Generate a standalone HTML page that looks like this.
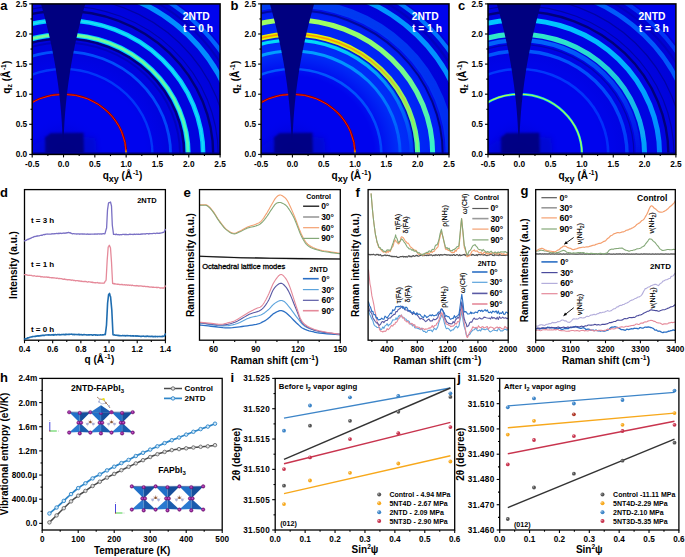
<!DOCTYPE html>
<html><head><meta charset="utf-8"><style>html,body{margin:0;padding:0;background:#fff;overflow:hidden}svg{display:block}</style></head><body>
<svg width="685" height="557" viewBox="0 0 685 557" font-family='"Liberation Sans", sans-serif'>
<defs>
<filter id="blur1" x="-20%" y="-20%" width="140%" height="140%"><feGaussianBlur stdDeviation="0.9"/></filter>
<filter id="blur2" x="-30%" y="-30%" width="160%" height="160%"><feGaussianBlur stdDeviation="2.0"/></filter>
<filter id="soft" x="-5%" y="-5%" width="110%" height="110%"><feGaussianBlur stdDeviation="0.45"/></filter>
<radialGradient id="bg0"><stop offset="0" stop-color="#000090" stop-opacity="0.6"/><stop offset="0.1" stop-color="#0000a0" stop-opacity="0.25"/><stop offset="0.22" stop-color="#0000ff" stop-opacity="0"/><stop offset="0.42" stop-color="#0000b8" stop-opacity="0"/><stop offset="0.55" stop-color="#0000b8" stop-opacity="0.3"/><stop offset="0.76" stop-color="#0000b8" stop-opacity="0.3"/><stop offset="0.8" stop-color="#0000c0" stop-opacity="0.35"/><stop offset="1" stop-color="#0000c0" stop-opacity="0.6"/></radialGradient>
<radialGradient id="bg1"><stop offset="0" stop-color="#000090" stop-opacity="0.6"/><stop offset="0.1" stop-color="#0000a0" stop-opacity="0.25"/><stop offset="0.22" stop-color="#0000ff" stop-opacity="0"/><stop offset="0.42" stop-color="#0050ff" stop-opacity="0"/><stop offset="0.55" stop-color="#0050ff" stop-opacity="0.55"/><stop offset="0.76" stop-color="#0050ff" stop-opacity="0.35"/><stop offset="0.8" stop-color="#0000c0" stop-opacity="0.35"/><stop offset="1" stop-color="#0000c0" stop-opacity="0.6"/></radialGradient>
<radialGradient id="bg2"><stop offset="0" stop-color="#000090" stop-opacity="0.6"/><stop offset="0.1" stop-color="#0000a0" stop-opacity="0.25"/><stop offset="0.22" stop-color="#0000ff" stop-opacity="0"/><stop offset="0.42" stop-color="#0000b8" stop-opacity="0"/><stop offset="0.55" stop-color="#0000b8" stop-opacity="0.2"/><stop offset="0.76" stop-color="#0000b8" stop-opacity="0.25"/><stop offset="0.8" stop-color="#0000c0" stop-opacity="0.35"/><stop offset="1" stop-color="#0000c0" stop-opacity="0.6"/></radialGradient>
</defs>
<rect width="685" height="557" fill="#fff"/>
<clipPath id="clip0"><rect x="32.2" y="3.9" width="187.9" height="150.5"/></clipPath>
<g clip-path="url(#clip0)">
<rect x="32.2" y="3.9" width="187.9" height="150.5" fill="#0004ee"/>
<ellipse cx="63.52" cy="154.4" rx="194.16" ry="186.4" fill="url(#bg0)"/>
<g filter="url(#soft)">
<linearGradient id="rg0_0" gradientUnits="userSpaceOnUse" x1="0" y1="94.27" x2="0" y2="154.4"><stop offset="0" stop-color="#8a0000" stop-opacity="1"/><stop offset="0.9" stop-color="#8a0000" stop-opacity="1"/><stop offset="1" stop-color="#b0ff40" stop-opacity="1"/></linearGradient>
<ellipse cx="63.52" cy="154.4" rx="62.63" ry="60.13" fill="none" stroke="url(#rg0_0)" stroke-width="2.1"/>
<linearGradient id="rg0_1" gradientUnits="userSpaceOnUse" x1="0" y1="94.27" x2="0" y2="154.4"><stop offset="0" stop-color="#ff2000" stop-opacity="1"/><stop offset="0.92" stop-color="#ff2000" stop-opacity="1"/><stop offset="1" stop-color="#ffe000" stop-opacity="1"/></linearGradient>
<ellipse cx="63.52" cy="154.4" rx="62.63" ry="60.13" fill="none" stroke="url(#rg0_1)" stroke-width="0.9"/>
<linearGradient id="rg0_2" gradientUnits="userSpaceOnUse" x1="0" y1="69.02" x2="0" y2="154.4"><stop offset="0" stop-color="#0048ff" stop-opacity="0.75"/><stop offset="0" stop-color="#0048ff" stop-opacity="0.75"/><stop offset="1" stop-color="#0048ff" stop-opacity="0.7"/></linearGradient>
<ellipse cx="63.52" cy="154.4" rx="88.94" ry="85.38" fill="none" stroke="url(#rg0_2)" stroke-width="2.4"/>
<linearGradient id="rg0_3" gradientUnits="userSpaceOnUse" x1="0" y1="51.58" x2="0" y2="154.4"><stop offset="0" stop-color="#0058ff" stop-opacity="0.9"/><stop offset="0" stop-color="#0058ff" stop-opacity="0.9"/><stop offset="1" stop-color="#0050ff" stop-opacity="0.85"/></linearGradient>
<ellipse cx="63.52" cy="154.4" rx="107.1" ry="102.82" fill="none" stroke="url(#rg0_3)" stroke-width="2.8"/>
<linearGradient id="rg0_4" gradientUnits="userSpaceOnUse" x1="0" y1="42.56" x2="0" y2="154.4"><stop offset="0" stop-color="#0000a8" stop-opacity="0.6"/><stop offset="0" stop-color="#0000a8" stop-opacity="0.6"/><stop offset="1" stop-color="#0000a8" stop-opacity="0.6"/></linearGradient>
<ellipse cx="63.52" cy="154.4" rx="116.5" ry="111.84" fill="none" stroke="url(#rg0_4)" stroke-width="2"/>
<linearGradient id="rg0_5" gradientUnits="userSpaceOnUse" x1="0" y1="38.65" x2="0" y2="154.4"><stop offset="0" stop-color="#000070" stop-opacity="0.9"/><stop offset="0" stop-color="#000070" stop-opacity="0.9"/><stop offset="1" stop-color="#000070" stop-opacity="0.85"/></linearGradient>
<ellipse cx="63.52" cy="154.4" rx="120.57" ry="115.75" fill="none" stroke="url(#rg0_5)" stroke-width="2.4"/>
<linearGradient id="rg0_6" gradientUnits="userSpaceOnUse" x1="0" y1="34.75" x2="0" y2="154.4"><stop offset="0" stop-color="#00d8ff" stop-opacity="1"/><stop offset="0" stop-color="#00d8ff" stop-opacity="1"/><stop offset="1" stop-color="#00e0ff" stop-opacity="1"/></linearGradient>
<ellipse cx="63.52" cy="154.4" rx="124.64" ry="119.65" fill="none" stroke="url(#rg0_6)" stroke-width="5"/>
<linearGradient id="rg0_7" gradientUnits="userSpaceOnUse" x1="0" y1="34.75" x2="0" y2="154.4"><stop offset="0" stop-color="#80ff90" stop-opacity="0.9"/><stop offset="0" stop-color="#80ff90" stop-opacity="0.9"/><stop offset="1" stop-color="#70ffa0" stop-opacity="0.7"/></linearGradient>
<ellipse cx="63.52" cy="154.4" rx="124.64" ry="119.65" fill="none" stroke="url(#rg0_7)" stroke-width="2.8"/>
<linearGradient id="rg0_8" gradientUnits="userSpaceOnUse" x1="0" y1="20.31" x2="0" y2="154.4"><stop offset="0" stop-color="#00d0ff" stop-opacity="1"/><stop offset="0" stop-color="#00d0ff" stop-opacity="1"/><stop offset="1" stop-color="#00c8ff" stop-opacity="1"/></linearGradient>
<ellipse cx="63.52" cy="154.4" rx="139.67" ry="134.09" fill="none" stroke="url(#rg0_8)" stroke-width="4.6"/>
<linearGradient id="rg0_9" gradientUnits="userSpaceOnUse" x1="0" y1="20.31" x2="0" y2="154.4"><stop offset="0" stop-color="#40f0e0" stop-opacity="0.5"/><stop offset="0" stop-color="#40f0e0" stop-opacity="0.5"/><stop offset="1" stop-color="#30e8f0" stop-opacity="0.5"/></linearGradient>
<ellipse cx="63.52" cy="154.4" rx="139.67" ry="134.09" fill="none" stroke="url(#rg0_9)" stroke-width="1.6"/>
<linearGradient id="rg0_10" gradientUnits="userSpaceOnUse" x1="0" y1="10.69" x2="0" y2="154.4"><stop offset="0" stop-color="#000070" stop-opacity="0.9"/><stop offset="0" stop-color="#000070" stop-opacity="0.9"/><stop offset="1" stop-color="#000070" stop-opacity="0.9"/></linearGradient>
<ellipse cx="63.52" cy="154.4" rx="149.69" ry="143.71" fill="none" stroke="url(#rg0_10)" stroke-width="2.4"/>
<linearGradient id="rg0_11" gradientUnits="userSpaceOnUse" x1="0" y1="5.88" x2="0" y2="154.4"><stop offset="0" stop-color="#000070" stop-opacity="0.5"/><stop offset="0" stop-color="#000070" stop-opacity="0.5"/><stop offset="1" stop-color="#000070" stop-opacity="0.5"/></linearGradient>
<ellipse cx="63.52" cy="154.4" rx="154.7" ry="148.52" fill="none" stroke="url(#rg0_11)" stroke-width="1.2"/>
<linearGradient id="rg0_12" gradientUnits="userSpaceOnUse" x1="0" y1="-3.14" x2="0" y2="154.4"><stop offset="0" stop-color="#000070" stop-opacity="0.5"/><stop offset="0" stop-color="#000070" stop-opacity="0.5"/><stop offset="1" stop-color="#000070" stop-opacity="0.5"/></linearGradient>
<ellipse cx="63.52" cy="154.4" rx="164.1" ry="157.54" fill="none" stroke="url(#rg0_12)" stroke-width="1.2"/>
<linearGradient id="rg0_13" gradientUnits="userSpaceOnUse" x1="0" y1="-14.56" x2="0" y2="154.4"><stop offset="0" stop-color="#0090ff" stop-opacity="1"/><stop offset="0" stop-color="#0090ff" stop-opacity="1"/><stop offset="1" stop-color="#0088ff" stop-opacity="1"/></linearGradient>
<ellipse cx="63.52" cy="154.4" rx="176" ry="168.96" fill="none" stroke="url(#rg0_13)" stroke-width="5.2"/>
<linearGradient id="rg0_14" gradientUnits="userSpaceOnUse" x1="0" y1="-21.78" x2="0" y2="154.4"><stop offset="0" stop-color="#0000b0" stop-opacity="0.7"/><stop offset="0" stop-color="#0000b0" stop-opacity="0.7"/><stop offset="1" stop-color="#0000b0" stop-opacity="0.7"/></linearGradient>
<ellipse cx="63.52" cy="154.4" rx="183.52" ry="176.18" fill="none" stroke="url(#rg0_14)" stroke-width="2"/>
<linearGradient id="rg0_15" gradientUnits="userSpaceOnUse" x1="0" y1="-28.39" x2="0" y2="154.4"><stop offset="0" stop-color="#0068ff" stop-opacity="0.95"/><stop offset="0" stop-color="#0068ff" stop-opacity="0.95"/><stop offset="1" stop-color="#0068ff" stop-opacity="0.95"/></linearGradient>
<ellipse cx="63.52" cy="154.4" rx="190.41" ry="182.79" fill="none" stroke="url(#rg0_15)" stroke-width="4.2"/>
</g>
<polygon points="78.52,156.4 78.52,136.4 95.52,137.4 97.52,156.4" fill="#0008c8" filter="url(#blur2)" opacity="0.6"/>
<polygon points="45.02,156.4 45.02,137.4 50.52,133.2 83.52,132.8 84.02,156.4" fill="#00007e" filter="url(#blur1)" opacity="0.92"/>
<polygon points="32.52,156.4 32.52,146.4 45.52,138.4 45.52,156.4" fill="#0010d0" filter="url(#blur2)" opacity="0.35"/>
<rect x="32.2" y="152.2" width="187.9" height="2.2" fill="#000090" opacity="0.8"/>
<polygon points="40.11,0.89 40.99,3.9 41.85,6.91 42.69,9.92 43.52,12.93 44.33,15.94 45.12,18.95 45.9,21.96 46.66,24.97 47.4,27.98 48.12,30.99 48.83,34 49.52,37.01 50.19,40.02 50.84,43.03 51.48,46.04 52.09,49.05 52.7,52.06 53.28,55.07 53.85,58.08 54.39,61.09 54.93,64.1 55.44,67.11 55.94,70.12 56.42,73.13 56.88,76.14 57.32,79.15 57.75,82.16 58.16,85.17 58.55,88.18 58.92,91.19 59.28,94.2 59.62,97.21 59.94,100.22 60.25,103.23 60.54,106.24 60.81,109.25 61.06,112.26 61.29,115.27 61.51,118.28 61.71,121.29 61.9,124.3 62.06,127.31 62.21,130.32 62.34,133.33 62.45,136.34 63.12,141.16 63.78,136.34 63.89,133.33 64.02,130.32 64.17,127.31 64.34,124.3 64.52,121.29 64.72,118.28 64.94,115.27 65.17,112.26 65.43,109.25 65.7,106.24 65.98,103.23 66.29,100.22 66.61,97.21 66.95,94.2 67.31,91.19 67.68,88.18 68.08,85.17 68.48,82.16 68.91,79.15 69.36,76.14 69.82,73.13 70.3,70.12 70.79,67.11 71.31,64.1 71.84,61.09 72.39,58.08 72.95,55.07 73.54,52.06 74.14,49.05 74.76,46.04 75.39,43.03 76.05,40.02 76.72,37.01 77.41,34 78.11,30.99 78.84,27.98 79.58,24.97 80.33,21.96 81.11,18.95 81.9,15.94 82.71,12.93 83.54,9.92 84.38,6.91 85.25,3.9 86.13,0.89" fill="#000080"/>
</g>
<rect x="32.2" y="3.9" width="187.9" height="150.5" fill="none" stroke="#000" stroke-width="1.5"/>
<line x1="32.2" y1="154.4" x2="32.2" y2="157.4" stroke="#000" stroke-width="1.1"/>
<line x1="63.52" y1="154.4" x2="63.52" y2="157.4" stroke="#000" stroke-width="1.1"/>
<line x1="94.83" y1="154.4" x2="94.83" y2="157.4" stroke="#000" stroke-width="1.1"/>
<line x1="126.15" y1="154.4" x2="126.15" y2="157.4" stroke="#000" stroke-width="1.1"/>
<line x1="157.47" y1="154.4" x2="157.47" y2="157.4" stroke="#000" stroke-width="1.1"/>
<line x1="188.78" y1="154.4" x2="188.78" y2="157.4" stroke="#000" stroke-width="1.1"/>
<line x1="220.1" y1="154.4" x2="220.1" y2="157.4" stroke="#000" stroke-width="1.1"/>
<line x1="47.86" y1="154.4" x2="47.86" y2="156.1" stroke="#000" stroke-width="1.1"/>
<line x1="79.18" y1="154.4" x2="79.18" y2="156.1" stroke="#000" stroke-width="1.1"/>
<line x1="110.49" y1="154.4" x2="110.49" y2="156.1" stroke="#000" stroke-width="1.1"/>
<line x1="141.81" y1="154.4" x2="141.81" y2="156.1" stroke="#000" stroke-width="1.1"/>
<line x1="173.12" y1="154.4" x2="173.12" y2="156.1" stroke="#000" stroke-width="1.1"/>
<line x1="204.44" y1="154.4" x2="204.44" y2="156.1" stroke="#000" stroke-width="1.1"/>
<text x="32.2" y="166.5" font-size="8.3" text-anchor="middle" font-weight="bold" fill="#000">-0.5</text>
<text x="63.52" y="166.5" font-size="8.3" text-anchor="middle" font-weight="bold" fill="#000">0.0</text>
<text x="94.83" y="166.5" font-size="8.3" text-anchor="middle" font-weight="bold" fill="#000">0.5</text>
<text x="126.15" y="166.5" font-size="8.3" text-anchor="middle" font-weight="bold" fill="#000">1.0</text>
<text x="157.47" y="166.5" font-size="8.3" text-anchor="middle" font-weight="bold" fill="#000">1.5</text>
<text x="188.78" y="166.5" font-size="8.3" text-anchor="middle" font-weight="bold" fill="#000">2.0</text>
<text x="220.1" y="166.5" font-size="8.3" text-anchor="middle" font-weight="bold" fill="#000">2.5</text>
<line x1="32.2" y1="154.4" x2="29.2" y2="154.4" stroke="#000" stroke-width="1.1"/>
<line x1="32.2" y1="124.3" x2="29.2" y2="124.3" stroke="#000" stroke-width="1.1"/>
<line x1="32.2" y1="94.2" x2="29.2" y2="94.2" stroke="#000" stroke-width="1.1"/>
<line x1="32.2" y1="64.1" x2="29.2" y2="64.1" stroke="#000" stroke-width="1.1"/>
<line x1="32.2" y1="34" x2="29.2" y2="34" stroke="#000" stroke-width="1.1"/>
<line x1="32.2" y1="3.9" x2="29.2" y2="3.9" stroke="#000" stroke-width="1.1"/>
<line x1="32.2" y1="139.35" x2="30.5" y2="139.35" stroke="#000" stroke-width="1.1"/>
<line x1="32.2" y1="109.25" x2="30.5" y2="109.25" stroke="#000" stroke-width="1.1"/>
<line x1="32.2" y1="79.15" x2="30.5" y2="79.15" stroke="#000" stroke-width="1.1"/>
<line x1="32.2" y1="49.05" x2="30.5" y2="49.05" stroke="#000" stroke-width="1.1"/>
<line x1="32.2" y1="18.95" x2="30.5" y2="18.95" stroke="#000" stroke-width="1.1"/>
<text x="27.2" y="157.4" font-size="8.3" text-anchor="end" font-weight="bold" fill="#000">0.0</text>
<text x="27.2" y="127.3" font-size="8.3" text-anchor="end" font-weight="bold" fill="#000">0.5</text>
<text x="27.2" y="97.2" font-size="8.3" text-anchor="end" font-weight="bold" fill="#000">1.0</text>
<text x="27.2" y="67.1" font-size="8.3" text-anchor="end" font-weight="bold" fill="#000">1.5</text>
<text x="27.2" y="37" font-size="8.3" text-anchor="end" font-weight="bold" fill="#000">2.0</text>
<text x="27.2" y="6.9" font-size="8.3" text-anchor="end" font-weight="bold" fill="#000">2.5</text>
<text x="182.8" y="19.5" font-size="10.3" text-anchor="start" font-weight="bold" fill="#fff">2NTD</text>
<text x="183" y="31.6" font-size="10.3" text-anchor="start" font-weight="bold" fill="#fff">t = 0 h</text>
<text x="10.2" y="77.15" font-size="10" text-anchor="middle" font-weight="bold" fill="#000" transform="rotate(-90 10.2 77.15)">q<tspan font-size="7" dy="2">z</tspan><tspan dy="-2"> (Å</tspan><tspan font-size="6.6" dy="-3.8" dx="0.7">-1</tspan><tspan dy="3.8" dx="0.3">)</tspan></text>
<text x="122.55" y="178.8" font-size="10" text-anchor="middle" font-weight="bold" fill="#000">q<tspan font-size="9" dy="2.8">xy</tspan><tspan dy="-2.8"> (Å</tspan><tspan font-size="6.6" dy="-3.8" dx="0.7">-1</tspan><tspan dy="3.8" dx="0.3">)</tspan></text>
<text x="0.2" y="9.5" font-size="13" text-anchor="start" font-weight="bold" fill="#000">a</text>
<clipPath id="clip1"><rect x="261.1" y="3.9" width="187.9" height="150.5"/></clipPath>
<g clip-path="url(#clip1)">
<rect x="261.1" y="3.9" width="187.9" height="150.5" fill="#0004ee"/>
<ellipse cx="292.42" cy="154.4" rx="194.16" ry="186.4" fill="url(#bg1)"/>
<g filter="url(#soft)">
<linearGradient id="rg1_0" gradientUnits="userSpaceOnUse" x1="0" y1="94.27" x2="0" y2="154.4"><stop offset="0" stop-color="#8a0000" stop-opacity="1"/><stop offset="0.9" stop-color="#8a0000" stop-opacity="1"/><stop offset="1" stop-color="#c0ff20" stop-opacity="1"/></linearGradient>
<ellipse cx="292.42" cy="154.4" rx="62.63" ry="60.13" fill="none" stroke="url(#rg1_0)" stroke-width="2.1"/>
<linearGradient id="rg1_1" gradientUnits="userSpaceOnUse" x1="0" y1="94.27" x2="0" y2="154.4"><stop offset="0" stop-color="#ff2000" stop-opacity="1"/><stop offset="0.92" stop-color="#ff2000" stop-opacity="1"/><stop offset="1" stop-color="#ffe000" stop-opacity="1"/></linearGradient>
<ellipse cx="292.42" cy="154.4" rx="62.63" ry="60.13" fill="none" stroke="url(#rg1_1)" stroke-width="0.9"/>
<linearGradient id="rg1_2" gradientUnits="userSpaceOnUse" x1="0" y1="69.02" x2="0" y2="154.4"><stop offset="0" stop-color="#0060ff" stop-opacity="0.9"/><stop offset="0" stop-color="#0060ff" stop-opacity="0.9"/><stop offset="1" stop-color="#0050ff" stop-opacity="0.8"/></linearGradient>
<ellipse cx="292.42" cy="154.4" rx="88.94" ry="85.38" fill="none" stroke="url(#rg1_2)" stroke-width="2.6"/>
<linearGradient id="rg1_3" gradientUnits="userSpaceOnUse" x1="0" y1="50.98" x2="0" y2="154.4"><stop offset="0" stop-color="#00a0ff" stop-opacity="1"/><stop offset="0" stop-color="#00a0ff" stop-opacity="1"/><stop offset="1" stop-color="#0058ff" stop-opacity="0.85"/></linearGradient>
<ellipse cx="292.42" cy="154.4" rx="107.73" ry="103.42" fill="none" stroke="url(#rg1_3)" stroke-width="3"/>
<linearGradient id="rg1_4" gradientUnits="userSpaceOnUse" x1="0" y1="40.16" x2="0" y2="154.4"><stop offset="0" stop-color="#00e0f8" stop-opacity="1"/><stop offset="0" stop-color="#00e0f8" stop-opacity="1"/><stop offset="1" stop-color="#0090ff" stop-opacity="0.15"/></linearGradient>
<ellipse cx="292.42" cy="154.4" rx="119" ry="114.24" fill="none" stroke="url(#rg1_4)" stroke-width="3.4"/>
<linearGradient id="rg1_5" gradientUnits="userSpaceOnUse" x1="0" y1="37.15" x2="0" y2="154.4"><stop offset="0" stop-color="#000070" stop-opacity="0.3"/><stop offset="0" stop-color="#000070" stop-opacity="0.3"/><stop offset="1" stop-color="#000070" stop-opacity="0.8"/></linearGradient>
<ellipse cx="292.42" cy="154.4" rx="122.13" ry="117.25" fill="none" stroke="url(#rg1_5)" stroke-width="1"/>
<linearGradient id="rg1_6" gradientUnits="userSpaceOnUse" x1="0" y1="34.14" x2="0" y2="154.4"><stop offset="0" stop-color="#e8f000" stop-opacity="1"/><stop offset="0" stop-color="#e8f000" stop-opacity="1"/><stop offset="1" stop-color="#40ffb0" stop-opacity="1"/></linearGradient>
<ellipse cx="292.42" cy="154.4" rx="125.27" ry="120.26" fill="none" stroke="url(#rg1_6)" stroke-width="5"/>
<linearGradient id="rg1_7" gradientUnits="userSpaceOnUse" x1="0" y1="34.14" x2="0" y2="154.4"><stop offset="0" stop-color="#ff8000" stop-opacity="0.8"/><stop offset="0" stop-color="#ff8000" stop-opacity="0.8"/><stop offset="1" stop-color="#a0ff60" stop-opacity="0.5"/></linearGradient>
<ellipse cx="292.42" cy="154.4" rx="125.27" ry="120.26" fill="none" stroke="url(#rg1_7)" stroke-width="1.8"/>
<linearGradient id="rg1_8" gradientUnits="userSpaceOnUse" x1="0" y1="19.71" x2="0" y2="154.4"><stop offset="0" stop-color="#a0ff60" stop-opacity="1"/><stop offset="0" stop-color="#a0ff60" stop-opacity="1"/><stop offset="1" stop-color="#30f0d0" stop-opacity="1"/></linearGradient>
<ellipse cx="292.42" cy="154.4" rx="140.3" ry="134.69" fill="none" stroke="url(#rg1_8)" stroke-width="5"/>
<linearGradient id="rg1_9" gradientUnits="userSpaceOnUse" x1="0" y1="10.09" x2="0" y2="154.4"><stop offset="0" stop-color="#000070" stop-opacity="0.6"/><stop offset="0" stop-color="#000070" stop-opacity="0.6"/><stop offset="1" stop-color="#000070" stop-opacity="0.9"/></linearGradient>
<ellipse cx="292.42" cy="154.4" rx="150.32" ry="144.31" fill="none" stroke="url(#rg1_9)" stroke-width="2"/>
<linearGradient id="rg1_10" gradientUnits="userSpaceOnUse" x1="0" y1="2.88" x2="0" y2="154.4"><stop offset="0" stop-color="#0060ff" stop-opacity="0.6"/><stop offset="0" stop-color="#0060ff" stop-opacity="0.6"/><stop offset="1" stop-color="#0050ff" stop-opacity="0.5"/></linearGradient>
<ellipse cx="292.42" cy="154.4" rx="157.84" ry="151.52" fill="none" stroke="url(#rg1_10)" stroke-width="9"/>
<linearGradient id="rg1_11" gradientUnits="userSpaceOnUse" x1="0" y1="-14.56" x2="0" y2="154.4"><stop offset="0" stop-color="#0098ff" stop-opacity="1"/><stop offset="0" stop-color="#0098ff" stop-opacity="1"/><stop offset="1" stop-color="#0088ff" stop-opacity="1"/></linearGradient>
<ellipse cx="292.42" cy="154.4" rx="176" ry="168.96" fill="none" stroke="url(#rg1_11)" stroke-width="5"/>
<linearGradient id="rg1_12" gradientUnits="userSpaceOnUse" x1="0" y1="-21.78" x2="0" y2="154.4"><stop offset="0" stop-color="#0000b0" stop-opacity="0.6"/><stop offset="0" stop-color="#0000b0" stop-opacity="0.6"/><stop offset="1" stop-color="#0000b0" stop-opacity="0.6"/></linearGradient>
<ellipse cx="292.42" cy="154.4" rx="183.52" ry="176.18" fill="none" stroke="url(#rg1_12)" stroke-width="2.4"/>
<linearGradient id="rg1_13" gradientUnits="userSpaceOnUse" x1="0" y1="-28.39" x2="0" y2="154.4"><stop offset="0" stop-color="#0080ff" stop-opacity="0.95"/><stop offset="0" stop-color="#0080ff" stop-opacity="0.95"/><stop offset="1" stop-color="#0070ff" stop-opacity="0.95"/></linearGradient>
<ellipse cx="292.42" cy="154.4" rx="190.41" ry="182.79" fill="none" stroke="url(#rg1_13)" stroke-width="4.2"/>
</g>
<polygon points="307.42,156.4 307.42,136.4 324.42,137.4 326.42,156.4" fill="#0008c8" filter="url(#blur2)" opacity="0.6"/>
<polygon points="273.92,156.4 273.92,137.4 279.42,133.2 312.42,132.8 312.92,156.4" fill="#00007e" filter="url(#blur1)" opacity="0.92"/>
<polygon points="261.42,156.4 261.42,146.4 274.42,138.4 274.42,156.4" fill="#0010d0" filter="url(#blur2)" opacity="0.35"/>
<rect x="261.1" y="152.2" width="187.9" height="2.2" fill="#000090" opacity="0.8"/>
<polygon points="269.01,0.89 269.89,3.9 270.75,6.91 271.59,9.92 272.42,12.93 273.23,15.94 274.02,18.95 274.8,21.96 275.56,24.97 276.3,27.98 277.02,30.99 277.73,34 278.42,37.01 279.09,40.02 279.74,43.03 280.38,46.04 280.99,49.05 281.6,52.06 282.18,55.07 282.75,58.08 283.29,61.09 283.83,64.1 284.34,67.11 284.84,70.12 285.32,73.13 285.78,76.14 286.22,79.15 286.65,82.16 287.06,85.17 287.45,88.18 287.82,91.19 288.18,94.2 288.52,97.21 288.84,100.22 289.15,103.23 289.44,106.24 289.71,109.25 289.96,112.26 290.19,115.27 290.41,118.28 290.61,121.29 290.8,124.3 290.96,127.31 291.11,130.32 291.24,133.33 291.35,136.34 292.02,141.16 292.68,136.34 292.79,133.33 292.92,130.32 293.07,127.31 293.24,124.3 293.42,121.29 293.62,118.28 293.84,115.27 294.07,112.26 294.33,109.25 294.6,106.24 294.88,103.23 295.19,100.22 295.51,97.21 295.85,94.2 296.21,91.19 296.58,88.18 296.98,85.17 297.38,82.16 297.81,79.15 298.26,76.14 298.72,73.13 299.2,70.12 299.69,67.11 300.21,64.1 300.74,61.09 301.29,58.08 301.85,55.07 302.44,52.06 303.04,49.05 303.66,46.04 304.29,43.03 304.95,40.02 305.62,37.01 306.31,34 307.01,30.99 307.74,27.98 308.48,24.97 309.23,21.96 310.01,18.95 310.8,15.94 311.61,12.93 312.44,9.92 313.28,6.91 314.15,3.9 315.03,0.89" fill="#000080"/>
</g>
<rect x="261.1" y="3.9" width="187.9" height="150.5" fill="none" stroke="#000" stroke-width="1.5"/>
<line x1="261.1" y1="154.4" x2="261.1" y2="157.4" stroke="#000" stroke-width="1.1"/>
<line x1="292.42" y1="154.4" x2="292.42" y2="157.4" stroke="#000" stroke-width="1.1"/>
<line x1="323.73" y1="154.4" x2="323.73" y2="157.4" stroke="#000" stroke-width="1.1"/>
<line x1="355.05" y1="154.4" x2="355.05" y2="157.4" stroke="#000" stroke-width="1.1"/>
<line x1="386.37" y1="154.4" x2="386.37" y2="157.4" stroke="#000" stroke-width="1.1"/>
<line x1="417.68" y1="154.4" x2="417.68" y2="157.4" stroke="#000" stroke-width="1.1"/>
<line x1="449" y1="154.4" x2="449" y2="157.4" stroke="#000" stroke-width="1.1"/>
<line x1="276.76" y1="154.4" x2="276.76" y2="156.1" stroke="#000" stroke-width="1.1"/>
<line x1="308.08" y1="154.4" x2="308.08" y2="156.1" stroke="#000" stroke-width="1.1"/>
<line x1="339.39" y1="154.4" x2="339.39" y2="156.1" stroke="#000" stroke-width="1.1"/>
<line x1="370.71" y1="154.4" x2="370.71" y2="156.1" stroke="#000" stroke-width="1.1"/>
<line x1="402.02" y1="154.4" x2="402.02" y2="156.1" stroke="#000" stroke-width="1.1"/>
<line x1="433.34" y1="154.4" x2="433.34" y2="156.1" stroke="#000" stroke-width="1.1"/>
<text x="261.1" y="166.5" font-size="8.3" text-anchor="middle" font-weight="bold" fill="#000">-0.5</text>
<text x="292.42" y="166.5" font-size="8.3" text-anchor="middle" font-weight="bold" fill="#000">0.0</text>
<text x="323.73" y="166.5" font-size="8.3" text-anchor="middle" font-weight="bold" fill="#000">0.5</text>
<text x="355.05" y="166.5" font-size="8.3" text-anchor="middle" font-weight="bold" fill="#000">1.0</text>
<text x="386.37" y="166.5" font-size="8.3" text-anchor="middle" font-weight="bold" fill="#000">1.5</text>
<text x="417.68" y="166.5" font-size="8.3" text-anchor="middle" font-weight="bold" fill="#000">2.0</text>
<text x="449" y="166.5" font-size="8.3" text-anchor="middle" font-weight="bold" fill="#000">2.5</text>
<line x1="261.1" y1="154.4" x2="258.1" y2="154.4" stroke="#000" stroke-width="1.1"/>
<line x1="261.1" y1="124.3" x2="258.1" y2="124.3" stroke="#000" stroke-width="1.1"/>
<line x1="261.1" y1="94.2" x2="258.1" y2="94.2" stroke="#000" stroke-width="1.1"/>
<line x1="261.1" y1="64.1" x2="258.1" y2="64.1" stroke="#000" stroke-width="1.1"/>
<line x1="261.1" y1="34" x2="258.1" y2="34" stroke="#000" stroke-width="1.1"/>
<line x1="261.1" y1="3.9" x2="258.1" y2="3.9" stroke="#000" stroke-width="1.1"/>
<line x1="261.1" y1="139.35" x2="259.4" y2="139.35" stroke="#000" stroke-width="1.1"/>
<line x1="261.1" y1="109.25" x2="259.4" y2="109.25" stroke="#000" stroke-width="1.1"/>
<line x1="261.1" y1="79.15" x2="259.4" y2="79.15" stroke="#000" stroke-width="1.1"/>
<line x1="261.1" y1="49.05" x2="259.4" y2="49.05" stroke="#000" stroke-width="1.1"/>
<line x1="261.1" y1="18.95" x2="259.4" y2="18.95" stroke="#000" stroke-width="1.1"/>
<text x="256.1" y="157.4" font-size="8.3" text-anchor="end" font-weight="bold" fill="#000">0.0</text>
<text x="256.1" y="127.3" font-size="8.3" text-anchor="end" font-weight="bold" fill="#000">0.5</text>
<text x="256.1" y="97.2" font-size="8.3" text-anchor="end" font-weight="bold" fill="#000">1.0</text>
<text x="256.1" y="67.1" font-size="8.3" text-anchor="end" font-weight="bold" fill="#000">1.5</text>
<text x="256.1" y="37" font-size="8.3" text-anchor="end" font-weight="bold" fill="#000">2.0</text>
<text x="256.1" y="6.9" font-size="8.3" text-anchor="end" font-weight="bold" fill="#000">2.5</text>
<text x="411.7" y="19.5" font-size="10.3" text-anchor="start" font-weight="bold" fill="#fff">2NTD</text>
<text x="411.9" y="31.6" font-size="10.3" text-anchor="start" font-weight="bold" fill="#fff">t = 1 h</text>
<text x="239.1" y="77.15" font-size="10" text-anchor="middle" font-weight="bold" fill="#000" transform="rotate(-90 239.1 77.15)">q<tspan font-size="7" dy="2">z</tspan><tspan dy="-2"> (Å</tspan><tspan font-size="6.6" dy="-3.8" dx="0.7">-1</tspan><tspan dy="3.8" dx="0.3">)</tspan></text>
<text x="351.45" y="178.8" font-size="10" text-anchor="middle" font-weight="bold" fill="#000">q<tspan font-size="9" dy="2.8">xy</tspan><tspan dy="-2.8"> (Å</tspan><tspan font-size="6.6" dy="-3.8" dx="0.7">-1</tspan><tspan dy="3.8" dx="0.3">)</tspan></text>
<text x="230.5" y="9.5" font-size="13" text-anchor="start" font-weight="bold" fill="#000">b</text>
<clipPath id="clip2"><rect x="488" y="3.9" width="187.9" height="150.5"/></clipPath>
<g clip-path="url(#clip2)">
<rect x="488" y="3.9" width="187.9" height="150.5" fill="#0004ee"/>
<ellipse cx="519.32" cy="154.4" rx="194.16" ry="186.4" fill="url(#bg2)"/>
<g filter="url(#soft)">
<linearGradient id="rg2_0" gradientUnits="userSpaceOnUse" x1="0" y1="94.27" x2="0" y2="154.4"><stop offset="0" stop-color="#00d8e8" stop-opacity="1"/><stop offset="0" stop-color="#00d8e8" stop-opacity="1"/><stop offset="1" stop-color="#20e8c0" stop-opacity="1"/></linearGradient>
<ellipse cx="519.32" cy="154.4" rx="62.63" ry="60.13" fill="none" stroke="url(#rg2_0)" stroke-width="2.3"/>
<linearGradient id="rg2_1" gradientUnits="userSpaceOnUse" x1="0" y1="94.27" x2="0" y2="154.4"><stop offset="0" stop-color="#d0ff30" stop-opacity="0.9"/><stop offset="0.5" stop-color="#d0ff30" stop-opacity="0.9"/><stop offset="1" stop-color="#b0ff50" stop-opacity="0.9"/></linearGradient>
<ellipse cx="519.32" cy="154.4" rx="62.63" ry="60.13" fill="none" stroke="url(#rg2_1)" stroke-width="1.1"/>
<linearGradient id="rg2_2" gradientUnits="userSpaceOnUse" x1="0" y1="69.02" x2="0" y2="154.4"><stop offset="0" stop-color="#0040ff" stop-opacity="0.85"/><stop offset="0" stop-color="#0040ff" stop-opacity="0.85"/><stop offset="1" stop-color="#0038ff" stop-opacity="0.75"/></linearGradient>
<ellipse cx="519.32" cy="154.4" rx="88.94" ry="85.38" fill="none" stroke="url(#rg2_2)" stroke-width="2.6"/>
<linearGradient id="rg2_3" gradientUnits="userSpaceOnUse" x1="0" y1="50.98" x2="0" y2="154.4"><stop offset="0" stop-color="#0060ff" stop-opacity="0.9"/><stop offset="0" stop-color="#0060ff" stop-opacity="0.9"/><stop offset="1" stop-color="#0048ff" stop-opacity="0.8"/></linearGradient>
<ellipse cx="519.32" cy="154.4" rx="107.73" ry="103.42" fill="none" stroke="url(#rg2_3)" stroke-width="3.4"/>
<linearGradient id="rg2_4" gradientUnits="userSpaceOnUse" x1="0" y1="44.37" x2="0" y2="154.4"><stop offset="0" stop-color="#000070" stop-opacity="0.4"/><stop offset="0" stop-color="#000070" stop-opacity="0.4"/><stop offset="1" stop-color="#000070" stop-opacity="0.5"/></linearGradient>
<ellipse cx="519.32" cy="154.4" rx="114.62" ry="110.03" fill="none" stroke="url(#rg2_4)" stroke-width="1.2"/>
<linearGradient id="rg2_5" gradientUnits="userSpaceOnUse" x1="0" y1="40.16" x2="0" y2="154.4"><stop offset="0" stop-color="#0070ff" stop-opacity="0.9"/><stop offset="0" stop-color="#0070ff" stop-opacity="0.9"/><stop offset="1" stop-color="#0050ff" stop-opacity="0.15"/></linearGradient>
<ellipse cx="519.32" cy="154.4" rx="119" ry="114.24" fill="none" stroke="url(#rg2_5)" stroke-width="4.4"/>
<linearGradient id="rg2_6" gradientUnits="userSpaceOnUse" x1="0" y1="34.14" x2="0" y2="154.4"><stop offset="0" stop-color="#30e8c8" stop-opacity="1"/><stop offset="0" stop-color="#30e8c8" stop-opacity="1"/><stop offset="1" stop-color="#0098ff" stop-opacity="1"/></linearGradient>
<ellipse cx="519.32" cy="154.4" rx="125.27" ry="120.26" fill="none" stroke="url(#rg2_6)" stroke-width="5"/>
<linearGradient id="rg2_7" gradientUnits="userSpaceOnUse" x1="0" y1="19.71" x2="0" y2="154.4"><stop offset="0" stop-color="#00c8ff" stop-opacity="1"/><stop offset="0" stop-color="#00c8ff" stop-opacity="1"/><stop offset="1" stop-color="#0080ff" stop-opacity="1"/></linearGradient>
<ellipse cx="519.32" cy="154.4" rx="140.3" ry="134.69" fill="none" stroke="url(#rg2_7)" stroke-width="5"/>
<linearGradient id="rg2_8" gradientUnits="userSpaceOnUse" x1="0" y1="11.3" x2="0" y2="154.4"><stop offset="0" stop-color="#000070" stop-opacity="0.9"/><stop offset="0" stop-color="#000070" stop-opacity="0.9"/><stop offset="1" stop-color="#000070" stop-opacity="0.9"/></linearGradient>
<ellipse cx="519.32" cy="154.4" rx="149.07" ry="143.1" fill="none" stroke="url(#rg2_8)" stroke-width="2.4"/>
<linearGradient id="rg2_9" gradientUnits="userSpaceOnUse" x1="0" y1="5.88" x2="0" y2="154.4"><stop offset="0" stop-color="#000070" stop-opacity="0.5"/><stop offset="0" stop-color="#000070" stop-opacity="0.5"/><stop offset="1" stop-color="#000070" stop-opacity="0.5"/></linearGradient>
<ellipse cx="519.32" cy="154.4" rx="154.7" ry="148.52" fill="none" stroke="url(#rg2_9)" stroke-width="1.2"/>
<linearGradient id="rg2_10" gradientUnits="userSpaceOnUse" x1="0" y1="-3.14" x2="0" y2="154.4"><stop offset="0" stop-color="#000070" stop-opacity="0.5"/><stop offset="0" stop-color="#000070" stop-opacity="0.5"/><stop offset="1" stop-color="#000070" stop-opacity="0.5"/></linearGradient>
<ellipse cx="519.32" cy="154.4" rx="164.1" ry="157.54" fill="none" stroke="url(#rg2_10)" stroke-width="1.2"/>
<linearGradient id="rg2_11" gradientUnits="userSpaceOnUse" x1="0" y1="-14.56" x2="0" y2="154.4"><stop offset="0" stop-color="#0068ff" stop-opacity="0.9"/><stop offset="0" stop-color="#0068ff" stop-opacity="0.9"/><stop offset="1" stop-color="#0058ff" stop-opacity="0.9"/></linearGradient>
<ellipse cx="519.32" cy="154.4" rx="176" ry="168.96" fill="none" stroke="url(#rg2_11)" stroke-width="4.6"/>
<linearGradient id="rg2_12" gradientUnits="userSpaceOnUse" x1="0" y1="-21.78" x2="0" y2="154.4"><stop offset="0" stop-color="#0000b0" stop-opacity="0.6"/><stop offset="0" stop-color="#0000b0" stop-opacity="0.6"/><stop offset="1" stop-color="#0000b0" stop-opacity="0.6"/></linearGradient>
<ellipse cx="519.32" cy="154.4" rx="183.52" ry="176.18" fill="none" stroke="url(#rg2_12)" stroke-width="2"/>
<linearGradient id="rg2_13" gradientUnits="userSpaceOnUse" x1="0" y1="-28.39" x2="0" y2="154.4"><stop offset="0" stop-color="#0040ff" stop-opacity="0.8"/><stop offset="0" stop-color="#0040ff" stop-opacity="0.8"/><stop offset="1" stop-color="#0040ff" stop-opacity="0.8"/></linearGradient>
<ellipse cx="519.32" cy="154.4" rx="190.41" ry="182.79" fill="none" stroke="url(#rg2_13)" stroke-width="4.2"/>
</g>
<polygon points="534.32,156.4 534.32,136.4 551.32,137.4 553.32,156.4" fill="#0008c8" filter="url(#blur2)" opacity="0.6"/>
<polygon points="500.82,156.4 500.82,137.4 506.32,133.2 539.32,132.8 539.82,156.4" fill="#00007e" filter="url(#blur1)" opacity="0.92"/>
<polygon points="488.32,156.4 488.32,146.4 501.32,138.4 501.32,156.4" fill="#0010d0" filter="url(#blur2)" opacity="0.35"/>
<rect x="488" y="152.2" width="187.9" height="2.2" fill="#000090" opacity="0.8"/>
<polygon points="495.91,0.89 496.79,3.9 497.65,6.91 498.49,9.92 499.32,12.93 500.13,15.94 500.92,18.95 501.7,21.96 502.46,24.97 503.2,27.98 503.92,30.99 504.63,34 505.32,37.01 505.99,40.02 506.64,43.03 507.28,46.04 507.89,49.05 508.5,52.06 509.08,55.07 509.65,58.08 510.19,61.09 510.73,64.1 511.24,67.11 511.74,70.12 512.22,73.13 512.68,76.14 513.12,79.15 513.55,82.16 513.96,85.17 514.35,88.18 514.72,91.19 515.08,94.2 515.42,97.21 515.74,100.22 516.05,103.23 516.34,106.24 516.61,109.25 516.86,112.26 517.09,115.27 517.31,118.28 517.51,121.29 517.7,124.3 517.86,127.31 518.01,130.32 518.14,133.33 518.25,136.34 518.92,141.16 519.58,136.34 519.69,133.33 519.82,130.32 519.97,127.31 520.14,124.3 520.32,121.29 520.52,118.28 520.74,115.27 520.97,112.26 521.23,109.25 521.5,106.24 521.78,103.23 522.09,100.22 522.41,97.21 522.75,94.2 523.11,91.19 523.48,88.18 523.88,85.17 524.28,82.16 524.71,79.15 525.16,76.14 525.62,73.13 526.1,70.12 526.59,67.11 527.11,64.1 527.64,61.09 528.19,58.08 528.75,55.07 529.34,52.06 529.94,49.05 530.56,46.04 531.19,43.03 531.85,40.02 532.52,37.01 533.21,34 533.91,30.99 534.64,27.98 535.38,24.97 536.13,21.96 536.91,18.95 537.7,15.94 538.51,12.93 539.34,9.92 540.18,6.91 541.05,3.9 541.93,0.89" fill="#000080"/>
</g>
<rect x="488" y="3.9" width="187.9" height="150.5" fill="none" stroke="#000" stroke-width="1.5"/>
<line x1="488" y1="154.4" x2="488" y2="157.4" stroke="#000" stroke-width="1.1"/>
<line x1="519.32" y1="154.4" x2="519.32" y2="157.4" stroke="#000" stroke-width="1.1"/>
<line x1="550.63" y1="154.4" x2="550.63" y2="157.4" stroke="#000" stroke-width="1.1"/>
<line x1="581.95" y1="154.4" x2="581.95" y2="157.4" stroke="#000" stroke-width="1.1"/>
<line x1="613.27" y1="154.4" x2="613.27" y2="157.4" stroke="#000" stroke-width="1.1"/>
<line x1="644.58" y1="154.4" x2="644.58" y2="157.4" stroke="#000" stroke-width="1.1"/>
<line x1="675.9" y1="154.4" x2="675.9" y2="157.4" stroke="#000" stroke-width="1.1"/>
<line x1="503.66" y1="154.4" x2="503.66" y2="156.1" stroke="#000" stroke-width="1.1"/>
<line x1="534.98" y1="154.4" x2="534.98" y2="156.1" stroke="#000" stroke-width="1.1"/>
<line x1="566.29" y1="154.4" x2="566.29" y2="156.1" stroke="#000" stroke-width="1.1"/>
<line x1="597.61" y1="154.4" x2="597.61" y2="156.1" stroke="#000" stroke-width="1.1"/>
<line x1="628.92" y1="154.4" x2="628.92" y2="156.1" stroke="#000" stroke-width="1.1"/>
<line x1="660.24" y1="154.4" x2="660.24" y2="156.1" stroke="#000" stroke-width="1.1"/>
<text x="488" y="166.5" font-size="8.3" text-anchor="middle" font-weight="bold" fill="#000">-0.5</text>
<text x="519.32" y="166.5" font-size="8.3" text-anchor="middle" font-weight="bold" fill="#000">0.0</text>
<text x="550.63" y="166.5" font-size="8.3" text-anchor="middle" font-weight="bold" fill="#000">0.5</text>
<text x="581.95" y="166.5" font-size="8.3" text-anchor="middle" font-weight="bold" fill="#000">1.0</text>
<text x="613.27" y="166.5" font-size="8.3" text-anchor="middle" font-weight="bold" fill="#000">1.5</text>
<text x="644.58" y="166.5" font-size="8.3" text-anchor="middle" font-weight="bold" fill="#000">2.0</text>
<text x="675.9" y="166.5" font-size="8.3" text-anchor="middle" font-weight="bold" fill="#000">2.5</text>
<line x1="488" y1="154.4" x2="485" y2="154.4" stroke="#000" stroke-width="1.1"/>
<line x1="488" y1="124.3" x2="485" y2="124.3" stroke="#000" stroke-width="1.1"/>
<line x1="488" y1="94.2" x2="485" y2="94.2" stroke="#000" stroke-width="1.1"/>
<line x1="488" y1="64.1" x2="485" y2="64.1" stroke="#000" stroke-width="1.1"/>
<line x1="488" y1="34" x2="485" y2="34" stroke="#000" stroke-width="1.1"/>
<line x1="488" y1="3.9" x2="485" y2="3.9" stroke="#000" stroke-width="1.1"/>
<line x1="488" y1="139.35" x2="486.3" y2="139.35" stroke="#000" stroke-width="1.1"/>
<line x1="488" y1="109.25" x2="486.3" y2="109.25" stroke="#000" stroke-width="1.1"/>
<line x1="488" y1="79.15" x2="486.3" y2="79.15" stroke="#000" stroke-width="1.1"/>
<line x1="488" y1="49.05" x2="486.3" y2="49.05" stroke="#000" stroke-width="1.1"/>
<line x1="488" y1="18.95" x2="486.3" y2="18.95" stroke="#000" stroke-width="1.1"/>
<text x="483" y="157.4" font-size="8.3" text-anchor="end" font-weight="bold" fill="#000">0.0</text>
<text x="483" y="127.3" font-size="8.3" text-anchor="end" font-weight="bold" fill="#000">0.5</text>
<text x="483" y="97.2" font-size="8.3" text-anchor="end" font-weight="bold" fill="#000">1.0</text>
<text x="483" y="67.1" font-size="8.3" text-anchor="end" font-weight="bold" fill="#000">1.5</text>
<text x="483" y="37" font-size="8.3" text-anchor="end" font-weight="bold" fill="#000">2.0</text>
<text x="483" y="6.9" font-size="8.3" text-anchor="end" font-weight="bold" fill="#000">2.5</text>
<text x="638.6" y="19.5" font-size="10.3" text-anchor="start" font-weight="bold" fill="#fff">2NTD</text>
<text x="638.8" y="31.6" font-size="10.3" text-anchor="start" font-weight="bold" fill="#fff">t = 3 h</text>
<text x="466" y="77.15" font-size="10" text-anchor="middle" font-weight="bold" fill="#000" transform="rotate(-90 466 77.15)">q<tspan font-size="7" dy="2">z</tspan><tspan dy="-2"> (Å</tspan><tspan font-size="6.6" dy="-3.8" dx="0.7">-1</tspan><tspan dy="3.8" dx="0.3">)</tspan></text>
<text x="578.35" y="178.8" font-size="10" text-anchor="middle" font-weight="bold" fill="#000">q<tspan font-size="9" dy="2.8">xy</tspan><tspan dy="-2.8"> (Å</tspan><tspan font-size="6.6" dy="-3.8" dx="0.7">-1</tspan><tspan dy="3.8" dx="0.3">)</tspan></text>
<text x="458" y="9.5" font-size="13" text-anchor="start" font-weight="bold" fill="#000">c</text>
<rect x="24.5" y="189.6" width="140.9" height="150.6" fill="none" stroke="#000" stroke-width="1.3"/>
<line x1="24.5" y1="340.2" x2="24.5" y2="343.2" stroke="#000" stroke-width="1.1"/>
<line x1="52.68" y1="340.2" x2="52.68" y2="343.2" stroke="#000" stroke-width="1.1"/>
<line x1="80.86" y1="340.2" x2="80.86" y2="343.2" stroke="#000" stroke-width="1.1"/>
<line x1="109.04" y1="340.2" x2="109.04" y2="343.2" stroke="#000" stroke-width="1.1"/>
<line x1="137.22" y1="340.2" x2="137.22" y2="343.2" stroke="#000" stroke-width="1.1"/>
<line x1="165.4" y1="340.2" x2="165.4" y2="343.2" stroke="#000" stroke-width="1.1"/>
<line x1="38.59" y1="340.2" x2="38.59" y2="341.9" stroke="#000" stroke-width="1.1"/>
<line x1="66.77" y1="340.2" x2="66.77" y2="341.9" stroke="#000" stroke-width="1.1"/>
<line x1="94.95" y1="340.2" x2="94.95" y2="341.9" stroke="#000" stroke-width="1.1"/>
<line x1="123.13" y1="340.2" x2="123.13" y2="341.9" stroke="#000" stroke-width="1.1"/>
<line x1="151.31" y1="340.2" x2="151.31" y2="341.9" stroke="#000" stroke-width="1.1"/>
<text x="24.5" y="352" font-size="8.2" text-anchor="middle" font-weight="bold" fill="#000">0.4</text>
<text x="52.68" y="352" font-size="8.2" text-anchor="middle" font-weight="bold" fill="#000">0.6</text>
<text x="80.86" y="352" font-size="8.2" text-anchor="middle" font-weight="bold" fill="#000">0.8</text>
<text x="109.04" y="352" font-size="8.2" text-anchor="middle" font-weight="bold" fill="#000">1.0</text>
<text x="137.22" y="352" font-size="8.2" text-anchor="middle" font-weight="bold" fill="#000">1.2</text>
<text x="165.4" y="352" font-size="8.2" text-anchor="middle" font-weight="bold" fill="#000">1.4</text>
<text x="17" y="265" font-size="10" text-anchor="middle" font-weight="bold" fill="#000" transform="rotate(-90 17 265)">Intensity (a.u.)</text>
<text x="99.4" y="363" font-size="10" text-anchor="middle" font-weight="bold" fill="#000">q (Å<tspan font-size="6.6" dy="-3.8" dx="0.7">-1</tspan><tspan dy="3.8" dx="0.3">)</tspan></text>
<text x="0" y="196.5" font-size="13" text-anchor="start" font-weight="bold" fill="#000">d</text>
<polyline points="24.6,240.9 25.1,240.7 25.6,240.39 26.1,240.29 26.6,240.07 27.1,239.57 27.6,239.32 28.1,239.51 28.6,239 29.1,238.77 29.6,238.93 30,238.5 30.6,238.4 31.1,237.99 31.6,237.85 32.1,237.38 32.6,237.4 33.1,237.29 33.6,236.89 34,236.7 34.6,236.67 35.1,236.26 35.6,236.51 36.1,236.33 36.6,236.08 37.1,235.85 37.6,236.16 38.1,235.87 38.6,235.89 39.1,235.87 39.6,235.69 40,235.5 40.6,235.32 41.1,235.41 41.6,235.13 42.1,235.26 42.6,235.13 43.1,234.63 43.6,234.54 44.1,234.47 44.6,234.74 45.1,234.36 45.6,234.35 46,234.2 46.6,234.16 47.1,234.07 47.6,234.02 48.1,234.1 48.6,234.07 49.1,234.2 49.6,234.05 50.1,234.14 50.6,234.07 51.1,234.11 51.6,233.91 52.1,233.62 52.6,233.94 53.1,233.96 53.6,233.9 54.1,233.69 54.6,233.73 55,233.6 55.6,233.74 56.1,233.59 56.6,233.42 57.1,233.29 57.6,233.67 58.1,233.71 58.6,233.24 59.1,233.57 59.6,233.36 60.1,233.21 60.6,233.26 61.1,233.47 61.6,233.5 62,233.3 62.6,233.3 63.1,232.97 63.6,233.25 64.1,233.01 64.6,233.24 65.1,233.24 65.6,232.95 66.1,233.15 66.6,232.76 67.1,232.59 67.6,232.81 68.1,232.47 68.6,232.51 69.2,232.6 69.6,232.8 70.1,232.75 70.6,232.87 71.1,233.46 71.6,233.36 72,233.6 72.6,233.83 73.1,233.59 73.6,233.66 74.1,233.72 74.6,233.8 75.1,233.8 75.6,233.81 76.1,233.87 76.6,234.05 77.1,233.86 77.6,233.85 78.1,234.02 78.6,233.8 79.1,233.86 79.6,234.22 80,234 80.6,234.04 81.1,233.78 81.6,233.99 82.1,234.08 82.6,233.81 83.1,234.12 83.6,234.14 84.1,233.86 84.6,234.16 85.1,234.09 85.6,234.2 86.1,234.05 86.6,234.24 87.1,234.26 87.6,233.91 88.1,233.94 88.6,234.26 89.1,234.41 89.6,234.07 90,234.2 90.6,234.23 91.1,234.09 91.6,234.1 92.1,234.06 92.6,234.08 93.1,234.19 93.6,234.03 94.1,234.06 94.6,234.24 95.1,233.86 95.6,234.12 96.1,234.2 96.6,233.97 97.1,233.92 97.6,234.2 98.1,233.91 98.6,233.87 99.1,233.99 99.6,234.11 100,234 100.6,233.86 101.1,233.83 101.6,234.04 102.1,233.8 102.6,233.97 103.1,233.59 103.6,233.63 104.1,233.75 104.6,233.82 105,233.6 105.6,231.36 106.1,229.56 106.6,228 107.1,217.85 107.5,210 108.1,205.97 108.5,203 109.1,202.59 109.6,202.6 110.1,202.27 110.5,202 111.1,204.32 111.5,206 112.3,225 112.6,227.47 113.1,231.09 113.5,234.3 114.1,234.29 114.6,234.31 115.1,234.33 115.6,234.61 116.1,234.25 116.6,234.2 117.1,234.69 117.6,234.68 118.1,234.76 118.6,234.5 119.1,234.78 119.6,234.8 120,234.6 120.6,234.71 121.1,234.75 121.6,234.65 122.1,234.57 122.6,234.44 123.1,234.46 123.6,234.39 124.1,234.3 124.6,234.55 125.1,234.39 125.6,234.64 126.1,234.25 126.6,234.67 127.1,234.55 127.6,234.66 128.1,234.64 128.6,234.63 129.1,234.46 129.6,234.16 130.1,234.52 130.6,234.22 131.1,234.28 131.6,234.45 132.1,234.37 132.6,234.3 133.1,234.56 133.6,234.38 134.1,234.24 134.6,234.18 135.1,234.48 135.6,234.28 136.1,234.42 136.6,234.19 137.1,234.11 137.6,234.27 138.1,234.4 138.6,234.06 139.1,234.36 139.6,234.42 140,234.2 140.6,234.33 141.1,233.9 141.6,234.18 142.1,234.28 142.6,233.84 143.1,233.93 143.6,233.9 144.1,234.01 144.6,233.93 145.1,233.93 145.6,234.06 146.1,233.65 146.6,233.65 147.1,233.66 147.6,233.63 148.1,233.58 148.6,234.01 149.1,233.92 149.6,233.51 150.1,233.7 150.6,233.58 151.1,233.55 151.6,233.55 152.1,233.67 152.6,233.61 153.1,233.48 153.6,233.37 154.1,233.41 154.6,233.28 155.1,233.47 155.6,233.53 156.1,233.34 156.6,233.16 157.1,233.18 157.6,233.26 158.1,233.35 158.6,233.41 159.1,233.19 159.6,233.37 160,233.2 160.6,233.02 161.1,232.86 161.6,232.8 162.1,232.78 162.6,232.51 163.1,232.52 163.6,232.28 164,232.2 164.6,230.97 165.3,229.5" stroke="#7a70c4" stroke-width="1.3" fill="none" stroke-linejoin="round" stroke-linecap="round"/>
<polyline points="24.6,274.7 25.1,274.56 25.6,274.77 26.1,274.71 26.6,274.73 27.1,274.96 27.6,275.28 28.1,275.29 28.6,275.33 29.1,275.12 29.6,275.34 30.1,275.28 30.6,275.29 31.1,275.32 31.6,275.43 32.1,275.85 32.6,275.86 33.1,275.92 33.6,275.98 34.1,275.73 34.6,275.85 35,276 35.6,276.18 36.1,276.29 36.6,276.35 37.1,276 37.6,276.31 38.1,276.4 38.6,276.36 39.1,276.25 39.6,276.45 40.1,276.3 40.6,276.78 41.1,276.79 41.6,276.68 42.1,276.61 42.6,276.96 43.1,276.85 43.6,277.05 44.1,277.08 44.6,276.96 45,277 45.6,277.11 46.1,277.08 46.6,277 47.1,277.13 47.6,277.43 48.1,277.1 48.6,277.16 49.1,277.5 49.6,277.38 50.1,277.56 50.6,277.58 51.1,277.57 51.6,277.95 52.1,277.61 52.6,277.77 53.1,277.72 53.6,277.98 54.1,277.86 54.6,277.95 55.1,278.2 55.6,278.04 56.1,278.21 56.6,278.44 57.1,278.09 57.6,278.12 58.1,278.26 58.6,278.58 59.1,278.56 59.6,278.43 60,278.6 60.6,278.52 61.1,278.73 61.6,278.58 62.1,278.98 62.6,279.14 63.1,279.24 63.6,279.2 64.1,279.38 64.6,278.97 65.1,279.17 65.6,279.58 66.1,279.55 66.6,279.44 67.1,279.77 67.6,279.67 68.1,279.84 68.6,279.64 69.1,279.66 69.6,279.85 70.1,279.76 70.6,279.95 71.1,280.31 71.6,280.06 72.1,279.97 72.6,280.05 73.1,280.18 73.6,280.56 74.1,280.41 74.6,280.44 75,280.6 75.6,280.9 76.1,280.67 76.6,280.61 77.1,280.59 77.6,280.64 78.1,280.74 78.6,281.05 79.1,280.83 79.6,280.83 80.1,281.11 80.6,281.03 81.1,281.46 81.6,281.07 82.1,281.32 82.6,281.5 83.1,281.36 83.6,281.7 84.1,281.5 84.6,281.43 85.1,281.57 85.6,281.43 86.1,281.67 86.6,281.63 87.1,282 87.6,282.03 88.1,281.91 88.6,281.73 89.1,281.89 89.6,281.93 90.1,281.96 90.6,282.03 91.1,282.39 91.6,282.08 92.1,282.09 92.6,282.57 93.1,282.44 93.6,282.71 94,282.5 94.6,282.74 95.1,282.65 95.6,282.76 96.1,282.77 96.6,282.68 97.1,282.51 97.6,282.61 98.1,282.97 98.6,283.02 99.1,283.07 99.6,282.81 100.1,283.01 100.6,283.11 101.1,283.07 101.6,283.19 102.1,283.08 102.6,283.18 103.1,283.23 103.6,283.06 104,283.2 104.6,282.51 105.1,281.31 105.6,281 106.1,280 106.6,270.99 107.2,260 107.6,255 108.2,247 108.6,246.62 109.3,245.3 109.6,245.76 110.1,246.93 110.5,248 111.1,256.43 111.5,262 112.1,273.94 112.6,283.5 113.1,283.32 113.6,283.85 114.1,283.46 114.6,283.96 115.1,283.65 115.6,284.06 116.1,284.11 116.6,284.23 117.1,284.13 117.6,284.37 118.1,284.09 118.6,284.4 119.1,284.29 119.6,284.64 120,284.5 120.6,284.53 121.1,284.6 121.6,284.38 122.1,284.42 122.6,284.74 123.1,284.73 123.6,284.95 124.1,284.86 124.6,284.66 125.1,284.81 125.6,285.05 126.1,284.97 126.6,284.75 127.1,285.2 127.6,285.23 128.1,284.9 128.6,285.17 129.1,285.12 129.6,285.36 130.1,285.16 130.6,285.16 131.1,285.33 131.6,285.6 132.1,285.21 132.6,285.25 133.1,285.54 133.6,285.71 134.1,285.56 134.6,285.56 135.1,285.81 135.6,285.81 136.1,285.49 136.6,285.94 137.1,285.63 137.6,285.72 138.1,286.03 138.6,285.86 139.1,286.08 139.6,285.8 140,286 140.6,285.89 141.1,285.92 141.6,286.14 142.1,286.11 142.6,286.25 143.1,286.48 143.6,286.43 144.1,286.12 144.6,286.32 145.1,286.48 145.6,286.5 146.1,286.66 146.6,286.59 147.1,286.43 147.6,286.56 148.1,286.9 148.6,286.7 149.1,286.95 149.6,287.11 150.1,286.97 150.6,287.04 151.1,287.05 151.6,286.95 152.1,287.3 152.6,287.12 153.1,287.38 153.6,287.13 154.1,287.45 154.6,287.46 155.1,287.42 155.6,287.38 156.1,287.27 156.6,287.63 157.1,287.47 157.6,287.67 158.1,287.45 158.6,287.47 159.1,287.54 159.6,287.92 160,287.8 160.6,288.06 161.1,287.85 161.6,288 162.1,287.94 162.6,288.12 163.1,287.91 163.6,288.11 164,288.2 164.6,287.02 165.3,286" stroke="#e58a9a" stroke-width="1.3" fill="none" stroke-linejoin="round" stroke-linecap="round"/>
<polyline points="24.6,339 25.1,338.95 25.6,338.81 26.1,338.72 26.6,338.45 27.1,338.38 27.6,337.76 28.1,337.82 28.6,337.89 29.1,337.57 29.6,337.53 30,337.2 30.6,337.08 31.1,336.88 31.6,336.94 32.1,336.87 32.6,336.5 33.1,336.52 33.6,336.46 34,336.5 34.6,336.55 35.1,336.19 35.6,336.44 36.1,336.05 36.6,336.22 37.1,335.91 37.6,335.78 38.1,336.15 38.6,335.76 39.1,335.69 39.6,336.01 40.1,335.89 40.6,335.54 41.1,335.81 41.6,335.53 42.1,335.54 42.6,335.23 43.1,335.54 43.6,335.35 44,335.2 44.6,335.38 45.1,335.06 45.6,335.07 46.1,334.96 46.6,334.93 47.1,334.87 47.6,334.97 48.1,335.1 48.6,334.78 49.1,335.1 49.6,334.92 50.1,334.88 50.6,335.12 51.1,334.93 51.6,334.83 52.1,334.9 52.6,334.99 53.1,334.65 53.6,335.09 54.1,334.59 54.6,334.94 55,334.8 55.6,334.54 56.1,334.91 56.6,334.68 57.1,334.77 57.6,334.47 58.1,334.47 58.6,334.52 59.1,334.89 59.6,334.49 60.1,334.76 60.6,334.83 61.1,334.82 61.6,334.5 62.1,334.49 62.6,334.56 63.1,334.67 63.6,334.32 64.1,334.62 64.6,334.63 65.1,334.64 65.6,334.21 66.1,334.65 66.6,334.21 67.1,334.32 67.6,334.44 68.1,334.57 68.6,334.27 69.1,334.54 69.6,334.34 70,334.3 70.6,334.23 71.1,334.18 71.6,334.14 72.1,334.19 72.6,334.48 73.1,334.65 73.6,334.25 74.1,334.21 74.6,334.7 75.1,334.49 75.6,334.44 76.1,334.37 76.6,334.57 77.1,334.7 77.6,334.53 78.1,334.53 78.6,334.36 79.1,334.81 79.6,334.39 80.1,334.63 80.6,334.82 81.1,334.49 81.6,334.8 82.1,334.93 82.6,334.79 83.1,334.88 83.6,334.56 84.1,334.74 84.6,334.61 85,334.8 85.6,334.71 86.1,334.79 86.6,335.07 87.1,335 87.6,335.07 88.1,334.82 88.6,334.84 89.1,334.97 89.6,334.85 90.1,334.76 90.6,334.83 91.1,334.7 91.6,334.83 92.1,335.14 92.6,335.13 93.1,334.97 93.6,334.91 94.1,334.84 94.6,334.72 95.1,334.82 95.6,335.08 96.1,335.13 96.6,334.89 97.1,335.1 97.6,335.11 98.1,335.07 98.6,335.06 99.1,335.12 99.6,334.93 100,335 100.6,334.85 101.1,334.91 101.6,335.01 102.1,334.94 102.6,334.7 103.1,334.99 103.6,334.8 104.1,334.73 104.6,334.41 105.3,334.6 105.6,332.08 106.1,328.29 106.5,325 107.1,313.16 107.6,303 108.1,298.9 108.6,294.5 109.1,293.96 109.5,293.4 110.1,295.53 110.6,297 111.1,302.59 111.8,310 112.1,316.29 112.6,326.77 113,334.8 113.6,334.88 114.1,334.94 114.6,334.82 115.1,335.21 115.6,335.32 116.1,335.14 116.6,335.31 117.1,335.38 117.6,335.44 118.1,335.22 118.6,335.58 119.1,335.54 119.6,335.64 120,335.6 120.6,335.68 121.1,335.77 121.6,335.72 122.1,335.77 122.6,335.44 123.1,335.52 123.6,335.68 124.1,335.8 124.6,335.6 125.1,335.85 125.6,335.83 126.1,335.55 126.6,335.78 127.1,335.68 127.6,335.61 128.1,335.66 128.6,335.77 129.1,335.71 129.6,335.73 130.1,335.67 130.6,335.9 131.1,335.87 131.6,336 132.1,336.01 132.6,335.85 133.1,336.19 133.6,335.76 134.1,335.98 134.6,335.93 135.1,336.01 135.6,335.88 136.1,336.25 136.6,336.03 137.1,335.88 137.6,336.18 138.1,335.94 138.6,336.18 139.1,336.09 139.6,336.23 140,336.2 140.6,336.37 141.1,336.18 141.6,336.39 142.1,336.31 142.6,336.19 143.1,336.08 143.6,336.32 144.1,336.31 144.6,336.52 145.1,336.54 145.6,336.37 146.1,336.25 146.6,336.53 147.1,336.09 147.6,336.16 148.1,336.39 148.6,336.43 149.1,336.2 149.6,336.46 150.1,336.6 150.6,336.35 151.1,336.39 151.6,336.3 152.1,336.34 152.6,336.69 153.1,336.4 153.6,336.7 154.1,336.69 154.6,336.54 155.1,336.38 155.6,336.75 156.1,336.52 156.6,336.49 157.1,336.45 157.6,336.79 158.1,336.56 158.6,336.47 159.1,336.57 159.6,336.4 160,336.6 160.6,336.53 161.1,336.41 161.6,336.62 162.1,336.61 162.6,336.16 163.1,336.38 163.6,336.22 164,336.3 164.6,335.38 165.3,334" stroke="#1f6db0" stroke-width="1.6" fill="none" stroke-linejoin="round" stroke-linecap="round"/>
<text x="30.9" y="223" font-size="8" text-anchor="start" font-weight="bold" fill="#000">t = 3 h</text>
<text x="30.9" y="266.9" font-size="8" text-anchor="start" font-weight="bold" fill="#000">t = 1 h</text>
<text x="30.9" y="331.5" font-size="8" text-anchor="start" font-weight="bold" fill="#000">t = 0 h</text>
<text x="147" y="202.6" font-size="7.5" text-anchor="middle" font-weight="bold" fill="#000">2NTD</text>
<clipPath id="clipE"><rect x="199.5" y="189.6" width="140.8" height="150.6"/></clipPath>
<g clip-path="url(#clipE)">
<polyline points="199.5,256.3 220,257 241,257.7 270,258.2 300,258.6 341,259" stroke="#9a9a9a" stroke-width="1.6" fill="none" stroke-linejoin="round" stroke-linecap="round"/>
<polyline points="199.5,256.3 220,257 241,257.7 270,258.2 300,258.6 341,259" stroke="#111" stroke-width="1.1" fill="none" stroke-linejoin="round" stroke-linecap="round"/>
<polyline points="199.5,204.8 199.87,204.81 200.39,204.82 200.99,204.83 201.66,204.85 202.34,204.87 203,204.9 203.63,204.88 204.27,204.8 204.93,204.73 205.61,204.72 206.33,204.86 207.1,205.2 207.91,205.74 208.76,206.42 209.64,207.24 210.56,208.19 211.51,209.28 212.5,210.5 213.54,211.93 214.64,213.58 215.77,215.37 216.92,217.2 218.07,218.97 219.2,220.6 220.31,222.12 221.41,223.61 222.51,225.06 223.61,226.42 224.74,227.68 225.9,228.8 227.11,229.83 228.36,230.78 229.64,231.63 230.9,232.34 232.13,232.88 233.3,233.2 234.37,233.28 235.36,233.12 236.31,232.79 237.27,232.34 238.28,231.83 239.4,231.3 240.63,230.7 241.95,229.99 243.32,229.2 244.73,228.4 246.13,227.65 247.5,227 248.88,226.46 250.3,225.99 251.72,225.57 253.1,225.16 254.41,224.75 255.6,224.3 256.66,223.87 257.6,223.49 258.48,223.09 259.31,222.64 260.14,222.06 261,221.3 261.89,220.34 262.77,219.23 263.65,218 264.53,216.68 265.41,215.3 266.3,213.9 267.21,212.42 268.14,210.81 269.08,209.16 269.99,207.51 270.87,205.93 271.7,204.5 272.46,203.18 273.18,201.92 273.86,200.73 274.51,199.64 275.15,198.65 275.8,197.8 276.44,197.07 277.07,196.46 277.69,195.96 278.3,195.57 278.9,195.28 279.5,195.1 280.08,195.02 280.64,195.04 281.19,195.17 281.76,195.41 282.36,195.75 283,196.2 283.68,196.68 284.37,197.19 285.1,197.79 285.87,198.59 286.7,199.67 287.6,201.1 288.59,202.96 289.67,205.2 290.81,207.71 291.98,210.4 293.15,213.16 294.3,215.9 295.43,218.74 296.56,221.78 297.7,224.9 298.84,227.96 299.97,230.84 301.1,233.4 302.18,235.65 303.19,237.7 304.2,239.56 305.27,241.25 306.45,242.79 307.8,244.2 309.36,245.45 311.1,246.53 312.95,247.45 314.86,248.25 316.76,248.96 318.6,249.6 320.38,250.13 322.14,250.53 323.89,250.82 325.66,251.07 327.46,251.32 329.3,251.6 331.33,251.93 333.56,252.28 335.82,252.63 337.93,252.94 339.72,253.21 341,253.4" stroke="#f4a070" stroke-width="1.1" fill="none" stroke-linejoin="round" stroke-linecap="round"/>
<polyline points="199.5,205.2 199.87,205.21 200.39,205.21 200.99,205.22 201.66,205.23 202.34,205.26 203,205.3 203.63,205.3 204.27,205.26 204.93,205.22 205.61,205.26 206.33,205.43 207.1,205.8 207.91,206.36 208.76,207.06 209.64,207.9 210.56,208.87 211.51,209.97 212.5,211.2 213.54,212.63 214.64,214.29 215.77,216.08 216.92,217.91 218.07,219.68 219.2,221.3 220.31,222.81 221.41,224.29 222.51,225.71 223.61,227.05 224.74,228.29 225.9,229.4 227.11,230.42 228.36,231.37 229.64,232.21 230.9,232.92 232.13,233.46 233.3,233.8 234.37,233.9 235.36,233.77 236.31,233.48 237.27,233.06 238.28,232.59 239.4,232.1 240.63,231.54 241.95,230.87 243.32,230.12 244.73,229.38 246.13,228.68 247.5,228.1 248.88,227.65 250.3,227.28 251.72,226.97 253.1,226.67 254.41,226.36 255.6,226 256.66,225.62 257.6,225.27 258.48,224.89 259.31,224.47 260.14,223.95 261,223.3 261.89,222.52 262.77,221.62 263.65,220.64 264.53,219.58 265.41,218.46 266.3,217.3 267.21,216.04 268.14,214.66 269.08,213.21 269.99,211.78 270.87,210.42 271.7,209.2 272.46,208.1 273.18,207.05 273.86,206.07 274.51,205.2 275.15,204.43 275.8,203.8 276.44,203.32 277.07,202.98 277.69,202.75 278.3,202.61 278.9,202.54 279.5,202.5 280.08,202.5 280.64,202.56 281.19,202.69 281.76,202.88 282.36,203.15 283,203.5 283.68,203.87 284.37,204.25 285.1,204.7 285.87,205.3 286.7,206.11 287.6,207.2 288.59,208.59 289.67,210.23 290.81,212.07 291.98,214.11 293.15,216.29 294.3,218.6 295.43,221.18 296.56,224.08 297.7,227.13 298.84,230.17 299.97,233.01 301.1,235.5 302.18,237.64 303.19,239.57 304.2,241.31 305.27,242.89 306.45,244.31 307.8,245.6 309.37,246.73 311.11,247.67 312.97,248.46 314.88,249.13 316.78,249.74 318.6,250.3 320.34,250.8 322.04,251.19 323.73,251.5 325.43,251.77 327.18,252.03 329,252.3 331.05,252.6 333.33,252.89 335.65,253.18 337.83,253.43 339.68,253.64 341,253.8" stroke="#84a878" stroke-width="1.1" fill="none" stroke-linejoin="round" stroke-linecap="round"/>
<polyline points="199.5,325 201.01,325.16 203.09,325.39 205.56,325.66 208.22,325.95 210.9,326.24 213.4,326.5 215.76,326.77 218.13,327.08 220.52,327.38 222.91,327.64 225.31,327.83 227.7,327.9 230.1,327.84 232.5,327.67 234.9,327.42 237.3,327.13 239.7,326.81 242.1,326.5 244.59,326.18 247.19,325.82 249.79,325.44 252.27,325.06 254.51,324.67 256.4,324.3 257.86,323.96 258.96,323.65 259.83,323.34 260.58,323.01 261.33,322.64 262.2,322.2 263.17,321.7 264.14,321.16 265.11,320.58 266.07,319.96 267.04,319.3 268,318.6 268.95,317.82 269.89,316.96 270.82,316.06 271.76,315.16 272.72,314.33 273.7,313.6 274.74,312.95 275.82,312.33 276.92,311.77 278.01,311.29 279.05,310.93 280,310.7 280.85,310.62 281.62,310.67 282.34,310.83 283.04,311.08 283.75,311.41 284.5,311.8 285.24,312.23 285.94,312.72 286.64,313.28 287.41,313.95 288.28,314.75 289.3,315.7 290.53,316.9 291.94,318.35 293.45,319.93 295,321.52 296.5,323.01 297.9,324.3 299.1,325.37 300.14,326.31 301.14,327.16 302.22,327.94 303.5,328.68 305.1,329.4 307,330.11 309.1,330.78 311.41,331.41 313.91,331.99 316.61,332.52 319.5,333 322.92,333.43 326.94,333.8 331.15,334.12 335.16,334.4 338.58,334.62 341,334.8" stroke="#2b6fc4" stroke-width="1.3" fill="none" stroke-linejoin="round" stroke-linecap="round"/>
<polyline points="199.5,322.9 201.86,323.27 205.19,323.81 209.1,324.44 213.21,325.05 217.14,325.54 220.5,325.8 223.28,325.86 225.79,325.81 228.11,325.63 230.34,325.33 232.58,324.88 234.9,324.3 237.33,323.48 239.81,322.4 242.28,321.19 244.71,319.96 247.07,318.82 249.3,317.9 251.43,317.24 253.51,316.75 255.5,316.36 257.39,315.99 259.17,315.56 260.8,315 262.27,314.3 263.57,313.52 264.76,312.68 265.87,311.8 266.94,310.9 268,310 269.03,309.05 269.99,308.04 270.91,307.01 271.81,306 272.73,305.05 273.7,304.2 274.74,303.42 275.82,302.66 276.92,301.96 278.01,301.36 279.05,300.9 280,300.6 280.85,300.47 281.62,300.49 282.34,300.64 283.04,300.92 283.75,301.31 284.5,301.8 285.24,302.37 285.94,303.03 286.64,303.81 287.41,304.72 288.28,305.81 289.3,307.1 290.53,308.7 291.94,310.61 293.45,312.69 295,314.8 296.5,316.82 297.9,318.6 299.1,320.16 300.14,321.61 301.14,322.96 302.22,324.21 303.5,325.39 305.1,326.5 307,327.53 309.1,328.46 311.41,329.31 313.91,330.1 316.61,330.82 319.5,331.5 322.92,332.14 326.94,332.73 331.15,333.26 335.16,333.73 338.58,334.11 341,334.4" stroke="#5ba3dc" stroke-width="1.1" fill="none" stroke-linejoin="round" stroke-linecap="round"/>
<polyline points="199.5,322.6 201.86,322.92 205.19,323.41 209.1,323.98 213.21,324.5 217.14,324.87 220.5,325 223.28,324.89 225.79,324.64 228.11,324.24 230.34,323.7 232.58,323.02 234.9,322.2 237.33,321.14 239.81,319.81 242.28,318.34 244.71,316.86 247.07,315.47 249.3,314.3 251.43,313.43 253.51,312.76 255.5,312.2 257.39,311.63 259.17,310.93 260.8,310 262.27,308.85 263.57,307.56 264.76,306.14 265.87,304.62 266.94,303 268,301.3 269.03,299.39 269.99,297.25 270.91,295.01 271.81,292.81 272.73,290.8 273.7,289.1 274.74,287.68 275.82,286.43 276.92,285.36 278.01,284.48 279.05,283.82 280,283.4 280.85,283.24 281.62,283.33 282.34,283.64 283.04,284.13 283.75,284.76 284.5,285.5 285.25,286.29 285.99,287.15 286.73,288.15 287.51,289.36 288.36,290.86 289.3,292.7 290.38,295.05 291.58,297.88 292.84,300.99 294.12,304.19 295.36,307.25 296.5,310 297.49,312.48 298.35,314.86 299.17,317.12 300.03,319.24 301.01,321.17 302.2,322.9 303.59,324.39 305.11,325.66 306.75,326.76 308.5,327.71 310.36,328.58 312.3,329.4 314.36,330.14 316.55,330.76 318.84,331.29 321.2,331.76 323.6,332.19 326,332.6 328.6,333 331.46,333.37 334.36,333.7 337.06,333.99 339.35,334.22 341,334.4" stroke="#5a5aa4" stroke-width="1.1" fill="none" stroke-linejoin="round" stroke-linecap="round"/>
<polyline points="199.5,322.2 201.09,322.36 203.36,322.59 206.01,322.86 208.76,323.13 211.32,323.39 213.4,323.6 214.98,323.78 216.27,323.96 217.37,324.12 218.38,324.25 219.39,324.31 220.5,324.3 221.69,324.2 222.89,324.02 224.09,323.78 225.3,323.5 226.5,323.2 227.7,322.9 228.9,322.6 230.1,322.3 231.3,321.98 232.5,321.62 233.7,321.2 234.9,320.7 236.1,320.1 237.3,319.42 238.5,318.68 239.7,317.91 240.9,317.14 242.1,316.4 243.3,315.68 244.5,314.94 245.71,314.21 246.91,313.48 248.11,312.78 249.3,312.1 250.51,311.45 251.73,310.82 252.95,310.21 254.15,309.61 255.3,309.05 256.4,308.5 257.42,308.07 258.36,307.78 259.27,307.51 260.16,307.14 261.06,306.58 262,305.7 262.98,304.47 263.98,302.98 264.99,301.28 266.01,299.44 267.01,297.53 268,295.6 268.96,293.55 269.9,291.32 270.83,289.01 271.77,286.73 272.72,284.59 273.7,282.7 274.74,280.98 275.82,279.32 276.92,277.81 278.01,276.5 279.05,275.47 280,274.8 280.85,274.51 281.62,274.55 282.34,274.88 283.04,275.43 283.75,276.15 284.5,277 285.25,277.9 285.99,278.88 286.73,280.04 287.51,281.46 288.36,283.25 289.3,285.5 290.38,288.43 291.58,292 292.84,295.93 294.12,299.95 295.36,303.77 296.5,307.1 297.49,310 298.35,312.7 299.17,315.21 300.03,317.51 301.01,319.61 302.2,321.5 303.58,323.15 305.09,324.54 306.71,325.73 308.46,326.76 310.32,327.7 312.3,328.6 314.44,329.42 316.75,330.11 319.18,330.71 321.67,331.23 324.16,331.72 326.6,332.2 329.16,332.67 331.93,333.12 334.69,333.52 337.26,333.88 339.43,334.18 341,334.4" stroke="#e58a9a" stroke-width="1.1" fill="none" stroke-linejoin="round" stroke-linecap="round"/>
</g>
<rect x="199.5" y="189.6" width="140.8" height="150.6" fill="none" stroke="#000" stroke-width="1.3"/>
<line x1="213.58" y1="340.2" x2="213.58" y2="343.2" stroke="#000" stroke-width="1.1"/>
<line x1="255.82" y1="340.2" x2="255.82" y2="343.2" stroke="#000" stroke-width="1.1"/>
<line x1="298.06" y1="340.2" x2="298.06" y2="343.2" stroke="#000" stroke-width="1.1"/>
<line x1="340.3" y1="340.2" x2="340.3" y2="343.2" stroke="#000" stroke-width="1.1"/>
<line x1="234.7" y1="340.2" x2="234.7" y2="341.9" stroke="#000" stroke-width="1.1"/>
<line x1="276.94" y1="340.2" x2="276.94" y2="341.9" stroke="#000" stroke-width="1.1"/>
<line x1="319.18" y1="340.2" x2="319.18" y2="341.9" stroke="#000" stroke-width="1.1"/>
<text x="213.58" y="351.5" font-size="8.2" text-anchor="middle" font-weight="bold" fill="#000">60</text>
<text x="255.82" y="351.5" font-size="8.2" text-anchor="middle" font-weight="bold" fill="#000">90</text>
<text x="298.06" y="351.5" font-size="8.2" text-anchor="middle" font-weight="bold" fill="#000">120</text>
<text x="340.3" y="351.5" font-size="8.2" text-anchor="middle" font-weight="bold" fill="#000">150</text>
<text x="193.5" y="265" font-size="10" text-anchor="middle" font-weight="bold" fill="#000" transform="rotate(-90 193.5 265)">Raman intensity (a.u.)</text>
<text x="274.6" y="364" font-size="10" text-anchor="middle" font-weight="bold" fill="#000">Raman shift (cm<tspan font-size="6.6" dy="-3.8" dx="0.7">-1</tspan><tspan dy="3.8" dx="0.3">)</tspan></text>
<text x="183.5" y="197.2" font-size="13.2" text-anchor="start" font-weight="bold" fill="#000">e</text>
<text x="318.6" y="199.1" font-size="7" text-anchor="middle" font-weight="bold" fill="#000">Control</text>
<line x1="303.1" y1="206.2" x2="319.2" y2="206.2" stroke="#111" stroke-width="1.3"/>
<text x="321.3" y="209.1" font-size="8.5" text-anchor="start" font-weight="bold" fill="#000" letter-spacing="-0.15">0°</text>
<line x1="303.1" y1="217" x2="319.2" y2="217" stroke="#9a9a9a" stroke-width="1.6"/>
<text x="321.3" y="219.9" font-size="8.5" text-anchor="start" font-weight="bold" fill="#000" letter-spacing="-0.15">30°</text>
<line x1="303.1" y1="227.7" x2="319.2" y2="227.7" stroke="#f4a070" stroke-width="1.2"/>
<text x="321.3" y="230.6" font-size="8.5" text-anchor="start" font-weight="bold" fill="#000" letter-spacing="-0.15">60°</text>
<line x1="303.1" y1="238.4" x2="319.2" y2="238.4" stroke="#84a878" stroke-width="1.2"/>
<text x="321.3" y="241.3" font-size="8.5" text-anchor="start" font-weight="bold" fill="#000" letter-spacing="-0.15">90°</text>
<text x="202.2" y="269" font-size="7.5" text-anchor="start" font-weight="normal" fill="#000" stroke="#000" stroke-width="0.3">Octahedral lattice modes</text>
<text x="318.7" y="271.9" font-size="7" text-anchor="middle" font-weight="bold" fill="#000">2NTD</text>
<line x1="302.9" y1="278.7" x2="318.7" y2="278.7" stroke="#2b6fc4" stroke-width="1.6"/>
<text x="321.6" y="281.6" font-size="8.5" text-anchor="start" font-weight="bold" fill="#000" letter-spacing="-0.15">0°</text>
<line x1="302.9" y1="289.6" x2="318.7" y2="289.6" stroke="#5ba3dc" stroke-width="1.2"/>
<text x="321.6" y="292.5" font-size="8.5" text-anchor="start" font-weight="bold" fill="#000" letter-spacing="-0.15">30°</text>
<line x1="302.9" y1="300.3" x2="318.7" y2="300.3" stroke="#5a5aa4" stroke-width="1.2"/>
<text x="321.6" y="303.2" font-size="8.5" text-anchor="start" font-weight="bold" fill="#000" letter-spacing="-0.15">60°</text>
<line x1="302.9" y1="310.7" x2="318.7" y2="310.7" stroke="#e58a9a" stroke-width="1.6"/>
<text x="321.6" y="313.6" font-size="8.5" text-anchor="start" font-weight="bold" fill="#000" letter-spacing="-0.15">90°</text>
<clipPath id="clipF"><rect x="368.1" y="189.6" width="140.1" height="150.6"/></clipPath>
<g clip-path="url(#clipF)">
<polyline points="368.5,254.3 369.3,254.42 370.1,254.91 370.9,254.41 371.7,254.51 372.5,254.66 373.3,254.23 374.1,254.67 374.9,254.86 375.7,255.11 376.5,254.32 377.3,254.62 378.1,254.42 378.9,255.33 379.5,255 380.5,254.55 381.3,255.76 382.1,255.82 382.9,255.52 383.7,255.56 384.5,255.09 385.3,255 386.1,255.69 386.9,255.21 387.7,255.44 388.5,255.59 389.3,255.41 390.1,256.01 390.9,256.06 391.7,256.62 392.5,256.32 393.3,256.54 394.1,256.45 394.9,256.73 395.7,256.56 396.5,256.43 397.3,257.37 398.1,257.45 398.9,257.34 399.6,257 400.5,256.72 401.3,256.56 402.1,256.57 402.9,256.26 403.7,257.04 404.5,256.54 405.3,257.02 406.1,256.41 406.9,257.04 407.7,256.86 408.5,255.78 409.3,255.98 410.1,256.76 410.9,256.18 411.7,256.74 412.5,255.98 413.3,255.54 414.1,256.15 414.9,256.27 415.7,255.61 416.5,255.33 417.3,255.57 418.1,256.27 418.9,255.97 419.8,255.6 420.5,255.27 421.3,255.07 422.1,255 422.9,255.85 423.7,255.08 424.5,255.52 425.3,255.36 426.1,255.02 426.9,255.64 427.7,254.9 428.5,255.49 429.3,254.83 430.1,255.17 430.9,254.89 431.7,254.93 432.5,255.75 433.3,255.52 434.1,254.89 434.9,255.56 435.7,254.73 436.5,254.92 437.3,255.45 438,255 438.9,254.52 439.7,255.59 440.5,254.66 441.3,254.71 442.1,255.33 442.9,254.79 443.7,254.76 444.5,254.49 445.3,254.51 446.1,255.1 446.9,254.69 447.7,255.12 448.5,254.85 449.3,254.94 450.1,255.55 450.9,254.98 451.7,255.09 452.5,255.44 453.3,254.62 454.1,254.58 454.9,255.49 455.7,255.38 456.5,254.7 457.3,254.63 458.1,255.29 458.9,255.53 459.7,254.64 460.5,255.54 461.3,255.46 462.1,255.12 462.9,254.91 463.7,254.52 464.5,254.45 465.3,255.56 466.1,254.69 466.9,255.25 467.7,254.71 468.5,255.39 469.3,255.12 470,255 470.9,254.61 471.7,255.26 472.5,254.48 473.3,254.67 474.1,255.07 474.9,255.42 475.7,255.14 476.5,254.74 477.3,255.5 478.1,254.64 478.9,254.42 479.7,254.72 480.5,254.93 481.3,254.47 482.1,254.61 482.9,254.84 483.7,255.09 484.5,254.56 485.3,254.83 486.1,255.47 486.9,255.58 487.7,255.19 488.5,255.23 489.3,255.1 490.1,254.57 490.9,254.44 491.7,254.42 492.5,255.49 493.3,255.24 494.1,255.56 494.9,254.43 495.7,255.16 496.5,254.98 497.3,255.28 498.1,254.78 498.9,255.6 499.7,254.49 500.5,255.06 501.3,255.28 502.1,255.48 502.9,255.28 503.7,255.24 504.5,255.35 505.3,255.5 506.1,254.82 506.9,255.22 508,255" stroke="#555" stroke-width="1.25" fill="none" stroke-linejoin="round" stroke-linecap="round"/>
<polyline points="371.1,193.7 372.5,210 373.1,216 374,224 375.5,235 376.1,237.5 377,242 378.1,245.77 379,247.5 380.1,248.92 381.1,249.88 382.1,251.19 383.5,252.3 384.1,252.09 385.1,251.32 386.1,253 387.1,250.87 388.1,252.58 389.1,250.69 390.2,251.6 391.1,249.28 392.1,247.29 393.1,246.19 394.1,242.07 395.1,240.02 395.6,240 396.1,241.74 397.1,242.24 398.3,244 399.1,243.48 400.1,241.26 401.1,237.14 401.7,236.8 403.1,237.47 404.1,239.01 405.1,240.85 406.4,242 407.1,243.33 408.1,243.01 409.1,244.52 410.4,246.9 411.1,247.23 412.1,248.08 413.1,249.31 414.1,249.83 415.1,250.41 416.1,250.37 417.1,252.3 418.1,253.92 419.1,254.44 420.1,254.19 421.1,253.96 422.5,255 423.1,255.3 424.1,255 425.1,253.4 426.1,253.43 427.1,253.48 427.9,253.6 429.1,253.86 430.1,252.71 431.1,251.18 432.1,252.68 433.1,251.34 434.1,251.15 434.6,250.9 435.1,249.63 436.1,248.92 437.1,247.62 438,246.8 439.1,240.54 440.1,236.79 441.4,230.4 442.1,234.11 443.1,237.15 444.1,242.35 445.4,248.9 446.1,249.64 447.1,248.82 448.1,250.39 449.1,250.38 450.1,251.14 451.1,252.2 452.2,252.9 453.1,252.26 454.1,252.75 455.1,250.2 456.1,251.36 457.1,249.36 458.1,248.28 458.9,248.5 460.1,236.2 461.1,222.95 461.6,218.6 462.1,223.4 463.1,235.31 464.3,247.5 465.1,249.66 466.1,252.59 467,256.9 468.1,256.15 469.1,256.07 470.1,255.16 471.1,253.03 472.1,250.93 473.1,250.7 474.4,249.9 475.1,251.1 476.1,251.21 477.1,250.8 478.1,252.09 479.1,252.6 480.1,252.97 481.1,252.16 482.1,253.87 483.1,253.81 484.1,252.12 485.1,252.49 486.1,253.95 487.1,252.59 488.1,254.25 489.1,253.29 489.8,253.3 491.1,253.81 492.1,252.65 493.1,252.84 494.1,252.79 495.1,253.83 496.1,253.87 497.1,252.54 498.1,254.37 499.1,253.27 500.1,252.86 501.1,253.34 502.1,254.66 503.1,253.67 504.1,253.84 505.1,254.57 506.1,254.69 507.3,253.6" stroke="#f4a070" stroke-width="1.1" fill="none" stroke-linejoin="round" stroke-linecap="round"/>
<polyline points="371.1,193.7 372.5,210 373.1,216.04 374,224 375.5,235 376.1,237.15 377,242 378.1,244.37 379,247.5 380.1,247.54 381.1,249.35 382.1,249.43 383.5,251.3 384.1,251.07 385.1,251.94 386.1,251.29 387.1,249.76 388.1,250.28 389.1,249.87 390.2,250.6 391.1,248.71 392.1,245.78 393.1,242.9 394.1,239.78 395.1,237.34 395.6,234.8 396.1,236.99 397.1,238.66 398.3,242.8 399.1,241.83 400.1,241.29 401.1,239.66 401.7,238.8 403.1,240.47 404.1,242.05 405.1,243.2 406.4,245.5 407.1,246.86 408.1,247.66 409.1,248.96 410.4,248.9 411.1,249.39 412.1,250.36 413.1,249.39 414.1,251.2 415.1,251.15 416.1,251.02 417.1,252.3 418.1,252.85 419.1,252.71 420.1,253.7 421.1,254.55 422.5,255 423.1,253.85 424.1,254.27 425.1,253.21 426.1,252.77 427.1,252.22 427.9,252.6 429.1,250.73 430.1,251.42 431.1,251.44 432.1,249.39 433.1,249.48 434.1,249.29 434.6,247.9 435.1,246.05 436.1,244.79 437.1,244.88 438,242.8 439.1,238.8 440.1,233.71 441.4,229.4 442.1,233.35 443.1,237.76 444.1,241.94 445.4,246.9 446.1,248.16 447.1,247.6 448.1,249.01 449.1,248.21 450.1,250.8 451.1,250.5 452.2,250.9 453.1,249.48 454.1,249.65 455.1,248.76 456.1,247.98 457.1,246.61 458.1,246.69 458.9,245.5 460.1,233.05 461.1,222.78 461.6,218.6 462.1,224.02 463.1,232.61 464.3,245.5 465.1,247.25 466.1,252.11 467,254.9 468.1,253.52 469.1,250.96 470.1,250.57 471.1,248.98 472.1,247.03 473.1,245.46 474.4,244.9 475.1,244.69 476.1,246.12 477.1,247.05 478.1,248.83 479.1,249.6 480.1,249.78 481.1,249.78 482.1,251.16 483.1,249.42 484.1,250.47 485.1,251.11 486.1,252.49 487.1,251.66 488.1,251.81 489.1,252.53 489.8,252.3 491.1,251.2 492.1,252.34 493.1,253.34 494.1,252.95 495.1,251.81 496.1,252.85 497.1,253.26 498.1,251.86 499.1,252.67 500.1,252.13 501.1,251.88 502.1,252 503.1,251.82 504.1,252.19 505.1,251.45 506.1,252.33 507.3,252.6" stroke="#84a878" stroke-width="1.1" fill="none" stroke-linejoin="round" stroke-linecap="round"/>
<polyline points="368.5,310.6 369.6,314.18 370.5,316 371.8,318.97 372.9,320.69 373.5,323 374,324.58 375.1,326.04 376.2,326.51 377,327.5 378.4,327.49 379.5,327.4 380.7,329.7 381.7,329.28 382.8,326.86 383.9,328.41 385,325.85 386.1,325.09 387.2,323.71 388.3,326 389.4,324.41 390.5,324.08 391.6,322.49 392.7,319.86 393.8,320.04 394.9,319.81 395.5,319.4 396,317.79 397.1,319.63 398.2,316.93 399.3,315.41 400.4,316.7 401.3,315 402.6,317.67 403.7,317.25 404.8,318.67 405.9,319.1 407,320.65 408.1,320.8 409.2,321.42 410.2,323.9 411.4,323.65 412.5,325.94 413.6,324.66 414.7,327.63 415.8,327.94 416.9,328.04 418,328.61 419.1,328.58 420.2,329.6 421.3,328.2 422.4,329.88 423.5,331.55 424.9,331.2 425.7,332.45 426.8,332.18 427.9,330.51 429,330.21 430.1,330.34 431.2,329.98 432.3,331.78 433.4,329.69 434.5,328.39 436,329.7 436.7,328.61 437.8,326.67 438.9,322.27 440,319.44 441.1,316.81 441.9,314.6 443.3,318.29 444.4,323.12 445.5,326.55 446,328 446.6,328.8 447.7,328.14 448.8,328.85 449.9,330.17 450.7,331.2 452.1,329.83 453.2,329.94 454.3,328.33 455.4,326.99 456.5,326.18 457.6,327.88 459,326 459.8,321.2 460.9,316.14 461.8,310.6 463.1,320.98 464,326 465.3,330.01 466.4,335.51 466.9,335.6 467.5,336.6 468.6,334.53 469.7,334.59 470.8,332.46 471.9,331.22 473,329.93 474.3,329.7 475.2,328.65 476.3,328.4 477.4,330.8 478.5,330.74 479.6,329.85 480.7,331.03 481.8,328.56 482.9,329.26 484,329.4 485.1,329.86 486.2,329.11 487.3,328.83 488.4,329.73 489.5,331.57 490.6,331.88 491.7,331.16 492.8,330.35 493.9,329.67 494.9,330.5 496.1,330.45 497.2,330.97 498.3,328.61 499.4,329.07 500.5,330.95 501.6,330.69 502.7,330.84 503.8,329.82 504.9,329.14 506,329.51 507.1,330.24 508.2,329" stroke="#5ba3dc" stroke-width="1.1" fill="none" stroke-linejoin="round" stroke-linecap="round"/>
<polyline points="368.5,270.1 370,284 370.7,287.05 371.9,295.9 372.9,300.08 374,305.48 374.8,310.6 376.2,316.37 377.3,322.77 377.8,323.9 378.4,324.66 379.5,329.47 380.7,331.2 381.7,331.28 382.8,331.98 383.9,331.07 385,331.52 386.1,330.69 387.2,328.62 388.1,329.7 389.4,328.67 390.5,326.8 391.6,325.38 392.7,326.14 393.8,324.31 394.9,324.22 395.5,322.4 396,322.53 397.1,321.65 398.2,319.14 399.3,318.11 400.4,316.46 401.3,315 402.6,317.98 403.7,317.62 404.8,320.38 405.8,320.9 407,322.05 408.1,321.28 409.2,323.86 410.3,324.08 411.4,323.39 412.5,323.68 413.1,325.3 413.6,325.58 414.7,324.59 415.8,327.5 416.9,326.73 418,327.18 419.1,327.28 420.2,328.4 421.3,329.52 422.4,328.23 423.5,328.82 424.9,329.7 425.7,328.82 426.8,329.21 427.9,328.63 429,327.89 430.1,328.12 431.2,327.28 432.3,325.61 433.4,327.72 434.5,325.49 436,325.3 436.7,323.52 437.8,322.63 438.9,320.32 440,316.72 441.1,314.04 441.9,312.6 443.3,317.6 444.4,318.63 445.5,322.74 446,324 446.6,323.94 447.7,324.53 448.8,325.27 449.9,325.46 450.7,326.8 452.1,326.09 453.2,326.18 454.3,325.13 455.4,323.25 456.5,323.99 457.6,321.56 459,322 459.8,318.4 460.9,312.46 461.8,306.2 463.1,316.51 464,322 465.3,328.84 466.4,334.73 466.9,337.1 467.5,337.43 468.6,334.81 469.7,332.14 470.8,330.93 471.9,328.77 472.8,326.8 474.1,327.68 475.2,327.86 476.3,327.34 477.4,328.35 478.5,325.84 479.6,327.26 480.7,327.71 481.8,326.96 482.9,326.57 484,328.1 485.1,327.45 486.2,327.06 487.3,326.5 488.4,329.17 489.5,327.52 490.6,326.94 491.7,327.29 492.8,327.47 493.9,329.26 494.9,328.3 496.1,327.6 497.2,327.03 498.3,328.01 499.4,327.21 500.5,327.53 501.6,328.55 502.7,329.02 503.8,328.7 504.9,326.41 506,327.29 507.1,328.54 508.2,327.5" stroke="#e58a9a" stroke-width="1.1" fill="none" stroke-linejoin="round" stroke-linecap="round"/>
<polyline points="368.5,306.2 369.6,310.83 370.5,312 371.8,313.7 372.9,317.89 373.5,319 374,319.42 375.1,321.23 376.5,323 377.3,322.67 378.4,324.38 379.3,325.3 380.6,324.23 381.7,322.08 382.8,321.49 383.9,322.71 385,321.01 386.1,320.52 387.2,320.45 388.3,318.47 389.6,318 390.5,318.05 391.6,316.39 392.7,315.56 393.8,314.4 394.9,314.48 396,311.49 397.1,311.72 398.2,309.42 399.3,309.03 400.4,308.27 401.3,306.9 402.6,306.33 403.7,308.22 404.8,309.64 405.9,309.88 407,310.06 408.1,311.33 409.2,310.5 410.2,312.1 411.4,312.25 412.5,314.49 413.6,313.16 414.7,313.56 415.8,314.17 416.9,314.64 418,316.05 419.1,317.66 420.2,319.11 421.3,318.2 422.4,318.99 423.5,319.39 424.9,320.9 425.7,321.68 426.8,320.8 427.9,319.72 429,319.09 430.1,321.11 431.2,320.71 432.3,320.95 433.4,318.91 434.5,319.75 436,319.4 436.7,318.47 437.8,317.68 438.9,313.27 440,313.94 441.1,309.08 441.9,309.1 443.3,311.3 444.4,316.74 445.5,319.27 446,320 446.6,322.01 447.7,322.39 448.8,323.76 449.9,323.36 450.7,323.9 452.1,323.7 453.2,321.63 454.3,322.86 455.4,320.17 456.5,318.8 457.6,317.64 459,318 459.8,312.4 460.9,308.39 461.8,301.8 463.1,310.46 464,318 465.3,322.04 466.4,324.23 466.9,326.8 467.5,326.23 468.6,325.78 469.7,322.68 470.8,321.91 471.9,322.14 473,319.37 474.3,318 475.2,319.26 476.3,319 477.4,319.26 478.5,318.6 479.6,317.72 480.7,318.62 481.8,319.06 482.9,318.45 484,317.16 485.1,317.34 486.2,317.71 487.5,318 488.4,318.18 489.5,318.16 490.6,319.04 491.7,316.75 492.8,318.42 493.9,317.46 495,318.19 496.1,319.07 497.2,317.19 498.3,319.44 499.4,316.65 500.5,318.2 501.6,318.13 502.7,317.15 503.8,318.19 504.9,317.91 506,317.84 507.1,318.7 508.2,318" stroke="#5a5aa4" stroke-width="1.1" fill="none" stroke-linejoin="round" stroke-linecap="round"/>
<polyline points="368.5,301.8 369.6,305.75 370.5,307 371.8,311.51 372.9,311.4 373.4,313.5 374,314.85 375.1,314.47 376.2,318.08 377.3,317.61 377.8,319.4 378.4,319.89 379.5,319.64 380.6,319.46 381.7,318.11 382.8,319.16 383.9,319.24 385,316.14 386.1,317.12 387.2,318.22 388.1,316.5 389.4,314.78 390.5,313.02 391.6,313.79 392.7,309.7 393.8,310.56 394.9,309.51 395.5,307.7 396,306.48 397.1,306.73 398.2,306.38 399.3,306.85 400.4,306.01 401.3,306.2 402.6,308.2 403.7,306.8 404.8,309.19 405.9,307.1 407,307.73 408.1,310.09 409.2,311.06 410.2,310.6 411.4,312.78 412.5,312.91 413.6,311.57 414.7,313.65 415.8,314.78 416.9,312.68 418,314.52 419.1,313.98 420.2,314.5 421.3,316.13 421.9,316.5 422.4,316.99 423.5,317.85 424.6,315.03 425.7,316.11 426.8,317.57 427.9,316.71 429,315.85 430.1,314.8 431.2,315.93 432.3,314.63 433.4,315.74 434.5,315.64 436,315 436.7,315.24 437.8,312.89 438.9,312 440,312.06 441.1,309.1 441.9,309.1 443.3,311.69 444.4,313.1 445.5,316.36 446,316 446.6,315.63 447.7,316.82 448.8,316.61 449.9,318.66 450.7,319.4 452.1,318.33 453.2,318.62 454.3,315.58 455.4,317.91 456.5,316.3 457.6,315.91 459,314 459.8,308.64 460.9,300.41 461.8,294.4 463.1,303.91 464,312 465.3,311.63 466.4,312 467.5,314.07 468.6,313.96 469.7,313.7 470.8,311.95 471.3,313.6 471.9,312.64 473,313.17 474.1,313.27 475.2,312.03 476.3,312.34 477.4,312.84 478.5,310.43 479.6,310.42 480.2,310.6 480.7,311.48 481.8,310.18 482.9,311.58 484,310.66 485.1,309.56 486.2,311.09 487.3,309.94 488.4,312.35 489.5,312.65 490.6,311.76 491.7,313.05 492.8,310.97 493.9,311.82 494.9,312.1 496.1,310.79 497.2,313.4 498.3,311.05 499.4,314 500.5,312.91 501.6,313.5 502.7,311.54 503.8,314.41 504.9,314.17 506,312.08 507.1,312.46 508.2,313.6" stroke="#2b6fc4" stroke-width="1.1" fill="none" stroke-linejoin="round" stroke-linecap="round"/>
</g>
<rect x="368.1" y="189.6" width="140.1" height="150.6" fill="none" stroke="#000" stroke-width="1.3"/>
<line x1="387.03" y1="340.2" x2="387.03" y2="343.2" stroke="#000" stroke-width="1.1"/>
<line x1="417.32" y1="340.2" x2="417.32" y2="343.2" stroke="#000" stroke-width="1.1"/>
<line x1="447.62" y1="340.2" x2="447.62" y2="343.2" stroke="#000" stroke-width="1.1"/>
<line x1="477.91" y1="340.2" x2="477.91" y2="343.2" stroke="#000" stroke-width="1.1"/>
<line x1="508.2" y1="340.2" x2="508.2" y2="343.2" stroke="#000" stroke-width="1.1"/>
<line x1="371.89" y1="340.2" x2="371.89" y2="341.9" stroke="#000" stroke-width="1.1"/>
<line x1="402.18" y1="340.2" x2="402.18" y2="341.9" stroke="#000" stroke-width="1.1"/>
<line x1="432.47" y1="340.2" x2="432.47" y2="341.9" stroke="#000" stroke-width="1.1"/>
<line x1="462.76" y1="340.2" x2="462.76" y2="341.9" stroke="#000" stroke-width="1.1"/>
<line x1="493.05" y1="340.2" x2="493.05" y2="341.9" stroke="#000" stroke-width="1.1"/>
<text x="387.03" y="351.5" font-size="8.2" text-anchor="middle" font-weight="bold" fill="#000">400</text>
<text x="417.32" y="351.5" font-size="8.2" text-anchor="middle" font-weight="bold" fill="#000">800</text>
<text x="447.62" y="351.5" font-size="8.2" text-anchor="middle" font-weight="bold" fill="#000">1200</text>
<text x="477.91" y="351.5" font-size="8.2" text-anchor="middle" font-weight="bold" fill="#000">1600</text>
<text x="508.2" y="351.5" font-size="8.2" text-anchor="middle" font-weight="bold" fill="#000">2000</text>
<text x="358.8" y="265" font-size="10" text-anchor="middle" font-weight="bold" fill="#000" transform="rotate(-90 358.8 265)">Raman intensity (a.u.)</text>
<text x="437.3" y="364" font-size="10" text-anchor="middle" font-weight="bold" fill="#000">Raman shift (cm<tspan font-size="6.6" dy="-3.8" dx="0.7">-1</tspan><tspan dy="3.8" dx="0.3">)</tspan></text>
<text x="355.5" y="197" font-size="13.2" text-anchor="start" font-weight="bold" fill="#000">f</text>
<text x="400.3" y="230" font-size="7" text-anchor="start" font-weight="normal" fill="#000" transform="rotate(-90 400.3 230)" stroke="#000" stroke-width="0.15">τ(FA)</text>
<text x="407.7" y="233.4" font-size="7" text-anchor="start" font-weight="normal" fill="#000" transform="rotate(-90 407.7 233.4)" stroke="#000" stroke-width="0.15">δ(FA)</text>
<text x="446.8" y="226.7" font-size="7" text-anchor="start" font-weight="normal" fill="#000" transform="rotate(-90 446.8 226.7)" stroke="#000" stroke-width="0.15">ρ(NH<tspan font-size="5" dy="1.5">2</tspan><tspan dy="-1.5">)</tspan></text>
<text x="467" y="213.9" font-size="7" text-anchor="start" font-weight="normal" fill="#000" transform="rotate(-90 467 213.9)" stroke="#000" stroke-width="0.15">ω(CH)</text>
<text x="401.3" y="303.2" font-size="7" text-anchor="start" font-weight="normal" fill="#000" transform="rotate(-90 401.3 303.2)" stroke="#000" stroke-width="0.15">τ(FA)</text>
<text x="409.8" y="302.5" font-size="7" text-anchor="start" font-weight="normal" fill="#000" transform="rotate(-90 409.8 302.5)" stroke="#000" stroke-width="0.15">δ(FA)</text>
<text x="446.4" y="307.7" font-size="7" text-anchor="start" font-weight="normal" fill="#000" transform="rotate(-90 446.4 307.7)" stroke="#000" stroke-width="0.15">ρ(NH<tspan font-size="5" dy="1.5">2</tspan><tspan dy="-1.5">)</tspan></text>
<text x="465.2" y="292.9" font-size="7" text-anchor="start" font-weight="normal" fill="#000" transform="rotate(-90 465.2 292.9)" stroke="#000" stroke-width="0.15">ω(CH)</text>
<text x="486.5" y="199.5" font-size="7" text-anchor="middle" font-weight="bold" fill="#000">Control</text>
<line x1="472.3" y1="208.5" x2="488.5" y2="208.5" stroke="#5a5a5a" stroke-width="1.2"/>
<text x="490.5" y="211.4" font-size="8.5" text-anchor="start" font-weight="bold" fill="#000" letter-spacing="-0.15">0°</text>
<line x1="472.3" y1="218.6" x2="488.5" y2="218.6" stroke="#9a9a9a" stroke-width="1.6"/>
<text x="490.5" y="221.5" font-size="8.5" text-anchor="start" font-weight="bold" fill="#000" letter-spacing="-0.15">30°</text>
<line x1="472.3" y1="229.1" x2="488.5" y2="229.1" stroke="#f4a070" stroke-width="1.2"/>
<text x="490.5" y="232" font-size="8.5" text-anchor="start" font-weight="bold" fill="#000" letter-spacing="-0.15">60°</text>
<line x1="472.3" y1="239.9" x2="488.5" y2="239.9" stroke="#84a878" stroke-width="1.2"/>
<text x="490.5" y="242.8" font-size="8.5" text-anchor="start" font-weight="bold" fill="#000" letter-spacing="-0.15">90°</text>
<text x="486.8" y="265.5" font-size="7" text-anchor="middle" font-weight="bold" fill="#000">2NTD</text>
<line x1="472.1" y1="272" x2="487.5" y2="272" stroke="#2b6fc4" stroke-width="1.6"/>
<text x="489.8" y="274.9" font-size="8.5" text-anchor="start" font-weight="bold" fill="#000" letter-spacing="-0.15">0°</text>
<line x1="472.1" y1="282.3" x2="487.5" y2="282.3" stroke="#5ba3dc" stroke-width="1.2"/>
<text x="489.8" y="285.2" font-size="8.5" text-anchor="start" font-weight="bold" fill="#000" letter-spacing="-0.15">30°</text>
<line x1="472.1" y1="293.4" x2="487.5" y2="293.4" stroke="#5a5aa4" stroke-width="1.6"/>
<text x="489.8" y="296.3" font-size="8.5" text-anchor="start" font-weight="bold" fill="#000" letter-spacing="-0.15">60°</text>
<line x1="472.1" y1="304" x2="487.5" y2="304" stroke="#e58a9a" stroke-width="1.6"/>
<text x="489.8" y="306.9" font-size="8.5" text-anchor="start" font-weight="bold" fill="#000" letter-spacing="-0.15">90°</text>
<clipPath id="clipG"><rect x="535.7" y="189.6" width="139.6" height="150.6"/></clipPath>
<g clip-path="url(#clipG)">
<polyline points="536,254.2 676,254.2" stroke="#9a9a9a" stroke-width="1.5" fill="none" stroke-linejoin="round" stroke-linecap="round"/>
<polyline points="536,253.8 536.8,253.57 537.6,253.74 538.4,253.92 539.2,253.59 540,253.58 540.8,253.65 541.6,253.97 542.4,253.61 543.2,253.97 544,253.92 544.8,253.61 545.6,253.85 546.4,253.8 547.2,253.78 548,254.14 548.8,253.6 549.6,253.55 550.4,254.11 551.2,253.79 552,253.67 552.8,253.75 553.6,253.77 554.4,254.13 555.2,253.69 556,253.69 556.8,253.92 557.6,253.9 558.4,254.14 559.2,254.08 560,253.79 560.8,253.7 561.6,254.08 562.4,254.18 563.2,253.6 564,254.03 564.8,254.11 565.6,253.98 566.4,253.73 567.2,254.08 568,254.04 568.8,253.72 569.6,253.99 570.4,253.74 571.2,253.63 572,253.81 572.8,253.82 573.6,253.86 574.4,254.01 575.2,254.12 576,254.2 576.8,254.21 577.6,254.23 578.4,254.11 579.2,253.82 580,253.74 580.8,254.01 581.6,253.97 582.4,254.05 583.2,253.7 584,253.77 584.8,254.21 585.6,254.02 586.4,254.07 587.2,253.72 588,253.9 588.8,254.21 589.6,254.06 590.4,254.26 591.2,253.79 592,253.95 592.8,254.16 593.6,253.95 594.4,254.16 595.2,254.02 596,253.76 596.8,253.75 597.6,254.28 598.4,253.77 599.2,253.81 600,254 600.8,254.13 601.6,254.21 602.4,253.99 603.2,254 604,254.17 604.8,253.87 605.6,253.92 606.4,254.07 607.2,254.08 608,253.72 608.8,253.77 609.6,253.78 610.4,254.14 611.2,254.12 612,254.28 612.8,254.16 613.6,253.85 614.4,254.16 615.2,254.29 616,253.91 616.8,253.71 617.6,253.93 618.4,253.87 619.2,253.81 620,253.73 620.8,253.77 621.6,254.22 622.4,253.73 623.2,254.07 624,253.82 624.8,253.82 625.6,254.19 626.4,253.88 627.2,253.81 628,253.97 628.8,254.12 629.6,254.01 630.4,254.22 631.2,253.94 632,254.01 632.8,254.13 633.6,253.98 634.4,254.13 635.2,253.98 636,253.78 636.8,253.77 637.6,254.17 638.4,254.15 639.2,254.27 640,254.11 640.8,254.05 641.6,253.8 642.4,254.21 643.2,253.77 644,253.95 644.8,253.78 645.6,253.93 646.4,253.88 647.2,253.96 648,254.13 648.8,254.02 649.6,253.85 650.4,254.17 651.2,254.14 652,254.2 652.8,253.72 653.6,254.07 654.4,254.24 655.2,253.86 656,253.82 656.8,254.19 657.6,253.92 658.4,253.94 659.2,254.19 660,253.93 660.8,253.82 661.6,253.83 662.4,253.91 663.2,254.12 664,253.92 664.8,254.16 665.6,253.74 666.4,253.85 667.2,254.07 668,253.99 668.8,254 669.6,254.26 670.4,253.87 671.2,253.81 672,253.72 672.8,253.99 673.6,253.88 674.4,253.98 675.2,253.7 676,254" stroke="#5a5a5a" stroke-width="1" fill="none" stroke-linejoin="round" stroke-linecap="round"/>
<polyline points="536,251.18 536.8,251.05 537.6,251.01 538.4,250.97 539.2,250.75 540,250.42 540.8,250.14 541.6,250.22 542.4,250.44 543.2,250.57 544,250.85 544.8,251.02 545.6,250.9 546.4,251.03 547.2,251.41 548,251.5 548.8,251.69 549.6,252.24 550.4,252.64 551.2,252.83 552,252.82 552.8,252.56 553.6,252.43 554.4,252.72 555.2,253.01 556,252.84 556.8,252.61 557.6,252.51 558.4,252.35 559.2,252.16 560,251.86 560.8,251.35 561.6,250.98 562.4,250.67 563.2,250.35 564,250.47 564.8,250.85 565.6,251.28 566.4,251.88 567.2,252.43 568,252.66 568.8,252.67 569.6,252.74 570.4,252.83 571.2,253.07 572,253.27 572.8,253.03 573.6,252.8 574.4,252.97 575.2,253.12 576,253.05 576.8,252.91 577.6,252.65 578.4,252.62 579.2,252.75 580,252.66 580.8,252.66 581.6,252.74 582.4,252.65 583.2,252.54 584,252.76 584.8,253.2 585.6,253.41 586.4,253.41 587.2,253.4 588,253.54 588.8,253.6 589.6,253.47 590.4,253.41 591.2,253.35 592,253.28 592.8,253.42 593.6,253.54 594.4,253.56 595.2,253.71 596,253.76 596.8,253.81 597.6,253.92 598.4,253.78 599.2,253.53 600,253.4 600.8,253.3 601.6,253.48 602.4,253.83 603.2,253.93 604,253.9 604.8,253.66 605.6,253.36 606.4,253.25 607.2,252.8 608,251.76 608.8,250.68 609.6,249.95 610.4,249.52 611.2,249.22 612,249.07 612.8,249.19 613.6,249.12 614.4,248.8 615.2,248.71 616,248.61 616.8,248.52 617.6,248.48 618.4,248.37 619.2,248.22 620,248.14 620.8,248.22 621.6,248.07 622.4,248.15 623.2,248.78 624,249.29 624.8,249.72 625.6,250.14 626.4,250.32 627.2,250.43 628,250.77 628.8,251.18 629.6,251.13 630.4,250.72 631.2,250.52 632,250.53 632.8,250.36 633.6,250.03 634.4,249.86 635.2,249.62 636,249.28 636.8,248.88 637.6,248.69 638.4,248.71 639.2,248.55 640,248.35 640.8,248.05 641.6,247.41 642.4,246.74 643.2,246.43 644,246.04 644.8,245.05 645.6,243.79 646.4,242.79 647.2,241.98 648,240.82 648.8,239.53 649.6,238.92 650.4,238.93 651.2,239.09 652,239.62 652.8,240.59 653.6,241.38 654.4,241.93 655.2,242.65 656,243.74 656.8,244.79 657.6,245.55 658.4,246.53 659.2,247.84 660,248.85 660.8,249.4 661.6,249.94 662.4,250.4 663.2,250.47 664,250.3 664.8,250.15 665.6,249.97 666.4,249.71 667.2,249.53 668,249.46 668.8,249.53 669.6,249.63 670.4,249.68 671.2,249.82 672,249.77 672.8,249.44 673.6,249.36 674.4,249.53 675.2,249.61 676,249.64" stroke="#84a878" stroke-width="1.1" fill="none" stroke-linejoin="round" stroke-linecap="round"/>
<polyline points="536,250.97 536.8,250.58 537.6,250.06 538.4,249.44 539.2,249.12 540,248.96 540.8,248.58 541.6,248.25 542.4,248.42 543.2,248.81 544,249.3 544.8,249.85 545.6,250.1 546.4,250.37 547.2,250.76 548,250.87 548.8,250.84 549.6,251 550.4,251.16 551.2,251.26 552,251.55 552.8,251.71 553.6,251.66 554.4,251.73 555.2,251.63 556,251.27 556.8,250.82 557.6,250.21 558.4,249.84 559.2,249.56 560,248.76 560.8,247.99 561.6,247.57 562.4,246.93 563.2,246.23 564,245.99 564.8,246.08 565.6,246.26 566.4,246.63 567.2,247.19 568,247.64 568.8,247.93 569.6,248.13 570.4,248.31 571.2,248.76 572,249.39 572.8,249.68 573.6,249.56 574.4,249.31 575.2,249.1 576,248.94 576.8,248.7 577.6,248.38 578.4,248.09 579.2,247.8 580,247.62 580.8,247.58 581.6,247.44 582.4,247.27 583.2,247.19 584,247.27 584.8,247.28 585.6,247.01 586.4,246.81 587.2,246.84 588,246.85 588.8,246.68 589.6,246.43 590.4,246.2 591.2,245.85 592,245.62 592.8,245.41 593.6,245.21 594.4,245.16 595.2,244.84 596,244.37 596.8,244.2 597.6,243.97 598.4,243.49 599.2,243.25 600,243.29 600.8,243.12 601.6,242.68 602.4,242.24 603.2,241.8 604,241.4 604.8,241.16 605.6,240.69 606.4,239.77 607.2,238.86 608,238.32 608.8,237.78 609.6,236.89 610.4,236.03 611.2,235.53 612,235.2 612.8,234.64 613.6,234 614.4,233.62 615.2,233.4 616,233.15 616.8,232.8 617.6,232.56 618.4,232.65 619.2,232.78 620,232.7 620.8,232.48 621.6,232.17 622.4,231.96 623.2,231.81 624,231.56 624.8,231.17 625.6,230.65 626.4,230.22 627.2,230.06 628,229.96 628.8,229.62 629.6,229.09 630.4,228.81 631.2,228.57 632,228.09 632.8,227.77 633.6,227.32 634.4,226.71 635.2,226.18 636,225.33 636.8,224.52 637.6,224.08 638.4,223.6 639.2,223.14 640,222.49 640.8,221.55 641.6,220.74 642.4,220.26 643.2,219.93 644,219.15 644.8,217.81 645.6,216.38 646.4,215.01 647.2,213.48 648,211.72 648.8,209.84 649.6,207.92 650.4,206.46 651.2,205.88 652,205.87 652.8,206.48 653.6,207.51 654.4,208.25 655.2,208.73 656,209.34 656.8,210.09 657.6,210.84 658.4,211.5 659.2,211.93 660,212.12 660.8,212.21 661.6,212.22 662.4,212.04 663.2,211.76 664,211.39 664.8,210.95 665.6,210.55 666.4,209.96 667.2,209.3 668,208.66 668.8,207.81 669.6,206.94 670.4,206.27 671.2,205.68 672,204.96 672.8,204.13 673.6,203.43 674.4,202.56 675.2,201.17 676,199.75" stroke="#f4a070" stroke-width="1.2" fill="none" stroke-linejoin="round" stroke-linecap="round"/>
<polyline points="536.5,329 537.3,328.41 538.1,328.54 538.9,328.99 539.7,328.99 540.5,328.76 541.3,328.5 542.1,328.34 542.9,328.42 543.7,328.45 544.5,328.42 545.3,328.39 546.1,328.21 546.9,327.66 547.7,327.07 548.7,327.5 549.3,327.45 550.1,327.5 550.9,327.77 551.7,327.78 552.5,327.65 553.3,327.8 554.1,327.91 554.9,328.43 555.7,328.59 556.5,328.29 557.3,328.57 558.1,328.61 558.9,328.36 559.7,328.41 560.5,328.61 561.3,329.1 562.1,329.49 562.9,329.28 563.5,329 564.5,328.47 565.3,328.74 566.1,328.52 566.9,328.29 567.7,328.61 568.5,328.5 569.3,327.71 570.1,327.39 570.9,327.55 571.7,327.53 572.5,327.42 573.3,327.18 574.1,326.66 575.2,326.8 575.7,326.31 576.5,326.97 577.3,327.42 578.1,327.58 578.9,327.82 579.7,328.11 580.5,328.41 581.3,328.36 582.1,327.99 582.9,327.78 583.7,327.77 584.5,328.29 585.5,329 586.1,329.75 586.9,329.41 587.7,329.08 588.5,329.14 589.3,329.35 590.1,329.83 590.9,330.12 591.7,330.12 592.5,330.03 593.3,330.07 594.1,330.56 594.9,330.62 595.7,330.15 596.5,330.23 597.3,330.7 598.1,330.75 598.9,330.57 599.7,330.83 600.5,331.11 601.3,330.74 602.1,330.67 602.9,331 604,331.2 604.5,331.14 605.3,330.88 606.1,330.58 606.9,330.25 607.7,330.07 608.5,329.84 609.3,329.15 610.1,328.26 610.9,327.54 611.7,327.11 612.5,327.1 613.3,327.02 614.3,326.8 614.9,326.59 615.7,327.02 616.5,327.13 617.3,327.31 618.1,327.78 618.9,328.17 619.7,328.53 620.5,329.2 621.3,329.56 622.1,329.66 623.1,329.7 623.7,329.87 624.5,330.22 625.3,330.26 626.1,329.67 626.9,329.04 627.7,329.29 628.5,329.69 629.3,329.41 630.1,329.12 630.9,328.87 631.7,328.66 632.5,328.92 633.3,328.81 634.1,328.26 634.9,328.3 635.7,328.4 636.4,328.3 637.3,328.5 638.1,328.8 638.9,328.5 639.7,327.72 640.5,327.51 641.3,327.91 642.1,328.03 642.9,328.04 643.7,327.8 644.5,327.28 645.3,327.05 646.1,327.06 646.9,327.26 647.7,327.11 648.2,326.8 649.3,327.16 650.1,327.52 650.9,327.51 651.7,327.74 652.5,328.13 653.3,328.4 654.1,329.17 654.9,330.09 655.7,330.13 656.5,330.01 657.3,330.66 658.1,331.26 658.9,331.17 659.7,331.18 660.5,331.61 661.3,332.03 662.1,332.44 662.9,332.7 663.7,332.13 664.5,332.12 665.3,332.22 666.1,332.06 666.9,332.02 667.7,331.63 668.5,331.15 669.3,331.23 670.1,330.92 670.9,330.57 671.7,330.66 672.5,330.2 673.3,329.86 674.1,330.28 674.9,330.26 676,329.7" stroke="#2b6fc4" stroke-width="1.3" fill="none" stroke-linejoin="round" stroke-linecap="round"/>
<polyline points="536.5,330.5 537.3,330.05 538.1,329.95 538.9,330.19 539.7,330.52 540.5,330.73 541.3,330.52 542.1,330.07 542.9,329.82 543.7,329.69 544.5,329.76 545.3,329.84 546.1,329.61 546.9,329.71 547.7,330.06 548.5,329.99 549.3,329.81 550.1,330.03 550.9,330 551.7,329.73 552.5,329.97 553.3,330.03 554.1,329.6 554.9,329.59 555.7,329.89 556.1,329.7 556.5,329.65 557.3,329.28 558.1,329.58 558.9,330.18 559.7,330.45 560.5,330.58 561.3,330.61 562.1,330.69 562.9,330.82 563.7,330.68 564.5,330.78 565.3,331.08 566.1,331.21 566.9,331.29 567.7,331.31 568.5,331.12 569.3,331.2 570.1,330.68 570.9,330.69 571.7,330.57 572.5,330.52 573.3,330.51 574.1,330.71 574.9,330.92 575.7,330.82 576.5,330.61 577.3,330.48 578.1,330.69 578.9,331.1 579.7,331.09 580.5,330.73 581.3,330.55 582.1,330.56 582.9,330.39 583.7,330.54 584.5,330.94 585.5,330.5 586.1,330.68 586.9,330.81 587.7,330.96 588.5,330.75 589.3,330.21 590.1,329.94 590.9,330.07 591.7,330.12 592.5,330.35 593.3,330.89 594.1,330.9 594.9,330.56 595.7,330.51 596.5,330.64 597.3,330.77 598.1,330.54 598.9,330.19 599.7,330.23 600.5,330.35 601.3,330.37 602.1,330.63 602.9,330.81 604,330.5 604.5,330.32 605.3,330.52 606.1,330.11 606.9,329.4 607.7,329.06 608.5,329.14 609.3,329.48 610.1,329.51 610.9,328.97 611.7,328.5 612.5,328.69 613.3,328.96 614.1,328.85 614.9,328.81 615.7,328.39 616.5,327.79 617.3,327.84 618.1,327.87 618.7,327.5 619.7,327.24 620.5,327.1 621.3,326.83 622.1,326.77 622.9,326.99 623.7,327.25 624.5,327.03 625.3,326.48 626.1,326.18 626.9,326.19 627.7,326.51 628.5,326.42 629.3,325.97 630.1,325.88 630.9,325.69 631.7,325.44 632.5,325.54 633.5,325.3 634.1,325.4 634.9,324.89 635.7,324.29 636.5,324.02 637.3,324.07 638.1,324.45 638.9,324.56 639.7,324.09 640.5,323.35 641.3,323.07 642.3,323.1 642.9,323.24 643.7,322.48 644.5,322.03 645.3,321.87 646.1,321.99 646.9,321.75 647.7,321.12 648.5,320.91 649.3,320.73 650.1,320.51 651.1,320.2 651.7,320.43 652.5,320.48 653.3,321.03 654.1,321.4 654.9,321.39 655.7,321.84 656.5,322.59 657.3,322.81 658.1,322.83 658.9,322.95 659.7,323 660.5,323.27 661.3,323.8 662.1,324.2 662.9,324.6 663.7,323.91 664.5,323.83 665.3,323.88 666.1,323.86 666.9,324.04 667.7,323.78 668.5,323.01 669.3,322.82 670.1,322.87 670.9,322.46 671.7,322.35 672.5,322.63 673.3,322.44 674.1,322.16 674.9,322.19 676,321.6" stroke="#e58a9a" stroke-width="1.1" fill="none" stroke-linejoin="round" stroke-linecap="round"/>
<polyline points="536.5,328.3 537.3,328.12 538.1,328.04 538.9,328.11 539.7,328.38 540.5,328.39 541.3,328.17 542.1,327.89 542.9,327.68 543.7,327.75 544.5,327.98 545.3,328.16 546.1,328.15 546.9,328.05 547.7,327.77 548.5,327.68 549.3,328.02 550.1,328.05 550.9,327.6 551.7,327.36 552.5,327.51 553.3,327.71 554.1,327.8 554.9,327.71 555.7,327.58 556.1,327.5 556.5,327.5 557.3,327.24 558.1,326.92 558.9,327.1 559.7,327.66 560.5,327.68 561.3,327.45 562.1,327.52 562.9,327.3 563.7,327.11 564.5,327.37 565.3,327.54 566.1,327.58 566.9,327.29 567.7,326.95 568.5,327.15 569.3,327.47 570.1,327.38 570.9,327.06 571.7,327.04 572.5,327.01 573.3,326.91 574.1,327.16 574.9,327.07 575.7,326.69 576.5,326.71 577.3,326.66 578.2,326.8 578.9,326.84 579.7,326.99 580.5,326.57 581.3,326.15 582.1,326.26 582.9,326.56 583.7,326.59 584.5,326.15 585.3,325.82 586.1,326 586.9,325.78 587.7,325.21 588.5,324.94 589.3,325.03 590,325.3 590.9,325.14 591.7,325.11 592.5,324.93 593.3,324.88 594.1,324.75 594.9,324.35 595.7,324.43 596.5,325.01 597.3,325 598.1,324.58 598.9,324.73 599.7,325.02 600.5,324.97 601.3,324.67 602.1,324.34 602.9,324.27 603.7,324.33 604.5,324.41 605.3,324.37 606,323.9 606.9,323.97 607.7,323.52 608.5,323.14 609.3,322.63 610.1,322.51 610.9,322.64 611.7,322.39 612.5,322.13 613.3,321.81 614.1,321.43 614.9,321.43 615.7,321.33 616.5,320.81 617.3,320.33 618.1,319.99 618.7,320.2 619.7,320.19 620.5,320.26 621.3,320.13 622.1,319.95 622.9,319.63 623.7,319.04 624.5,318.61 625.3,318.51 626.1,318.69 626.9,318.74 627.7,318.34 628.5,317.93 629.3,317.56 630.1,317.42 630.9,317.63 631.7,317.66 632.5,317.6 633.5,317.2 634.1,317.57 634.9,317.25 635.7,316.67 636.5,316.03 637.3,315.81 638.1,315.75 638.9,315.25 639.7,314.93 640.8,315 641.3,314.59 642.1,314.21 642.9,313.77 643.7,313.24 644.5,312.76 645.3,312.46 646.1,312.13 646.9,311.62 647.7,311.27 648.5,311.18 649.3,310.85 650.1,310.09 651.1,309.9 651.7,309.8 652.5,310.14 653.3,310.28 654.1,310.34 654.9,310.44 655.7,310.64 656.5,310.65 657.3,310.83 658.1,311.23 658.5,311.3 658.9,311.23 659.7,310.92 660.5,310.6 661.3,310.35 662.1,310.03 662.9,309.75 663.7,309.68 664.5,309.68 665.3,309.4 666.1,309.04 666.9,308.82 667.3,308.4 667.7,308.5 668.5,308.09 669.3,307.67 670.1,307.17 670.9,306.85 671.7,306.78 672.5,306.55 673.3,306.16 674.1,305.53 674.9,304.74 676,304.7" stroke="#4a4a9c" stroke-width="1.1" fill="none" stroke-linejoin="round" stroke-linecap="round"/>
<polyline points="536.5,326.1 537.3,326.16 538.1,326.1 538.9,325.54 539.7,325.09 540.5,324.87 541.3,324.71 542.1,324.62 542.8,325.3 543.7,325.16 544.5,325.43 545.3,325.05 546.1,324.45 546.9,324.27 547.7,324.19 548.7,323.9 549.3,323.47 550.1,323.78 550.9,323.54 551.7,322.8 552.5,322.39 553.3,322.62 554.1,322.86 554.9,322.55 555.7,322.62 556.1,322.4 556.5,322.54 557.3,321.78 558.1,321.48 558.9,321.68 559.7,321.55 560.5,320.89 561.3,320.38 562.1,320.08 562.9,319.97 563.5,320.2 564.5,320.91 565.3,320.76 566.1,320.84 566.9,321.58 567.7,322.17 568.5,322.26 569.3,322.4 570.1,322.02 570.9,321.39 571.7,320.58 572.5,319.73 573.3,318.93 573.8,318.7 574.9,319.03 575.7,318.93 576.5,318.79 577.3,319.07 578.2,318.7 578.9,318.14 579.7,317.75 580.5,317.61 581.3,317.62 582.1,317.97 582.9,318 583.7,317.9 584.5,317.81 585.5,317.2 586.1,316.51 586.9,316.23 587.7,316.38 588.5,316.59 589.3,316.12 590.1,315.45 590.9,315.13 591.7,314.98 592.5,314.86 592.9,315 593.3,314.47 594.1,314.3 594.9,314.63 595.7,314.71 596.5,314.25 597.3,313.81 598.1,313.61 598.8,313.5 599.7,312.58 600.5,312.64 601.3,312.86 602.1,312.55 602.9,312.18 603.7,312.32 604.5,312.11 605.3,311.68 606,311.3 606.9,310.98 607.7,310.59 608.5,310.96 609.3,311.25 610.1,311.04 610.9,310.71 611.4,310.6 612.5,309.65 613.3,309.13 614.1,308.82 614.9,308.69 615.7,308.24 616.5,307.23 617.3,306.83 618.1,306.93 618.7,306.2 619.7,305.46 620.5,305.29 621.3,305.44 622.1,305.07 622.9,304.49 623.7,304.47 624.5,304.17 625.3,303.46 626.1,303.2 626.9,303 627.7,302.43 628.5,302.13 629.3,301.6 630.1,300.79 630.9,300.43 631.7,300.13 632.5,299.92 633.5,299.6 634.1,299.15 634.9,298.58 635.7,298.46 636.5,298.07 637.3,297.45 638.1,297.03 638.9,296.97 639.7,296.63 640.8,295.9 641.3,295.35 642.1,294.38 642.9,292.87 643.7,291.32 644.5,289.95 645.2,288.5 646.1,288.64 646.9,288.05 647.7,287.37 648.5,286.94 649.3,286.95 650.1,286.54 650.9,285.71 651.7,285.42 652.5,285.28 653.3,284.72 654.1,284.8 654.9,284.28 655.7,284.34 656.5,284.63 657.3,285.11 658.1,285.42 658.5,285.6 658.9,285.11 659.7,284.09 660.5,283.32 661.3,283.01 662.1,282.31 662.9,281.1 663.7,280.96 664.5,280.44 665.3,280.08 666.1,279.79 666.9,279.73 667.7,279.36 668.5,278.75 669.3,278.47 670.3,278.2 670.9,276.75 671.7,276.18 672.5,275.95 673.3,275.64 674.1,274.66 674.9,273.29 676,272.3" stroke="#b4aedc" stroke-width="1.1" fill="none" stroke-linejoin="round" stroke-linecap="round"/>
</g>
<rect x="535.7" y="189.6" width="139.6" height="150.6" fill="none" stroke="#000" stroke-width="1.3"/>
<line x1="535.7" y1="340.2" x2="535.7" y2="343.2" stroke="#000" stroke-width="1.1"/>
<line x1="570.6" y1="340.2" x2="570.6" y2="343.2" stroke="#000" stroke-width="1.1"/>
<line x1="605.5" y1="340.2" x2="605.5" y2="343.2" stroke="#000" stroke-width="1.1"/>
<line x1="640.4" y1="340.2" x2="640.4" y2="343.2" stroke="#000" stroke-width="1.1"/>
<line x1="675.3" y1="340.2" x2="675.3" y2="343.2" stroke="#000" stroke-width="1.1"/>
<line x1="553.15" y1="340.2" x2="553.15" y2="341.9" stroke="#000" stroke-width="1.1"/>
<line x1="588.05" y1="340.2" x2="588.05" y2="341.9" stroke="#000" stroke-width="1.1"/>
<line x1="622.95" y1="340.2" x2="622.95" y2="341.9" stroke="#000" stroke-width="1.1"/>
<line x1="657.85" y1="340.2" x2="657.85" y2="341.9" stroke="#000" stroke-width="1.1"/>
<text x="535.7" y="351.5" font-size="8.2" text-anchor="middle" font-weight="bold" fill="#000">3000</text>
<text x="570.6" y="351.5" font-size="8.2" text-anchor="middle" font-weight="bold" fill="#000">3100</text>
<text x="605.5" y="351.5" font-size="8.2" text-anchor="middle" font-weight="bold" fill="#000">3200</text>
<text x="640.4" y="351.5" font-size="8.2" text-anchor="middle" font-weight="bold" fill="#000">3300</text>
<text x="675.3" y="351.5" font-size="8.2" text-anchor="middle" font-weight="bold" fill="#000">3400</text>
<text x="527.7" y="270.3" font-size="10" text-anchor="middle" font-weight="bold" fill="#000" transform="rotate(-90 527.7 270.3)">Raman intensity (a.u.)</text>
<text x="606" y="364" font-size="10" text-anchor="middle" font-weight="bold" fill="#000">Raman shift (cm<tspan font-size="6.6" dy="-3.8" dx="0.7">-1</tspan><tspan dy="3.8" dx="0.3">)</tspan></text>
<text x="520.4" y="195.2" font-size="13" text-anchor="start" font-weight="bold" fill="#000">g</text>
<text x="667.3" y="200.8" font-size="8.5" text-anchor="end" font-weight="bold" fill="#000">Control</text>
<text x="671" y="268.6" font-size="8" text-anchor="end" font-weight="bold" fill="#000">2NTD</text>
<text x="582.5" y="244.2" font-size="7" text-anchor="start" font-weight="normal" fill="#000" transform="rotate(-90 582.5 244.2)" stroke="#000" stroke-width="0.15">ν(NH<tspan font-size="5" dy="1.5">2</tspan><tspan dy="-1.5">)</tspan></text>
<text x="654.5" y="233.4" font-size="7" text-anchor="start" font-weight="normal" fill="#000" transform="rotate(-90 654.5 233.4)" stroke="#000" stroke-width="0.15">ν(NH<tspan font-size="5" dy="1.5">2</tspan><tspan dy="-1.5">)</tspan></text>
<text x="581.6" y="315" font-size="7" text-anchor="start" font-weight="normal" fill="#000" transform="rotate(-90 581.6 315)" stroke="#000" stroke-width="0.15">ν(NH<tspan font-size="5" dy="1.5">2</tspan><tspan dy="-1.5">)</tspan></text>
<text x="655.5" y="308.4" font-size="7" text-anchor="start" font-weight="normal" fill="#000" transform="rotate(-90 655.5 308.4)" stroke="#000" stroke-width="0.15">ν(NH<tspan font-size="5" dy="1.5">2</tspan><tspan dy="-1.5">)</tspan></text>
<line x1="573.7" y1="237.5" x2="564.3" y2="244.2" stroke="#000" stroke-width="0.9"/>
<polygon points="564.3,244.2 565.98,241.04 567.83,243.65" fill="#000"/>
<line x1="573.8" y1="307.7" x2="563.5" y2="315.8" stroke="#000" stroke-width="0.9"/>
<polygon points="563.5,315.8 565.03,312.56 567,315.08" fill="#000"/>
<line x1="541.4" y1="197.7" x2="556.9" y2="197.7" stroke="#5a5a5a" stroke-width="1.2"/>
<text x="559.6" y="200.6" font-size="8.8" text-anchor="start" font-weight="bold" fill="#000" letter-spacing="-0.15">0°</text>
<line x1="541.4" y1="207.8" x2="556.9" y2="207.8" stroke="#9a9a9a" stroke-width="1.6"/>
<text x="559.6" y="210.7" font-size="8.8" text-anchor="start" font-weight="bold" fill="#000" letter-spacing="-0.15">30°</text>
<line x1="541.4" y1="217.9" x2="556.9" y2="217.9" stroke="#f4a070" stroke-width="1.2"/>
<text x="559.6" y="220.8" font-size="8.8" text-anchor="start" font-weight="bold" fill="#000" letter-spacing="-0.15">60°</text>
<line x1="541.4" y1="229" x2="556.9" y2="229" stroke="#84a878" stroke-width="1.2"/>
<text x="559.6" y="231.9" font-size="8.8" text-anchor="start" font-weight="bold" fill="#000" letter-spacing="-0.15">90°</text>
<line x1="541.4" y1="261.9" x2="557.6" y2="261.9" stroke="#2b6fc4" stroke-width="1.6"/>
<text x="560.2" y="264.8" font-size="8.8" text-anchor="start" font-weight="bold" fill="#000" letter-spacing="-0.15">0°</text>
<line x1="541.4" y1="272.6" x2="557.6" y2="272.6" stroke="#4a4a9c" stroke-width="1.2"/>
<text x="560.2" y="275.5" font-size="8.8" text-anchor="start" font-weight="bold" fill="#000" letter-spacing="-0.15">30°</text>
<line x1="541.4" y1="283.4" x2="557.6" y2="283.4" stroke="#b4aedc" stroke-width="1.2"/>
<text x="560.2" y="286.3" font-size="8.8" text-anchor="start" font-weight="bold" fill="#000" letter-spacing="-0.15">60°</text>
<line x1="541.4" y1="293.7" x2="557.6" y2="293.7" stroke="#e58a9a" stroke-width="1.2"/>
<text x="560.2" y="296.6" font-size="8.8" text-anchor="start" font-weight="bold" fill="#000" letter-spacing="-0.15">90°</text>
<rect x="42.2" y="378.4" width="180" height="151.6" fill="none" stroke="#000" stroke-width="1.3"/>
<line x1="42.2" y1="530" x2="42.2" y2="533" stroke="#000" stroke-width="1.1"/>
<line x1="78.2" y1="530" x2="78.2" y2="533" stroke="#000" stroke-width="1.1"/>
<line x1="114.2" y1="530" x2="114.2" y2="533" stroke="#000" stroke-width="1.1"/>
<line x1="150.2" y1="530" x2="150.2" y2="533" stroke="#000" stroke-width="1.1"/>
<line x1="186.2" y1="530" x2="186.2" y2="533" stroke="#000" stroke-width="1.1"/>
<line x1="222.2" y1="530" x2="222.2" y2="533" stroke="#000" stroke-width="1.1"/>
<line x1="60.2" y1="530" x2="60.2" y2="531.7" stroke="#000" stroke-width="1.1"/>
<line x1="96.2" y1="530" x2="96.2" y2="531.7" stroke="#000" stroke-width="1.1"/>
<line x1="132.2" y1="530" x2="132.2" y2="531.7" stroke="#000" stroke-width="1.1"/>
<line x1="168.2" y1="530" x2="168.2" y2="531.7" stroke="#000" stroke-width="1.1"/>
<line x1="204.2" y1="530" x2="204.2" y2="531.7" stroke="#000" stroke-width="1.1"/>
<text x="42.2" y="541.5" font-size="8.2" text-anchor="middle" font-weight="bold" fill="#000">0</text>
<text x="78.2" y="541.5" font-size="8.2" text-anchor="middle" font-weight="bold" fill="#000">100</text>
<text x="114.2" y="541.5" font-size="8.2" text-anchor="middle" font-weight="bold" fill="#000">200</text>
<text x="150.2" y="541.5" font-size="8.2" text-anchor="middle" font-weight="bold" fill="#000">300</text>
<text x="186.2" y="541.5" font-size="8.2" text-anchor="middle" font-weight="bold" fill="#000">400</text>
<text x="222.2" y="541.5" font-size="8.2" text-anchor="middle" font-weight="bold" fill="#000">500</text>
<line x1="42.2" y1="523.36" x2="39.2" y2="523.36" stroke="#000" stroke-width="1.1"/>
<line x1="42.2" y1="499.2" x2="39.2" y2="499.2" stroke="#000" stroke-width="1.1"/>
<line x1="42.2" y1="475.04" x2="39.2" y2="475.04" stroke="#000" stroke-width="1.1"/>
<line x1="42.2" y1="450.88" x2="39.2" y2="450.88" stroke="#000" stroke-width="1.1"/>
<line x1="42.2" y1="426.72" x2="39.2" y2="426.72" stroke="#000" stroke-width="1.1"/>
<line x1="42.2" y1="402.56" x2="39.2" y2="402.56" stroke="#000" stroke-width="1.1"/>
<line x1="42.2" y1="378.4" x2="39.2" y2="378.4" stroke="#000" stroke-width="1.1"/>
<line x1="42.2" y1="511.28" x2="40.5" y2="511.28" stroke="#000" stroke-width="1.1"/>
<line x1="42.2" y1="487.12" x2="40.5" y2="487.12" stroke="#000" stroke-width="1.1"/>
<line x1="42.2" y1="462.96" x2="40.5" y2="462.96" stroke="#000" stroke-width="1.1"/>
<line x1="42.2" y1="438.8" x2="40.5" y2="438.8" stroke="#000" stroke-width="1.1"/>
<line x1="42.2" y1="414.64" x2="40.5" y2="414.64" stroke="#000" stroke-width="1.1"/>
<line x1="42.2" y1="390.48" x2="40.5" y2="390.48" stroke="#000" stroke-width="1.1"/>
<text x="37.2" y="526.36" font-size="8.2" text-anchor="end" font-weight="bold" fill="#000">0.0</text>
<text x="37.2" y="502.2" font-size="8.2" text-anchor="end" font-weight="bold" fill="#000">400.0μ</text>
<text x="37.2" y="478.04" font-size="8.2" text-anchor="end" font-weight="bold" fill="#000">800.0μ</text>
<text x="37.2" y="453.88" font-size="8.2" text-anchor="end" font-weight="bold" fill="#000">1.2m</text>
<text x="37.2" y="429.72" font-size="8.2" text-anchor="end" font-weight="bold" fill="#000">1.6m</text>
<text x="37.2" y="405.56" font-size="8.2" text-anchor="end" font-weight="bold" fill="#000">2.0m</text>
<text x="37.2" y="381.4" font-size="8.2" text-anchor="end" font-weight="bold" fill="#000">2.4m</text>
<text x="8.3" y="454" font-size="10" text-anchor="middle" font-weight="bold" fill="#000" transform="rotate(-90 8.3 454)">Vibrational entropy (eV/K)</text>
<text x="132.2" y="554" font-size="10" text-anchor="middle" font-weight="bold" fill="#000">Temperature (K)</text>
<text x="0" y="382" font-size="13" text-anchor="start" font-weight="bold" fill="#000">h</text>
<polygon points="69.2,412.2 79.78,412.8 79.78,422.8" fill="#2070c8"/>
<polygon points="79.78,412.8 90.37,412.2 79.78,422.8" fill="#164f9c"/>
<polygon points="69.2,432.6 79.78,432 79.78,422.8" fill="#2a7ad0"/>
<polygon points="79.78,432 90.37,432.6 79.78,422.8" fill="#1a5cae"/>
<line x1="69.2" y1="412.2" x2="90.37" y2="412.2" stroke="#1a4890" stroke-width="0.7"/>
<line x1="79.78" y1="412.8" x2="79.78" y2="432" stroke="#7aa0c8" stroke-width="0.3"/>
<polygon points="90.37,412.2 100.95,412.8 100.95,422.8" fill="#2070c8"/>
<polygon points="100.95,412.8 111.53,412.2 100.95,422.8" fill="#164f9c"/>
<polygon points="90.37,432.6 100.95,432 100.95,422.8" fill="#2a7ad0"/>
<polygon points="100.95,432 111.53,432.6 100.95,422.8" fill="#1a5cae"/>
<line x1="90.37" y1="412.2" x2="111.53" y2="412.2" stroke="#1a4890" stroke-width="0.7"/>
<line x1="100.95" y1="412.8" x2="100.95" y2="432" stroke="#7aa0c8" stroke-width="0.3"/>
<polygon points="111.53,412.2 122.12,412.8 122.12,422.8" fill="#2070c8"/>
<polygon points="122.12,412.8 132.7,412.2 122.12,422.8" fill="#164f9c"/>
<polygon points="111.53,432.6 122.12,432 122.12,422.8" fill="#2a7ad0"/>
<polygon points="122.12,432 132.7,432.6 122.12,422.8" fill="#1a5cae"/>
<line x1="111.53" y1="412.2" x2="132.7" y2="412.2" stroke="#1a4890" stroke-width="0.7"/>
<line x1="122.12" y1="412.8" x2="122.12" y2="432" stroke="#7aa0c8" stroke-width="0.3"/>
<line x1="87.37" y1="424" x2="90.37" y2="422" stroke="#b09080" stroke-width="0.7"/>
<line x1="93.37" y1="424" x2="90.37" y2="422" stroke="#b09080" stroke-width="0.7"/>
<line x1="90.37" y1="422" x2="90.37" y2="419.3" stroke="#c0a0a0" stroke-width="0.5"/>
<line x1="87.37" y1="424" x2="85.37" y2="422.8" stroke="#d8b8b8" stroke-width="0.5"/>
<line x1="93.37" y1="424" x2="95.37" y2="422.8" stroke="#d8b8b8" stroke-width="0.5"/>
<line x1="88.27" y1="425.05" x2="86.87" y2="426.3" stroke="#d8b8b8" stroke-width="0.5"/>
<line x1="92.47" y1="425.05" x2="93.87" y2="426.3" stroke="#d8b8b8" stroke-width="0.5"/>
<line x1="89.17" y1="423.25" x2="88.37" y2="420.3" stroke="#d8b8b8" stroke-width="0.5"/>
<line x1="91.57" y1="423.25" x2="92.37" y2="420.3" stroke="#d8b8b8" stroke-width="0.5"/>
<circle cx="87.37" cy="424" r="1.3" fill="#a8b0d8"/>
<circle cx="93.37" cy="424" r="1.3" fill="#a8b0d8"/>
<circle cx="90.37" cy="422" r="1.2" fill="#8a5630"/>
<line x1="108.53" y1="424" x2="111.53" y2="422" stroke="#b09080" stroke-width="0.7"/>
<line x1="114.53" y1="424" x2="111.53" y2="422" stroke="#b09080" stroke-width="0.7"/>
<line x1="111.53" y1="422" x2="111.53" y2="419.3" stroke="#c0a0a0" stroke-width="0.5"/>
<line x1="108.53" y1="424" x2="106.53" y2="422.8" stroke="#d8b8b8" stroke-width="0.5"/>
<line x1="114.53" y1="424" x2="116.53" y2="422.8" stroke="#d8b8b8" stroke-width="0.5"/>
<line x1="109.43" y1="425.05" x2="108.03" y2="426.3" stroke="#d8b8b8" stroke-width="0.5"/>
<line x1="113.63" y1="425.05" x2="115.03" y2="426.3" stroke="#d8b8b8" stroke-width="0.5"/>
<line x1="110.33" y1="423.25" x2="109.53" y2="420.3" stroke="#d8b8b8" stroke-width="0.5"/>
<line x1="112.73" y1="423.25" x2="113.53" y2="420.3" stroke="#d8b8b8" stroke-width="0.5"/>
<circle cx="108.53" cy="424" r="1.3" fill="#a8b0d8"/>
<circle cx="114.53" cy="424" r="1.3" fill="#a8b0d8"/>
<circle cx="111.53" cy="422" r="1.2" fill="#8a5630"/>
<circle cx="69.2" cy="412.2" r="1.8" fill="#8a1e8e" stroke="#5a105e" stroke-width="0.35"/>
<circle cx="69" cy="412" r="0.76" fill="#c860d0"/>
<circle cx="69.2" cy="432.6" r="1.8" fill="#8a1e8e" stroke="#5a105e" stroke-width="0.35"/>
<circle cx="69" cy="432.4" r="0.76" fill="#c860d0"/>
<circle cx="90.37" cy="412.2" r="1.8" fill="#8a1e8e" stroke="#5a105e" stroke-width="0.35"/>
<circle cx="90.17" cy="412" r="0.76" fill="#c860d0"/>
<circle cx="90.37" cy="432.6" r="1.8" fill="#8a1e8e" stroke="#5a105e" stroke-width="0.35"/>
<circle cx="90.17" cy="432.4" r="0.76" fill="#c860d0"/>
<circle cx="111.53" cy="412.2" r="1.8" fill="#8a1e8e" stroke="#5a105e" stroke-width="0.35"/>
<circle cx="111.33" cy="412" r="0.76" fill="#c860d0"/>
<circle cx="111.53" cy="432.6" r="1.8" fill="#8a1e8e" stroke="#5a105e" stroke-width="0.35"/>
<circle cx="111.33" cy="432.4" r="0.76" fill="#c860d0"/>
<circle cx="132.7" cy="412.2" r="1.8" fill="#8a1e8e" stroke="#5a105e" stroke-width="0.35"/>
<circle cx="132.5" cy="412" r="0.76" fill="#c860d0"/>
<circle cx="132.7" cy="432.6" r="1.8" fill="#8a1e8e" stroke="#5a105e" stroke-width="0.35"/>
<circle cx="132.5" cy="432.4" r="0.76" fill="#c860d0"/>
<circle cx="79.78" cy="413" r="1.8" fill="#8a1e8e" stroke="#5a105e" stroke-width="0.35"/>
<circle cx="79.58" cy="412.8" r="0.76" fill="#c860d0"/>
<circle cx="79.78" cy="433.4" r="1.8" fill="#8a1e8e" stroke="#5a105e" stroke-width="0.35"/>
<circle cx="79.58" cy="433.2" r="0.76" fill="#c860d0"/>
<circle cx="78.48" cy="422.8" r="1.8" fill="#8a1e8e" stroke="#5a105e" stroke-width="0.35"/>
<circle cx="78.28" cy="422.6" r="0.76" fill="#c860d0"/>
<circle cx="81.08" cy="422.8" r="1.8" fill="#8a1e8e" stroke="#5a105e" stroke-width="0.35"/>
<circle cx="80.88" cy="422.6" r="0.76" fill="#c860d0"/>
<circle cx="100.95" cy="413" r="1.8" fill="#8a1e8e" stroke="#5a105e" stroke-width="0.35"/>
<circle cx="100.75" cy="412.8" r="0.76" fill="#c860d0"/>
<circle cx="100.95" cy="433.4" r="1.8" fill="#8a1e8e" stroke="#5a105e" stroke-width="0.35"/>
<circle cx="100.75" cy="433.2" r="0.76" fill="#c860d0"/>
<circle cx="99.65" cy="422.8" r="1.8" fill="#8a1e8e" stroke="#5a105e" stroke-width="0.35"/>
<circle cx="99.45" cy="422.6" r="0.76" fill="#c860d0"/>
<circle cx="102.25" cy="422.8" r="1.8" fill="#8a1e8e" stroke="#5a105e" stroke-width="0.35"/>
<circle cx="102.05" cy="422.6" r="0.76" fill="#c860d0"/>
<circle cx="122.12" cy="413" r="1.8" fill="#8a1e8e" stroke="#5a105e" stroke-width="0.35"/>
<circle cx="121.92" cy="412.8" r="0.76" fill="#c860d0"/>
<circle cx="122.12" cy="433.4" r="1.8" fill="#8a1e8e" stroke="#5a105e" stroke-width="0.35"/>
<circle cx="121.92" cy="433.2" r="0.76" fill="#c860d0"/>
<circle cx="120.82" cy="422.8" r="1.8" fill="#8a1e8e" stroke="#5a105e" stroke-width="0.35"/>
<circle cx="120.62" cy="422.6" r="0.76" fill="#c860d0"/>
<circle cx="123.42" cy="422.8" r="1.8" fill="#8a1e8e" stroke="#5a105e" stroke-width="0.35"/>
<circle cx="123.22" cy="422.6" r="0.76" fill="#c860d0"/>
<polygon points="90.5,412.2 101,405.3 101,412.8" fill="#2a74c8"/>
<polygon points="101,405.3 111.3,412.2 101,412.8" fill="#1a5aae"/>
<path d="M97,397 L99.5,399 L103.5,399.5 L106,403 L108,405 L110,408" stroke="#9a7050" stroke-width="0.8" fill="none"/>
<path d="M99.5,399 L99,402 L102,404 L106,403" stroke="#a0a8d0" stroke-width="0.7" fill="none"/>
<circle cx="103.5" cy="399.2" r="1.3" fill="#e8e020"/>
<circle cx="99" cy="401.8" r="0.9" fill="#a8b0d8"/>
<circle cx="109" cy="406" r="0.9" fill="#a8b0d8"/>
<circle cx="106" cy="403" r="0.8" fill="#8a5630"/>
<circle cx="111.3" cy="412.2" r="1.8" fill="#962a98"/>
<polygon points="131.8,486.4 143.7,487 143.7,498.5" fill="#2070c8"/>
<polygon points="143.7,487 155.6,486.4 143.7,498.5" fill="#164f9c"/>
<polygon points="131.8,509.6 143.7,509 143.7,498.5" fill="#2a7ad0"/>
<polygon points="143.7,509 155.6,509.6 143.7,498.5" fill="#1a5cae"/>
<line x1="131.8" y1="486.4" x2="155.6" y2="486.4" stroke="#1a4890" stroke-width="0.7"/>
<line x1="143.7" y1="487" x2="143.7" y2="509" stroke="#7aa0c8" stroke-width="0.3"/>
<polygon points="155.6,486.4 167.5,487 167.5,498.5" fill="#2070c8"/>
<polygon points="167.5,487 179.4,486.4 167.5,498.5" fill="#164f9c"/>
<polygon points="155.6,509.6 167.5,509 167.5,498.5" fill="#2a7ad0"/>
<polygon points="167.5,509 179.4,509.6 167.5,498.5" fill="#1a5cae"/>
<line x1="155.6" y1="486.4" x2="179.4" y2="486.4" stroke="#1a4890" stroke-width="0.7"/>
<line x1="167.5" y1="487" x2="167.5" y2="509" stroke="#7aa0c8" stroke-width="0.3"/>
<polygon points="179.4,486.4 191.3,487 191.3,498.5" fill="#2070c8"/>
<polygon points="191.3,487 203.2,486.4 191.3,498.5" fill="#164f9c"/>
<polygon points="179.4,509.6 191.3,509 191.3,498.5" fill="#2a7ad0"/>
<polygon points="191.3,509 203.2,509.6 191.3,498.5" fill="#1a5cae"/>
<line x1="179.4" y1="486.4" x2="203.2" y2="486.4" stroke="#1a4890" stroke-width="0.7"/>
<line x1="191.3" y1="487" x2="191.3" y2="509" stroke="#7aa0c8" stroke-width="0.3"/>
<line x1="152.6" y1="499.7" x2="155.6" y2="497.7" stroke="#b09080" stroke-width="0.7"/>
<line x1="158.6" y1="499.7" x2="155.6" y2="497.7" stroke="#b09080" stroke-width="0.7"/>
<line x1="155.6" y1="497.7" x2="155.6" y2="495" stroke="#c0a0a0" stroke-width="0.5"/>
<line x1="152.6" y1="499.7" x2="150.6" y2="498.5" stroke="#d8b8b8" stroke-width="0.5"/>
<line x1="158.6" y1="499.7" x2="160.6" y2="498.5" stroke="#d8b8b8" stroke-width="0.5"/>
<line x1="153.5" y1="500.75" x2="152.1" y2="502" stroke="#d8b8b8" stroke-width="0.5"/>
<line x1="157.7" y1="500.75" x2="159.1" y2="502" stroke="#d8b8b8" stroke-width="0.5"/>
<line x1="154.4" y1="498.95" x2="153.6" y2="496" stroke="#d8b8b8" stroke-width="0.5"/>
<line x1="156.8" y1="498.95" x2="157.6" y2="496" stroke="#d8b8b8" stroke-width="0.5"/>
<circle cx="152.6" cy="499.7" r="1.3" fill="#a8b0d8"/>
<circle cx="158.6" cy="499.7" r="1.3" fill="#a8b0d8"/>
<circle cx="155.6" cy="497.7" r="1.2" fill="#8a5630"/>
<line x1="176.4" y1="499.7" x2="179.4" y2="497.7" stroke="#b09080" stroke-width="0.7"/>
<line x1="182.4" y1="499.7" x2="179.4" y2="497.7" stroke="#b09080" stroke-width="0.7"/>
<line x1="179.4" y1="497.7" x2="179.4" y2="495" stroke="#c0a0a0" stroke-width="0.5"/>
<line x1="176.4" y1="499.7" x2="174.4" y2="498.5" stroke="#d8b8b8" stroke-width="0.5"/>
<line x1="182.4" y1="499.7" x2="184.4" y2="498.5" stroke="#d8b8b8" stroke-width="0.5"/>
<line x1="177.3" y1="500.75" x2="175.9" y2="502" stroke="#d8b8b8" stroke-width="0.5"/>
<line x1="181.5" y1="500.75" x2="182.9" y2="502" stroke="#d8b8b8" stroke-width="0.5"/>
<line x1="178.2" y1="498.95" x2="177.4" y2="496" stroke="#d8b8b8" stroke-width="0.5"/>
<line x1="180.6" y1="498.95" x2="181.4" y2="496" stroke="#d8b8b8" stroke-width="0.5"/>
<circle cx="176.4" cy="499.7" r="1.3" fill="#a8b0d8"/>
<circle cx="182.4" cy="499.7" r="1.3" fill="#a8b0d8"/>
<circle cx="179.4" cy="497.7" r="1.2" fill="#8a5630"/>
<circle cx="131.8" cy="486.4" r="1.8" fill="#8a1e8e" stroke="#5a105e" stroke-width="0.35"/>
<circle cx="131.6" cy="486.2" r="0.76" fill="#c860d0"/>
<circle cx="131.8" cy="509.6" r="1.8" fill="#8a1e8e" stroke="#5a105e" stroke-width="0.35"/>
<circle cx="131.6" cy="509.4" r="0.76" fill="#c860d0"/>
<circle cx="155.6" cy="486.4" r="1.8" fill="#8a1e8e" stroke="#5a105e" stroke-width="0.35"/>
<circle cx="155.4" cy="486.2" r="0.76" fill="#c860d0"/>
<circle cx="155.6" cy="509.6" r="1.8" fill="#8a1e8e" stroke="#5a105e" stroke-width="0.35"/>
<circle cx="155.4" cy="509.4" r="0.76" fill="#c860d0"/>
<circle cx="179.4" cy="486.4" r="1.8" fill="#8a1e8e" stroke="#5a105e" stroke-width="0.35"/>
<circle cx="179.2" cy="486.2" r="0.76" fill="#c860d0"/>
<circle cx="179.4" cy="509.6" r="1.8" fill="#8a1e8e" stroke="#5a105e" stroke-width="0.35"/>
<circle cx="179.2" cy="509.4" r="0.76" fill="#c860d0"/>
<circle cx="203.2" cy="486.4" r="1.8" fill="#8a1e8e" stroke="#5a105e" stroke-width="0.35"/>
<circle cx="203" cy="486.2" r="0.76" fill="#c860d0"/>
<circle cx="203.2" cy="509.6" r="1.8" fill="#8a1e8e" stroke="#5a105e" stroke-width="0.35"/>
<circle cx="203" cy="509.4" r="0.76" fill="#c860d0"/>
<circle cx="143.7" cy="487.2" r="1.8" fill="#8a1e8e" stroke="#5a105e" stroke-width="0.35"/>
<circle cx="143.5" cy="487" r="0.76" fill="#c860d0"/>
<circle cx="143.7" cy="510.4" r="1.8" fill="#8a1e8e" stroke="#5a105e" stroke-width="0.35"/>
<circle cx="143.5" cy="510.2" r="0.76" fill="#c860d0"/>
<circle cx="142.4" cy="498.5" r="1.8" fill="#8a1e8e" stroke="#5a105e" stroke-width="0.35"/>
<circle cx="142.2" cy="498.3" r="0.76" fill="#c860d0"/>
<circle cx="145" cy="498.5" r="1.8" fill="#8a1e8e" stroke="#5a105e" stroke-width="0.35"/>
<circle cx="144.8" cy="498.3" r="0.76" fill="#c860d0"/>
<circle cx="167.5" cy="487.2" r="1.8" fill="#8a1e8e" stroke="#5a105e" stroke-width="0.35"/>
<circle cx="167.3" cy="487" r="0.76" fill="#c860d0"/>
<circle cx="167.5" cy="510.4" r="1.8" fill="#8a1e8e" stroke="#5a105e" stroke-width="0.35"/>
<circle cx="167.3" cy="510.2" r="0.76" fill="#c860d0"/>
<circle cx="166.2" cy="498.5" r="1.8" fill="#8a1e8e" stroke="#5a105e" stroke-width="0.35"/>
<circle cx="166" cy="498.3" r="0.76" fill="#c860d0"/>
<circle cx="168.8" cy="498.5" r="1.8" fill="#8a1e8e" stroke="#5a105e" stroke-width="0.35"/>
<circle cx="168.6" cy="498.3" r="0.76" fill="#c860d0"/>
<circle cx="191.3" cy="487.2" r="1.8" fill="#8a1e8e" stroke="#5a105e" stroke-width="0.35"/>
<circle cx="191.1" cy="487" r="0.76" fill="#c860d0"/>
<circle cx="191.3" cy="510.4" r="1.8" fill="#8a1e8e" stroke="#5a105e" stroke-width="0.35"/>
<circle cx="191.1" cy="510.2" r="0.76" fill="#c860d0"/>
<circle cx="190" cy="498.5" r="1.8" fill="#8a1e8e" stroke="#5a105e" stroke-width="0.35"/>
<circle cx="189.8" cy="498.3" r="0.76" fill="#c860d0"/>
<circle cx="192.6" cy="498.5" r="1.8" fill="#8a1e8e" stroke="#5a105e" stroke-width="0.35"/>
<circle cx="192.4" cy="498.3" r="0.76" fill="#c860d0"/>
<line x1="49.8" y1="431" x2="49.8" y2="422" stroke="#1818d8" stroke-width="0.8"/>
<line x1="49.8" y1="431" x2="56.8" y2="431" stroke="#18c018" stroke-width="0.8"/>
<circle cx="49.8" cy="431" r="0.6" fill="#c01818"/>
<circle cx="58.3" cy="431" r="0.4" fill="#808080"/>
<circle cx="49.8" cy="420.7" r="0.4" fill="#808080"/>
<line x1="115.5" y1="513" x2="115.5" y2="504" stroke="#1818d8" stroke-width="0.8"/>
<line x1="115.5" y1="513" x2="122.5" y2="513" stroke="#18c018" stroke-width="0.8"/>
<circle cx="115.5" cy="513" r="0.6" fill="#c01818"/>
<circle cx="124" cy="513" r="0.4" fill="#808080"/>
<circle cx="115.5" cy="502.7" r="0.4" fill="#808080"/>
<text x="97.5" y="391" font-size="8.6" text-anchor="middle" font-weight="bold" fill="#000">2NTD-FAPbI<tspan font-size="6" dy="2">3</tspan></text>
<text x="172" y="473.2" font-size="8.6" text-anchor="middle" font-weight="bold" fill="#000">FAPbI<tspan font-size="6" dy="2">3</tspan></text>
<polyline points="49.4,522.4 50.69,521.15 52.55,519.35 54.63,517.33 56.6,515.4 58.4,513.6 60.2,511.79 62,509.98 63.8,508.2 65.6,506.45 67.4,504.71 69.2,503.01 71,501.4 72.8,499.88 74.6,498.43 76.4,497.04 78.2,495.7 80,494.44 81.8,493.25 83.6,492.09 85.4,490.9 87.2,489.67 89,488.42 90.8,487.19 92.6,486 94.4,484.88 96.2,483.8 98,482.75 99.8,481.7 101.6,480.65 103.4,479.61 105.2,478.59 107,477.6 108.8,476.65 110.6,475.73 112.4,474.82 114.2,473.9 116,472.97 117.8,472.03 119.6,471.1 121.4,470.2 123.2,469.33 125,468.48 126.8,467.64 128.6,466.8 130.4,465.95 132.2,465.09 134,464.24 135.8,463.4 137.6,462.59 139.4,461.79 141.2,461 143,460.2 144.8,459.39 146.6,458.57 148.4,457.77 150.2,457 152,456.26 153.8,455.54 155.6,454.86 157.4,454.2 159.2,453.58 161,452.99 162.8,452.43 164.6,451.9 166.4,451.4 168.2,450.92 170,450.48 171.8,450.1 173.6,449.79 175.4,449.54 177.2,449.32 179,449.1 180.8,448.89 182.6,448.69 184.4,448.5 186.2,448.3 188,448.1 189.8,447.89 191.6,447.69 193.4,447.5 195.2,447.31 197,447.13 198.8,446.96 200.6,446.8 202.4,446.68 204.2,446.57 206,446.46 207.8,446.3 209.77,446.04 211.85,445.72 213.71,445.41 215,445.2" stroke="#4a4a4a" stroke-width="1.5" fill="none" stroke-linejoin="round" stroke-linecap="round"/>
<polyline points="49.4,513.5 50.69,512.44 52.55,510.91 54.63,509.18 56.6,507.5 58.4,505.9 60.2,504.25 62,502.58 63.8,500.9 65.6,499.2 67.4,497.46 69.2,495.75 71,494.1 72.8,492.52 74.6,490.98 76.4,489.5 78.2,488.1 80,486.82 81.8,485.63 83.6,484.48 85.4,483.3 87.2,482.06 89,480.8 90.8,479.56 92.6,478.4 94.4,477.34 96.2,476.34 98,475.38 99.8,474.4 101.6,473.39 103.4,472.38 105.2,471.38 107,470.4 108.8,469.45 110.6,468.52 112.4,467.61 114.2,466.7 116,465.78 117.8,464.87 119.6,463.97 121.4,463.1 123.2,462.29 125,461.52 126.8,460.74 128.6,459.9 130.4,458.96 132.2,457.95 134,456.94 135.8,456 137.6,455.15 139.4,454.36 141.2,453.58 143,452.8 144.8,452 146.6,451.21 148.4,450.41 150.2,449.6 152,448.78 153.8,447.95 155.6,447.12 157.4,446.3 159.2,445.49 161,444.68 162.8,443.88 164.6,443.1 166.4,442.35 168.2,441.62 170,440.9 171.8,440.2 173.6,439.52 175.4,438.85 177.2,438.18 179,437.5 180.8,436.79 182.6,436.06 184.4,435.32 186.2,434.6 188,433.89 189.8,433.19 191.6,432.49 193.4,431.8 195.2,431.11 197,430.43 198.8,429.76 200.6,429.1 202.4,428.47 204.2,427.86 206,427.25 207.8,426.6 209.77,425.84 211.85,424.99 213.71,424.23 215,423.7" stroke="#2f86c8" stroke-width="1.7" fill="none" stroke-linejoin="round" stroke-linecap="round"/>
<circle cx="49.4" cy="522.4" r="1.75" fill="#e0e0e0" stroke="#6a6a6a" stroke-width="0.9"/>
<circle cx="56.6" cy="515.4" r="1.75" fill="#e0e0e0" stroke="#6a6a6a" stroke-width="0.9"/>
<circle cx="63.8" cy="508.2" r="1.75" fill="#e0e0e0" stroke="#6a6a6a" stroke-width="0.9"/>
<circle cx="71" cy="501.4" r="1.75" fill="#e0e0e0" stroke="#6a6a6a" stroke-width="0.9"/>
<circle cx="78.2" cy="495.7" r="1.75" fill="#e0e0e0" stroke="#6a6a6a" stroke-width="0.9"/>
<circle cx="85.4" cy="490.9" r="1.75" fill="#e0e0e0" stroke="#6a6a6a" stroke-width="0.9"/>
<circle cx="92.6" cy="486" r="1.75" fill="#e0e0e0" stroke="#6a6a6a" stroke-width="0.9"/>
<circle cx="99.8" cy="481.7" r="1.75" fill="#e0e0e0" stroke="#6a6a6a" stroke-width="0.9"/>
<circle cx="107" cy="477.6" r="1.75" fill="#e0e0e0" stroke="#6a6a6a" stroke-width="0.9"/>
<circle cx="114.2" cy="473.9" r="1.75" fill="#e0e0e0" stroke="#6a6a6a" stroke-width="0.9"/>
<circle cx="121.4" cy="470.2" r="1.75" fill="#e0e0e0" stroke="#6a6a6a" stroke-width="0.9"/>
<circle cx="128.6" cy="466.8" r="1.75" fill="#e0e0e0" stroke="#6a6a6a" stroke-width="0.9"/>
<circle cx="135.8" cy="463.4" r="1.75" fill="#e0e0e0" stroke="#6a6a6a" stroke-width="0.9"/>
<circle cx="143" cy="460.2" r="1.75" fill="#e0e0e0" stroke="#6a6a6a" stroke-width="0.9"/>
<circle cx="150.2" cy="457" r="1.75" fill="#e0e0e0" stroke="#6a6a6a" stroke-width="0.9"/>
<circle cx="157.4" cy="454.2" r="1.75" fill="#e0e0e0" stroke="#6a6a6a" stroke-width="0.9"/>
<circle cx="164.6" cy="451.9" r="1.75" fill="#e0e0e0" stroke="#6a6a6a" stroke-width="0.9"/>
<circle cx="171.8" cy="450.1" r="1.75" fill="#e0e0e0" stroke="#6a6a6a" stroke-width="0.9"/>
<circle cx="179" cy="449.1" r="1.75" fill="#e0e0e0" stroke="#6a6a6a" stroke-width="0.9"/>
<circle cx="186.2" cy="448.3" r="1.75" fill="#e0e0e0" stroke="#6a6a6a" stroke-width="0.9"/>
<circle cx="193.4" cy="447.5" r="1.75" fill="#e0e0e0" stroke="#6a6a6a" stroke-width="0.9"/>
<circle cx="200.6" cy="446.8" r="1.75" fill="#e0e0e0" stroke="#6a6a6a" stroke-width="0.9"/>
<circle cx="207.8" cy="446.3" r="1.75" fill="#e0e0e0" stroke="#6a6a6a" stroke-width="0.9"/>
<circle cx="215" cy="445.2" r="1.75" fill="#e0e0e0" stroke="#6a6a6a" stroke-width="0.9"/>
<circle cx="49.4" cy="513.5" r="1.75" fill="#d0e8f8" stroke="#2f86c8" stroke-width="0.9"/>
<circle cx="56.6" cy="507.5" r="1.75" fill="#d0e8f8" stroke="#2f86c8" stroke-width="0.9"/>
<circle cx="63.8" cy="500.9" r="1.75" fill="#d0e8f8" stroke="#2f86c8" stroke-width="0.9"/>
<circle cx="71" cy="494.1" r="1.75" fill="#d0e8f8" stroke="#2f86c8" stroke-width="0.9"/>
<circle cx="78.2" cy="488.1" r="1.75" fill="#d0e8f8" stroke="#2f86c8" stroke-width="0.9"/>
<circle cx="85.4" cy="483.3" r="1.75" fill="#d0e8f8" stroke="#2f86c8" stroke-width="0.9"/>
<circle cx="92.6" cy="478.4" r="1.75" fill="#d0e8f8" stroke="#2f86c8" stroke-width="0.9"/>
<circle cx="99.8" cy="474.4" r="1.75" fill="#d0e8f8" stroke="#2f86c8" stroke-width="0.9"/>
<circle cx="107" cy="470.4" r="1.75" fill="#d0e8f8" stroke="#2f86c8" stroke-width="0.9"/>
<circle cx="114.2" cy="466.7" r="1.75" fill="#d0e8f8" stroke="#2f86c8" stroke-width="0.9"/>
<circle cx="121.4" cy="463.1" r="1.75" fill="#d0e8f8" stroke="#2f86c8" stroke-width="0.9"/>
<circle cx="128.6" cy="459.9" r="1.75" fill="#d0e8f8" stroke="#2f86c8" stroke-width="0.9"/>
<circle cx="135.8" cy="456" r="1.75" fill="#d0e8f8" stroke="#2f86c8" stroke-width="0.9"/>
<circle cx="143" cy="452.8" r="1.75" fill="#d0e8f8" stroke="#2f86c8" stroke-width="0.9"/>
<circle cx="150.2" cy="449.6" r="1.75" fill="#d0e8f8" stroke="#2f86c8" stroke-width="0.9"/>
<circle cx="157.4" cy="446.3" r="1.75" fill="#d0e8f8" stroke="#2f86c8" stroke-width="0.9"/>
<circle cx="164.6" cy="443.1" r="1.75" fill="#d0e8f8" stroke="#2f86c8" stroke-width="0.9"/>
<circle cx="171.8" cy="440.2" r="1.75" fill="#d0e8f8" stroke="#2f86c8" stroke-width="0.9"/>
<circle cx="179" cy="437.5" r="1.75" fill="#d0e8f8" stroke="#2f86c8" stroke-width="0.9"/>
<circle cx="186.2" cy="434.6" r="1.75" fill="#d0e8f8" stroke="#2f86c8" stroke-width="0.9"/>
<circle cx="193.4" cy="431.8" r="1.75" fill="#d0e8f8" stroke="#2f86c8" stroke-width="0.9"/>
<circle cx="200.6" cy="429.1" r="1.75" fill="#d0e8f8" stroke="#2f86c8" stroke-width="0.9"/>
<circle cx="207.8" cy="426.6" r="1.75" fill="#d0e8f8" stroke="#2f86c8" stroke-width="0.9"/>
<circle cx="215" cy="423.7" r="1.75" fill="#d0e8f8" stroke="#2f86c8" stroke-width="0.9"/>
<line x1="164" y1="388.5" x2="182" y2="388.5" stroke="#4a4a4a" stroke-width="1.5"/>
<circle cx="173" cy="388.5" r="1.75" fill="#e0e0e0" stroke="#6a6a6a" stroke-width="0.9"/>
<line x1="164" y1="398.4" x2="182" y2="398.4" stroke="#2f86c8" stroke-width="1.7"/>
<circle cx="173" cy="398.4" r="1.75" fill="#d0e8f8" stroke="#2f86c8" stroke-width="0.9"/>
<text x="184.6" y="391.3" font-size="8" text-anchor="start" font-weight="bold" fill="#000">Control</text>
<text x="184.6" y="401.2" font-size="8" text-anchor="start" font-weight="bold" fill="#000">2NTD</text>
<clipPath id="clipi"><rect x="275.2" y="378.4" width="179.5" height="151.6"/></clipPath>
<g clip-path="url(#clipi)">
<line x1="284" y1="418.1" x2="450.4" y2="388" stroke="#3d85c8" stroke-width="1.4"/>
<line x1="284" y1="459.4" x2="450.4" y2="388" stroke="#333333" stroke-width="1.4"/>
<line x1="284" y1="463.7" x2="450.4" y2="422.4" stroke="#c8344e" stroke-width="1.4"/>
<line x1="284" y1="493.6" x2="450.4" y2="455.8" stroke="#f7a81b" stroke-width="1.4"/>
<circle cx="284" cy="485.7" r="1.9" fill="#555555"/>
<circle cx="283.4" cy="485.1" r="0.72" fill="#fff" opacity="0.55"/>
<circle cx="310" cy="425.7" r="1.9" fill="#555555"/>
<circle cx="309.4" cy="425.1" r="0.72" fill="#fff" opacity="0.55"/>
<circle cx="350" cy="420.8" r="1.9" fill="#555555"/>
<circle cx="349.4" cy="420.2" r="0.72" fill="#fff" opacity="0.55"/>
<circle cx="398.3" cy="411.8" r="1.9" fill="#555555"/>
<circle cx="397.7" cy="411.2" r="0.72" fill="#fff" opacity="0.55"/>
<circle cx="450.4" cy="396.9" r="1.9" fill="#555555"/>
<circle cx="449.8" cy="396.3" r="0.72" fill="#fff" opacity="0.55"/>
<circle cx="284" cy="504.1" r="1.9" fill="#f7a81b"/>
<circle cx="283.4" cy="503.5" r="0.72" fill="#fff" opacity="0.55"/>
<circle cx="310" cy="480.5" r="1.9" fill="#f7a81b"/>
<circle cx="309.4" cy="479.9" r="0.72" fill="#fff" opacity="0.55"/>
<circle cx="350" cy="472.8" r="1.9" fill="#f7a81b"/>
<circle cx="349.4" cy="472.2" r="0.72" fill="#fff" opacity="0.55"/>
<circle cx="398.3" cy="463.5" r="1.9" fill="#f7a81b"/>
<circle cx="397.7" cy="462.9" r="0.72" fill="#fff" opacity="0.55"/>
<circle cx="450.4" cy="461.5" r="1.9" fill="#f7a81b"/>
<circle cx="449.8" cy="460.9" r="0.72" fill="#fff" opacity="0.55"/>
<circle cx="284" cy="430.7" r="1.9" fill="#3d85c8"/>
<circle cx="283.4" cy="430.1" r="0.72" fill="#fff" opacity="0.55"/>
<circle cx="310" cy="405.5" r="1.9" fill="#3d85c8"/>
<circle cx="309.4" cy="404.9" r="0.72" fill="#fff" opacity="0.55"/>
<circle cx="350" cy="397.3" r="1.9" fill="#3d85c8"/>
<circle cx="349.4" cy="396.7" r="0.72" fill="#fff" opacity="0.55"/>
<circle cx="398.3" cy="396" r="1.9" fill="#3d85c8"/>
<circle cx="397.7" cy="395.4" r="0.72" fill="#fff" opacity="0.55"/>
<circle cx="450.4" cy="393.3" r="1.9" fill="#3d85c8"/>
<circle cx="449.8" cy="392.7" r="0.72" fill="#fff" opacity="0.55"/>
<circle cx="284" cy="469.1" r="1.9" fill="#c8344e"/>
<circle cx="283.4" cy="468.5" r="0.72" fill="#fff" opacity="0.55"/>
<circle cx="310" cy="457.4" r="1.9" fill="#c8344e"/>
<circle cx="309.4" cy="456.8" r="0.72" fill="#fff" opacity="0.55"/>
<circle cx="350" cy="439.1" r="1.9" fill="#c8344e"/>
<circle cx="349.4" cy="438.5" r="0.72" fill="#fff" opacity="0.55"/>
<circle cx="398.3" cy="433.2" r="1.9" fill="#c8344e"/>
<circle cx="397.7" cy="432.6" r="0.72" fill="#fff" opacity="0.55"/>
<circle cx="450.4" cy="427.1" r="1.9" fill="#c8344e"/>
<circle cx="449.8" cy="426.5" r="0.72" fill="#fff" opacity="0.55"/>
</g>
<rect x="275.2" y="378.4" width="179.5" height="151.6" fill="none" stroke="#000" stroke-width="1.3"/>
<line x1="275.2" y1="530" x2="275.2" y2="533" stroke="#000" stroke-width="1.1"/>
<line x1="305.12" y1="530" x2="305.12" y2="533" stroke="#000" stroke-width="1.1"/>
<line x1="335.03" y1="530" x2="335.03" y2="533" stroke="#000" stroke-width="1.1"/>
<line x1="364.95" y1="530" x2="364.95" y2="533" stroke="#000" stroke-width="1.1"/>
<line x1="394.87" y1="530" x2="394.87" y2="533" stroke="#000" stroke-width="1.1"/>
<line x1="424.78" y1="530" x2="424.78" y2="533" stroke="#000" stroke-width="1.1"/>
<line x1="454.7" y1="530" x2="454.7" y2="533" stroke="#000" stroke-width="1.1"/>
<line x1="290.16" y1="530" x2="290.16" y2="531.7" stroke="#000" stroke-width="1.1"/>
<line x1="320.07" y1="530" x2="320.07" y2="531.7" stroke="#000" stroke-width="1.1"/>
<line x1="349.99" y1="530" x2="349.99" y2="531.7" stroke="#000" stroke-width="1.1"/>
<line x1="379.91" y1="530" x2="379.91" y2="531.7" stroke="#000" stroke-width="1.1"/>
<line x1="409.82" y1="530" x2="409.82" y2="531.7" stroke="#000" stroke-width="1.1"/>
<line x1="439.74" y1="530" x2="439.74" y2="531.7" stroke="#000" stroke-width="1.1"/>
<text x="275.2" y="541.5" font-size="8.2" text-anchor="middle" font-weight="bold" fill="#000">0.0</text>
<text x="305.12" y="541.5" font-size="8.2" text-anchor="middle" font-weight="bold" fill="#000">0.1</text>
<text x="335.03" y="541.5" font-size="8.2" text-anchor="middle" font-weight="bold" fill="#000">0.2</text>
<text x="364.95" y="541.5" font-size="8.2" text-anchor="middle" font-weight="bold" fill="#000">0.3</text>
<text x="394.87" y="541.5" font-size="8.2" text-anchor="middle" font-weight="bold" fill="#000">0.4</text>
<text x="424.78" y="541.5" font-size="8.2" text-anchor="middle" font-weight="bold" fill="#000">0.5</text>
<text x="454.7" y="541.5" font-size="8.2" text-anchor="middle" font-weight="bold" fill="#000">0.6</text>
<line x1="275.2" y1="530" x2="272.2" y2="530" stroke="#000" stroke-width="1.1"/>
<line x1="275.2" y1="499.68" x2="272.2" y2="499.68" stroke="#000" stroke-width="1.1"/>
<line x1="275.2" y1="469.36" x2="272.2" y2="469.36" stroke="#000" stroke-width="1.1"/>
<line x1="275.2" y1="439.04" x2="272.2" y2="439.04" stroke="#000" stroke-width="1.1"/>
<line x1="275.2" y1="408.72" x2="272.2" y2="408.72" stroke="#000" stroke-width="1.1"/>
<line x1="275.2" y1="378.4" x2="272.2" y2="378.4" stroke="#000" stroke-width="1.1"/>
<line x1="275.2" y1="514.84" x2="273.5" y2="514.84" stroke="#000" stroke-width="1.1"/>
<line x1="275.2" y1="484.52" x2="273.5" y2="484.52" stroke="#000" stroke-width="1.1"/>
<line x1="275.2" y1="454.2" x2="273.5" y2="454.2" stroke="#000" stroke-width="1.1"/>
<line x1="275.2" y1="423.88" x2="273.5" y2="423.88" stroke="#000" stroke-width="1.1"/>
<line x1="275.2" y1="393.56" x2="273.5" y2="393.56" stroke="#000" stroke-width="1.1"/>
<text x="270.05" y="533" font-size="8.2" text-anchor="end" font-weight="bold" fill="#000" letter-spacing="0.3">31.500</text>
<text x="270.05" y="502.68" font-size="8.2" text-anchor="end" font-weight="bold" fill="#000" letter-spacing="0.3">31.505</text>
<text x="270.05" y="472.36" font-size="8.2" text-anchor="end" font-weight="bold" fill="#000" letter-spacing="0.3">31.510</text>
<text x="270.05" y="442.04" font-size="8.2" text-anchor="end" font-weight="bold" fill="#000" letter-spacing="0.3">31.515</text>
<text x="270.05" y="411.72" font-size="8.2" text-anchor="end" font-weight="bold" fill="#000" letter-spacing="0.3">31.520</text>
<text x="270.05" y="381.4" font-size="8.2" text-anchor="end" font-weight="bold" fill="#000" letter-spacing="0.3">31.525</text>
<text x="240" y="454.2" font-size="10" text-anchor="middle" font-weight="bold" fill="#000" transform="rotate(-90 240 454.2)">2θ (degree)</text>
<text x="364.95" y="552.5" font-size="10" text-anchor="middle" font-weight="bold" fill="#000">Sin<tspan font-size="6.5" dy="-3.6">2</tspan><tspan dy="3.6">ψ</tspan></text>
<text x="230.4" y="381.8" font-size="13" text-anchor="start" font-weight="bold" fill="#000">i</text>
<text x="278.8" y="388.6" font-size="7.8" text-anchor="start" font-weight="bold" fill="#000">Before I<tspan font-size="5.5" dy="2">2</tspan><tspan dy="-2"> vapor aging</tspan></text>
<text x="280.2" y="525.7" font-size="7.2" text-anchor="start" font-weight="bold" fill="#000">(012)</text>
<circle cx="379.2" cy="494.5" r="2" fill="#555555"/>
<circle cx="378.6" cy="493.9" r="0.76" fill="#fff" opacity="0.55"/>
<text x="389.4" y="497" font-size="7" text-anchor="start" font-weight="bold" fill="#000">Control - 4.94 MPa</text>
<circle cx="379.2" cy="503.37" r="2" fill="#f7a81b"/>
<circle cx="378.6" cy="502.77" r="0.76" fill="#fff" opacity="0.55"/>
<text x="389.4" y="505.87" font-size="7" text-anchor="start" font-weight="bold" fill="#000">5NT4D - 2.67 MPa</text>
<circle cx="379.2" cy="512.24" r="2" fill="#3d85c8"/>
<circle cx="378.6" cy="511.64" r="0.76" fill="#fff" opacity="0.55"/>
<text x="389.4" y="514.74" font-size="7" text-anchor="start" font-weight="bold" fill="#000">2NTD - 2.09 MPa</text>
<circle cx="379.2" cy="521.11" r="2" fill="#c8344e"/>
<circle cx="378.6" cy="520.51" r="0.76" fill="#fff" opacity="0.55"/>
<text x="389.4" y="523.61" font-size="7" text-anchor="start" font-weight="bold" fill="#000">5NT3D - 2.90 MPa</text>
<clipPath id="clipj"><rect x="499.7" y="378.4" width="179.2" height="151.6"/></clipPath>
<g clip-path="url(#clipj)">
<line x1="507.8" y1="405.9" x2="674.5" y2="392.4" stroke="#3d85c8" stroke-width="1.4"/>
<line x1="507.8" y1="427.8" x2="674.5" y2="413.1" stroke="#f7a81b" stroke-width="1.4"/>
<line x1="507.8" y1="453.8" x2="674.5" y2="421.2" stroke="#c8344e" stroke-width="1.4"/>
<line x1="507.8" y1="507.6" x2="674.5" y2="439.1" stroke="#333333" stroke-width="1.4"/>
<circle cx="507.8" cy="519" r="1.9" fill="#555555"/>
<circle cx="507.2" cy="518.4" r="0.72" fill="#fff" opacity="0.55"/>
<circle cx="534" cy="487.5" r="1.9" fill="#555555"/>
<circle cx="533.4" cy="486.9" r="0.72" fill="#fff" opacity="0.55"/>
<circle cx="573.9" cy="473.7" r="1.9" fill="#555555"/>
<circle cx="573.3" cy="473.1" r="0.72" fill="#fff" opacity="0.55"/>
<circle cx="622.5" cy="460.7" r="1.9" fill="#555555"/>
<circle cx="621.9" cy="460.1" r="0.72" fill="#fff" opacity="0.55"/>
<circle cx="674.5" cy="442.7" r="1.9" fill="#555555"/>
<circle cx="673.9" cy="442.1" r="0.72" fill="#fff" opacity="0.55"/>
<circle cx="507.8" cy="434.6" r="1.9" fill="#f7a81b"/>
<circle cx="507.2" cy="434" r="0.72" fill="#fff" opacity="0.55"/>
<circle cx="534" cy="420.8" r="1.9" fill="#f7a81b"/>
<circle cx="533.4" cy="420.2" r="0.72" fill="#fff" opacity="0.55"/>
<circle cx="622.5" cy="424.8" r="1.9" fill="#f7a81b"/>
<circle cx="621.9" cy="424.2" r="0.72" fill="#fff" opacity="0.55"/>
<circle cx="674.5" cy="413.1" r="1.9" fill="#f7a81b"/>
<circle cx="673.9" cy="412.5" r="0.72" fill="#fff" opacity="0.55"/>
<circle cx="507.8" cy="407.3" r="1.9" fill="#3d85c8"/>
<circle cx="507.2" cy="406.7" r="0.72" fill="#fff" opacity="0.55"/>
<circle cx="534" cy="398.4" r="1.9" fill="#3d85c8"/>
<circle cx="533.4" cy="397.8" r="0.72" fill="#fff" opacity="0.55"/>
<circle cx="573.9" cy="403.5" r="1.9" fill="#3d85c8"/>
<circle cx="573.3" cy="402.9" r="0.72" fill="#fff" opacity="0.55"/>
<circle cx="622.5" cy="400" r="1.9" fill="#3d85c8"/>
<circle cx="621.9" cy="399.4" r="0.72" fill="#fff" opacity="0.55"/>
<circle cx="674.5" cy="390.6" r="1.9" fill="#3d85c8"/>
<circle cx="673.9" cy="390" r="0.72" fill="#fff" opacity="0.55"/>
<circle cx="507.8" cy="464.4" r="1.9" fill="#c8344e"/>
<circle cx="507.2" cy="463.8" r="0.72" fill="#fff" opacity="0.55"/>
<circle cx="534" cy="440" r="1.9" fill="#c8344e"/>
<circle cx="533.4" cy="439.4" r="0.72" fill="#fff" opacity="0.55"/>
<circle cx="573.9" cy="436.1" r="1.9" fill="#c8344e"/>
<circle cx="573.3" cy="435.5" r="0.72" fill="#fff" opacity="0.55"/>
<circle cx="622.5" cy="431" r="1.9" fill="#c8344e"/>
<circle cx="621.9" cy="430.4" r="0.72" fill="#fff" opacity="0.55"/>
<circle cx="674.5" cy="424.8" r="1.9" fill="#c8344e"/>
<circle cx="673.9" cy="424.2" r="0.72" fill="#fff" opacity="0.55"/>
<circle cx="573.9" cy="414.3" r="1.9" fill="#b03a2a"/>
<circle cx="573.3" cy="413.7" r="0.72" fill="#fff" opacity="0.55"/>
</g>
<rect x="499.7" y="378.4" width="179.2" height="151.6" fill="none" stroke="#000" stroke-width="1.3"/>
<line x1="499.7" y1="530" x2="499.7" y2="533" stroke="#000" stroke-width="1.1"/>
<line x1="529.57" y1="530" x2="529.57" y2="533" stroke="#000" stroke-width="1.1"/>
<line x1="559.43" y1="530" x2="559.43" y2="533" stroke="#000" stroke-width="1.1"/>
<line x1="589.3" y1="530" x2="589.3" y2="533" stroke="#000" stroke-width="1.1"/>
<line x1="619.17" y1="530" x2="619.17" y2="533" stroke="#000" stroke-width="1.1"/>
<line x1="649.03" y1="530" x2="649.03" y2="533" stroke="#000" stroke-width="1.1"/>
<line x1="678.9" y1="530" x2="678.9" y2="533" stroke="#000" stroke-width="1.1"/>
<line x1="514.63" y1="530" x2="514.63" y2="531.7" stroke="#000" stroke-width="1.1"/>
<line x1="544.5" y1="530" x2="544.5" y2="531.7" stroke="#000" stroke-width="1.1"/>
<line x1="574.37" y1="530" x2="574.37" y2="531.7" stroke="#000" stroke-width="1.1"/>
<line x1="604.23" y1="530" x2="604.23" y2="531.7" stroke="#000" stroke-width="1.1"/>
<line x1="634.1" y1="530" x2="634.1" y2="531.7" stroke="#000" stroke-width="1.1"/>
<line x1="663.97" y1="530" x2="663.97" y2="531.7" stroke="#000" stroke-width="1.1"/>
<text x="499.7" y="541.5" font-size="8.2" text-anchor="middle" font-weight="bold" fill="#000">0.0</text>
<text x="529.57" y="541.5" font-size="8.2" text-anchor="middle" font-weight="bold" fill="#000">0.1</text>
<text x="559.43" y="541.5" font-size="8.2" text-anchor="middle" font-weight="bold" fill="#000">0.2</text>
<text x="589.3" y="541.5" font-size="8.2" text-anchor="middle" font-weight="bold" fill="#000">0.3</text>
<text x="619.17" y="541.5" font-size="8.2" text-anchor="middle" font-weight="bold" fill="#000">0.4</text>
<text x="649.03" y="541.5" font-size="8.2" text-anchor="middle" font-weight="bold" fill="#000">0.5</text>
<text x="678.9" y="541.5" font-size="8.2" text-anchor="middle" font-weight="bold" fill="#000">0.6</text>
<line x1="499.7" y1="530" x2="496.7" y2="530" stroke="#000" stroke-width="1.1"/>
<line x1="499.7" y1="504.73" x2="496.7" y2="504.73" stroke="#000" stroke-width="1.1"/>
<line x1="499.7" y1="479.47" x2="496.7" y2="479.47" stroke="#000" stroke-width="1.1"/>
<line x1="499.7" y1="454.2" x2="496.7" y2="454.2" stroke="#000" stroke-width="1.1"/>
<line x1="499.7" y1="428.93" x2="496.7" y2="428.93" stroke="#000" stroke-width="1.1"/>
<line x1="499.7" y1="403.67" x2="496.7" y2="403.67" stroke="#000" stroke-width="1.1"/>
<line x1="499.7" y1="378.4" x2="496.7" y2="378.4" stroke="#000" stroke-width="1.1"/>
<line x1="499.7" y1="517.37" x2="498" y2="517.37" stroke="#000" stroke-width="1.1"/>
<line x1="499.7" y1="492.1" x2="498" y2="492.1" stroke="#000" stroke-width="1.1"/>
<line x1="499.7" y1="466.83" x2="498" y2="466.83" stroke="#000" stroke-width="1.1"/>
<line x1="499.7" y1="441.57" x2="498" y2="441.57" stroke="#000" stroke-width="1.1"/>
<line x1="499.7" y1="416.3" x2="498" y2="416.3" stroke="#000" stroke-width="1.1"/>
<line x1="499.7" y1="391.03" x2="498" y2="391.03" stroke="#000" stroke-width="1.1"/>
<text x="494.55" y="533" font-size="8.2" text-anchor="end" font-weight="bold" fill="#000" letter-spacing="0.3">31.460</text>
<text x="494.55" y="507.73" font-size="8.2" text-anchor="end" font-weight="bold" fill="#000" letter-spacing="0.3">31.470</text>
<text x="494.55" y="482.47" font-size="8.2" text-anchor="end" font-weight="bold" fill="#000" letter-spacing="0.3">31.480</text>
<text x="494.55" y="457.2" font-size="8.2" text-anchor="end" font-weight="bold" fill="#000" letter-spacing="0.3">31.490</text>
<text x="494.55" y="431.93" font-size="8.2" text-anchor="end" font-weight="bold" fill="#000" letter-spacing="0.3">31.500</text>
<text x="494.55" y="406.67" font-size="8.2" text-anchor="end" font-weight="bold" fill="#000" letter-spacing="0.3">31.510</text>
<text x="494.55" y="381.4" font-size="8.2" text-anchor="end" font-weight="bold" fill="#000" letter-spacing="0.3">31.520</text>
<text x="464.5" y="454.2" font-size="10" text-anchor="middle" font-weight="bold" fill="#000" transform="rotate(-90 464.5 454.2)">2θ (degree)</text>
<text x="589.3" y="552.5" font-size="10" text-anchor="middle" font-weight="bold" fill="#000">Sin<tspan font-size="6.5" dy="-3.6">2</tspan><tspan dy="3.6">ψ</tspan></text>
<text x="457.3" y="381.8" font-size="13" text-anchor="start" font-weight="bold" fill="#000">j</text>
<text x="503.9" y="388.6" font-size="7.8" text-anchor="start" font-weight="bold" fill="#000">After I<tspan font-size="5.5" dy="2">2</tspan><tspan dy="-2"> vapor aging</tspan></text>
<text x="513.9" y="526.5" font-size="7.2" text-anchor="start" font-weight="bold" fill="#000">(012)</text>
<circle cx="602.5" cy="494.5" r="2" fill="#555555"/>
<circle cx="601.9" cy="493.9" r="0.76" fill="#fff" opacity="0.55"/>
<text x="613.1" y="497" font-size="7" text-anchor="start" font-weight="bold" fill="#000">Control -11.11 MPa</text>
<circle cx="602.5" cy="503.37" r="2" fill="#f7a81b"/>
<circle cx="601.9" cy="502.77" r="0.76" fill="#fff" opacity="0.55"/>
<text x="613.1" y="505.87" font-size="7" text-anchor="start" font-weight="bold" fill="#000">5NT4D-2.29 MPa</text>
<circle cx="602.5" cy="512.24" r="2" fill="#3d85c8"/>
<circle cx="601.9" cy="511.64" r="0.76" fill="#fff" opacity="0.55"/>
<text x="613.1" y="514.74" font-size="7" text-anchor="start" font-weight="bold" fill="#000">2NTD-2.10 MPa</text>
<circle cx="602.5" cy="521.11" r="2" fill="#c8344e"/>
<circle cx="601.9" cy="520.51" r="0.76" fill="#fff" opacity="0.55"/>
<text x="613.1" y="523.61" font-size="7" text-anchor="start" font-weight="bold" fill="#000">5NT3D-5.35 MPa</text>
</svg>
</body></html>
